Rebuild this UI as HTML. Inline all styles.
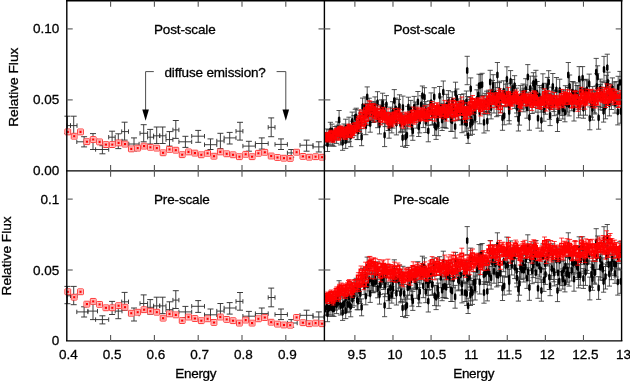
<!DOCTYPE html>
<html><head><meta charset="utf-8"><style>
html,body{margin:0;padding:0;background:#fff;width:630px;height:381px;overflow:hidden;}
svg{display:block;will-change:transform;filter:blur(0.35px);} text{-webkit-font-smoothing:antialiased;} body{-webkit-font-smoothing:antialiased;}
</style></head><body><svg width="630" height="381" viewBox="0 0 630 381"><path d="M66.9,125.6H70.5M67.4,116.2V133.5M64.4,116.2H70.4M64.4,133.5H70.4M66.9,123.4V127.8M70.5,123.4V127.8M70.5,125.6H77.0M73.7,116.2V134.5M70.7,116.2H76.7M70.7,134.5H76.7M70.5,123.4V127.8M77.0,123.4V127.8M76.8,141.8H87.9M84.1,136.7V146.9M81.1,136.7H87.1M81.1,146.9H87.1M76.8,139.6V144.0M87.9,139.6V144.0M87.9,141.0H97.5M93.0,133.6V149.5M90.0,133.6H96.0M90.0,149.5H96.0M87.9,138.8V143.2M97.5,138.8V143.2M95.6,149.5H108.7M102.4,145.7V153.8M99.4,145.7H105.4M99.4,153.8H105.4M95.6,147.3V151.7M108.7,147.3V151.7M108.7,137.2H115.2M112.1,131.2V144.4M109.1,131.2H115.1M109.1,144.4H115.1M108.7,135.0V139.4M115.2,135.0V139.4M115.2,141.0H122.0M118.3,133.8V148.6M115.3,133.8H121.3M115.3,148.6H121.3M115.2,138.8V143.2M122.0,138.8V143.2M121.7,131.6H128.5M124.6,122.2V140.1M121.6,122.2H127.6M121.6,140.1H127.6M121.7,129.4V133.8M128.5,129.4V133.8M128.8,144.0H139.1M134.0,137.9V150.9M131.0,137.9H137.0M131.0,150.9H137.0M128.8,141.8V146.2M139.1,141.8V146.2M140.0,133.3H147.6M143.7,124.7V141.8M140.7,124.7H146.7M140.7,141.8H146.7M140.0,131.1V135.5M147.6,131.1V135.5M147.6,137.2H153.6M150.2,129.4V144.0M147.2,129.4H153.2M147.2,144.0H153.2M147.6,135.0V139.4M153.6,135.0V139.4M153.6,135.8H159.7M156.7,127.0V143.5M153.7,127.0H159.7M153.7,143.5H159.7M153.6,133.6V138.0M159.7,133.6V138.0M159.7,135.8H166.0M162.7,127.0V143.5M159.7,127.0H165.7M159.7,143.5H165.7M159.7,133.6V138.0M166.0,133.6V138.0M166.0,139.6H172.9M169.5,131.6V146.1M166.5,131.6H172.5M166.5,146.1H172.5M166.0,137.4V141.8M172.9,137.4V141.8M172.9,129.9H178.9M175.8,120.5V138.4M172.8,120.5H178.8M172.8,138.4H178.8M172.9,127.7V132.1M178.9,127.7V132.1M178.9,141.8H191.7M185.4,136.3V147.4M182.4,136.3H188.4M182.4,147.4H188.4M178.9,139.6V144.0M191.7,139.6V144.0M191.7,136.2H204.5M198.2,130.4V142.3M195.2,130.4H201.2M195.2,142.3H201.2M191.7,134.0V138.4M204.5,134.0V138.4M204.5,144.7H216.8M210.5,138.9V149.5M207.5,138.9H213.5M207.5,149.5H213.5M204.5,142.5V146.9M216.8,142.5V146.9M216.8,141.0H224.1M220.4,133.3V148.6M217.4,133.3H223.4M217.4,148.6H223.4M216.8,138.8V143.2M224.1,138.8V143.2M224.1,137.9H236.0M229.7,132.4V144.0M226.7,132.4H232.7M226.7,144.0H232.7M224.1,135.7V140.1M236.0,135.7V140.1M236.0,131.2H242.9M240.0,122.3V140.1M237.0,122.3H243.0M237.0,140.1H243.0M236.0,129.0V133.4M242.9,129.0V133.4M242.9,146.1H255.4M248.9,141.3V151.2M245.9,141.3H251.9M245.9,151.2H251.9M242.9,143.9V148.3M255.4,143.9V148.3M255.4,143.5H268.2M261.8,137.9V149.1M258.8,137.9H264.8M258.8,149.1H264.8M255.4,141.3V145.7M268.2,141.3V145.7M268.2,127.3H275.0M271.2,117.9V136.7M268.2,117.9H274.2M268.2,136.7H274.2M268.2,125.1V129.5M275.0,125.1V129.5M275.0,144.4H287.4M281.0,138.9V149.5M278.0,138.9H284.0M278.0,149.5H284.0M275.0,142.2V146.6M287.4,142.2V146.6M287.4,152.9H297.2M291.2,149.5V157.2M288.2,149.5H294.2M288.2,157.2H294.2M287.4,150.7V155.1M297.2,150.7V155.1M300.0,145.2H313.0M306.6,140.1V151.2M303.6,140.1H309.6M303.6,151.2H309.6M300.0,143.0V147.4M313.0,143.0V147.4M313.0,146.9H324.0M318.8,141.8V152.0M315.8,141.8H321.8M315.8,152.0H321.8M313.0,144.7V149.1M324.0,144.7V149.1" stroke="#333" stroke-width="0.95" fill="none"/><g stroke="#ff0000" stroke-width="1" fill="none"><rect x="64.90" y="129.00" width="5.80" height="5.80" stroke-width="1.0" stroke="#ff3838" fill="#fff" rx="0.6"/><rect x="66.20" y="130.30" width="3.2" height="3.2" stroke-width="0.7" stroke-opacity="0.45"/><rect x="71.25" y="133.30" width="5.80" height="5.80" stroke-width="1.0" stroke="#ff3838" fill="#fff" rx="0.6"/><rect x="72.56" y="134.60" width="3.2" height="3.2" stroke-width="0.7" stroke-opacity="0.45"/><rect x="77.61" y="129.00" width="5.80" height="5.80" stroke-width="1.0" stroke="#ff3838" fill="#fff" rx="0.6"/><rect x="78.91" y="130.30" width="3.2" height="3.2" stroke-width="0.7" stroke-opacity="0.45"/><rect x="83.96" y="138.80" width="5.80" height="5.80" stroke-width="1.0" stroke="#ff3838" fill="#fff" rx="0.6"/><rect x="85.27" y="140.10" width="3.2" height="3.2" stroke-width="0.7" stroke-opacity="0.45"/><rect x="90.32" y="136.60" width="5.80" height="5.80" stroke-width="1.0" stroke="#ff3838" fill="#fff" rx="0.6"/><rect x="91.62" y="137.90" width="3.2" height="3.2" stroke-width="0.7" stroke-opacity="0.45"/><rect x="96.67" y="139.00" width="5.80" height="5.80" stroke-width="1.0" stroke="#ff3838" fill="#fff" rx="0.6"/><rect x="97.98" y="140.30" width="3.2" height="3.2" stroke-width="0.7" stroke-opacity="0.45"/><rect x="103.03" y="141.70" width="5.80" height="5.80" stroke-width="1.0" stroke="#ff3838" fill="#fff" rx="0.6"/><rect x="104.33" y="143.00" width="3.2" height="3.2" stroke-width="0.7" stroke-opacity="0.45"/><rect x="109.38" y="141.70" width="5.80" height="5.80" stroke-width="1.0" stroke="#ff3838" fill="#fff" rx="0.6"/><rect x="110.69" y="143.00" width="3.2" height="3.2" stroke-width="0.7" stroke-opacity="0.45"/><rect x="115.74" y="140.00" width="5.80" height="5.80" stroke-width="1.0" stroke="#ff3838" fill="#fff" rx="0.6"/><rect x="117.04" y="141.30" width="3.2" height="3.2" stroke-width="0.7" stroke-opacity="0.45"/><rect x="122.09" y="141.20" width="5.80" height="5.80" stroke-width="1.0" stroke="#ff3838" fill="#fff" rx="0.6"/><rect x="123.40" y="142.50" width="3.2" height="3.2" stroke-width="0.7" stroke-opacity="0.45"/><rect x="128.45" y="146.00" width="5.80" height="5.80" stroke-width="1.0" stroke="#ff3838" fill="#fff" rx="0.6"/><rect x="129.75" y="147.30" width="3.2" height="3.2" stroke-width="0.7" stroke-opacity="0.45"/><rect x="134.80" y="145.20" width="5.80" height="5.80" stroke-width="1.0" stroke="#ff3838" fill="#fff" rx="0.6"/><rect x="136.10" y="146.50" width="3.2" height="3.2" stroke-width="0.7" stroke-opacity="0.45"/><rect x="141.16" y="143.20" width="5.80" height="5.80" stroke-width="1.0" stroke="#ff3838" fill="#fff" rx="0.6"/><rect x="142.46" y="144.50" width="3.2" height="3.2" stroke-width="0.7" stroke-opacity="0.45"/><rect x="147.52" y="144.40" width="5.80" height="5.80" stroke-width="1.0" stroke="#ff3838" fill="#fff" rx="0.6"/><rect x="148.82" y="145.70" width="3.2" height="3.2" stroke-width="0.7" stroke-opacity="0.45"/><rect x="153.87" y="145.20" width="5.80" height="5.80" stroke-width="1.0" stroke="#ff3838" fill="#fff" rx="0.6"/><rect x="155.17" y="146.50" width="3.2" height="3.2" stroke-width="0.7" stroke-opacity="0.45"/><rect x="160.22" y="149.90" width="5.80" height="5.80" stroke-width="1.0" stroke="#ff3838" fill="#fff" rx="0.6"/><rect x="161.53" y="151.20" width="3.2" height="3.2" stroke-width="0.7" stroke-opacity="0.45"/><rect x="166.58" y="146.50" width="5.80" height="5.80" stroke-width="1.0" stroke="#ff3838" fill="#fff" rx="0.6"/><rect x="167.88" y="147.80" width="3.2" height="3.2" stroke-width="0.7" stroke-opacity="0.45"/><rect x="172.94" y="147.30" width="5.80" height="5.80" stroke-width="1.0" stroke="#ff3838" fill="#fff" rx="0.6"/><rect x="174.24" y="148.60" width="3.2" height="3.2" stroke-width="0.7" stroke-opacity="0.45"/><rect x="179.29" y="151.80" width="5.80" height="5.80" stroke-width="1.0" stroke="#ff3838" fill="#fff" rx="0.6"/><rect x="180.59" y="153.10" width="3.2" height="3.2" stroke-width="0.7" stroke-opacity="0.45"/><rect x="185.65" y="149.00" width="5.80" height="5.80" stroke-width="1.0" stroke="#ff3838" fill="#fff" rx="0.6"/><rect x="186.95" y="150.30" width="3.2" height="3.2" stroke-width="0.7" stroke-opacity="0.45"/><rect x="192.00" y="150.20" width="5.80" height="5.80" stroke-width="1.0" stroke="#ff3838" fill="#fff" rx="0.6"/><rect x="193.30" y="151.50" width="3.2" height="3.2" stroke-width="0.7" stroke-opacity="0.45"/><rect x="198.35" y="151.90" width="5.80" height="5.80" stroke-width="1.0" stroke="#ff3838" fill="#fff" rx="0.6"/><rect x="199.66" y="153.20" width="3.2" height="3.2" stroke-width="0.7" stroke-opacity="0.45"/><rect x="204.71" y="150.40" width="5.80" height="5.80" stroke-width="1.0" stroke="#ff3838" fill="#fff" rx="0.6"/><rect x="206.01" y="151.70" width="3.2" height="3.2" stroke-width="0.7" stroke-opacity="0.45"/><rect x="211.07" y="153.30" width="5.80" height="5.80" stroke-width="1.0" stroke="#ff3838" fill="#fff" rx="0.6"/><rect x="212.37" y="154.60" width="3.2" height="3.2" stroke-width="0.7" stroke-opacity="0.45"/><rect x="217.42" y="149.00" width="5.80" height="5.80" stroke-width="1.0" stroke="#ff3838" fill="#fff" rx="0.6"/><rect x="218.72" y="150.30" width="3.2" height="3.2" stroke-width="0.7" stroke-opacity="0.45"/><rect x="223.78" y="150.90" width="5.80" height="5.80" stroke-width="1.0" stroke="#ff3838" fill="#fff" rx="0.6"/><rect x="225.08" y="152.20" width="3.2" height="3.2" stroke-width="0.7" stroke-opacity="0.45"/><rect x="230.13" y="151.90" width="5.80" height="5.80" stroke-width="1.0" stroke="#ff3838" fill="#fff" rx="0.6"/><rect x="231.43" y="153.20" width="3.2" height="3.2" stroke-width="0.7" stroke-opacity="0.45"/><rect x="236.48" y="153.80" width="5.80" height="5.80" stroke-width="1.0" stroke="#ff3838" fill="#fff" rx="0.6"/><rect x="237.78" y="155.10" width="3.2" height="3.2" stroke-width="0.7" stroke-opacity="0.45"/><rect x="242.84" y="151.40" width="5.80" height="5.80" stroke-width="1.0" stroke="#ff3838" fill="#fff" rx="0.6"/><rect x="244.14" y="152.70" width="3.2" height="3.2" stroke-width="0.7" stroke-opacity="0.45"/><rect x="249.20" y="153.80" width="5.80" height="5.80" stroke-width="1.0" stroke="#ff3838" fill="#fff" rx="0.6"/><rect x="250.50" y="155.10" width="3.2" height="3.2" stroke-width="0.7" stroke-opacity="0.45"/><rect x="255.55" y="150.40" width="5.80" height="5.80" stroke-width="1.0" stroke="#ff3838" fill="#fff" rx="0.6"/><rect x="256.85" y="151.70" width="3.2" height="3.2" stroke-width="0.7" stroke-opacity="0.45"/><rect x="261.91" y="149.40" width="5.80" height="5.80" stroke-width="1.0" stroke="#ff3838" fill="#fff" rx="0.6"/><rect x="263.20" y="150.70" width="3.2" height="3.2" stroke-width="0.7" stroke-opacity="0.45"/><rect x="268.26" y="153.10" width="5.80" height="5.80" stroke-width="1.0" stroke="#ff3838" fill="#fff" rx="0.6"/><rect x="269.56" y="154.40" width="3.2" height="3.2" stroke-width="0.7" stroke-opacity="0.45"/><rect x="274.62" y="154.60" width="5.80" height="5.80" stroke-width="1.0" stroke="#ff3838" fill="#fff" rx="0.6"/><rect x="275.91" y="155.90" width="3.2" height="3.2" stroke-width="0.7" stroke-opacity="0.45"/><rect x="280.97" y="155.30" width="5.80" height="5.80" stroke-width="1.0" stroke="#ff3838" fill="#fff" rx="0.6"/><rect x="282.27" y="156.60" width="3.2" height="3.2" stroke-width="0.7" stroke-opacity="0.45"/><rect x="287.33" y="155.50" width="5.80" height="5.80" stroke-width="1.0" stroke="#ff3838" fill="#fff" rx="0.6"/><rect x="288.62" y="156.80" width="3.2" height="3.2" stroke-width="0.7" stroke-opacity="0.45"/><rect x="293.68" y="149.30" width="5.80" height="5.80" stroke-width="1.0" stroke="#ff3838" fill="#fff" rx="0.6"/><rect x="294.98" y="150.60" width="3.2" height="3.2" stroke-width="0.7" stroke-opacity="0.45"/><rect x="300.04" y="153.50" width="5.80" height="5.80" stroke-width="1.0" stroke="#ff3838" fill="#fff" rx="0.6"/><rect x="301.33" y="154.80" width="3.2" height="3.2" stroke-width="0.7" stroke-opacity="0.45"/><rect x="306.39" y="154.30" width="5.80" height="5.80" stroke-width="1.0" stroke="#ff3838" fill="#fff" rx="0.6"/><rect x="307.69" y="155.60" width="3.2" height="3.2" stroke-width="0.7" stroke-opacity="0.45"/><rect x="312.75" y="153.80" width="5.80" height="5.80" stroke-width="1.0" stroke="#ff3838" fill="#fff" rx="0.6"/><rect x="314.05" y="155.10" width="3.2" height="3.2" stroke-width="0.7" stroke-opacity="0.45"/><rect x="319.10" y="154.30" width="5.80" height="5.80" stroke-width="1.0" stroke="#ff3838" fill="#fff" rx="0.6"/><rect x="320.40" y="155.60" width="3.2" height="3.2" stroke-width="0.7" stroke-opacity="0.45"/></g><g fill="#f00"><rect x="66.7" y="130.8" width="2.2" height="2.2"/><rect x="73.1" y="135.1" width="2.2" height="2.2"/><rect x="79.4" y="130.8" width="2.2" height="2.2"/><rect x="85.8" y="140.6" width="2.2" height="2.2"/><rect x="92.1" y="138.4" width="2.2" height="2.2"/><rect x="98.5" y="140.8" width="2.2" height="2.2"/><rect x="104.8" y="143.5" width="2.2" height="2.2"/><rect x="111.2" y="143.5" width="2.2" height="2.2"/><rect x="117.5" y="141.8" width="2.2" height="2.2"/><rect x="123.9" y="143.0" width="2.2" height="2.2"/><rect x="130.2" y="147.8" width="2.2" height="2.2"/><rect x="136.6" y="147.0" width="2.2" height="2.2"/><rect x="143.0" y="145.0" width="2.2" height="2.2"/><rect x="149.3" y="146.2" width="2.2" height="2.2"/><rect x="155.7" y="147.0" width="2.2" height="2.2"/><rect x="162.0" y="151.7" width="2.2" height="2.2"/><rect x="168.4" y="148.3" width="2.2" height="2.2"/><rect x="174.7" y="149.1" width="2.2" height="2.2"/><rect x="181.1" y="153.6" width="2.2" height="2.2"/><rect x="187.4" y="150.8" width="2.2" height="2.2"/><rect x="193.8" y="152.0" width="2.2" height="2.2"/><rect x="200.2" y="153.7" width="2.2" height="2.2"/><rect x="206.5" y="152.2" width="2.2" height="2.2"/><rect x="212.9" y="155.1" width="2.2" height="2.2"/><rect x="219.2" y="150.8" width="2.2" height="2.2"/><rect x="225.6" y="152.7" width="2.2" height="2.2"/><rect x="231.9" y="153.7" width="2.2" height="2.2"/><rect x="238.3" y="155.6" width="2.2" height="2.2"/><rect x="244.6" y="153.2" width="2.2" height="2.2"/><rect x="251.0" y="155.6" width="2.2" height="2.2"/><rect x="257.3" y="152.2" width="2.2" height="2.2"/><rect x="263.7" y="151.2" width="2.2" height="2.2"/><rect x="270.1" y="154.9" width="2.2" height="2.2"/><rect x="276.4" y="156.4" width="2.2" height="2.2"/><rect x="282.8" y="157.1" width="2.2" height="2.2"/><rect x="289.1" y="157.3" width="2.2" height="2.2"/><rect x="295.5" y="151.1" width="2.2" height="2.2"/><rect x="301.8" y="155.3" width="2.2" height="2.2"/><rect x="308.2" y="156.1" width="2.2" height="2.2"/><rect x="314.5" y="155.6" width="2.2" height="2.2"/><rect x="320.9" y="156.1" width="2.2" height="2.2"/></g><path d="M66.9,295.8H70.5M67.4,286.4V303.7M64.4,286.4H70.4M64.4,303.7H70.4M66.9,293.6V298.0M70.5,293.6V298.0M70.5,295.8H77.0M73.7,286.4V304.7M70.7,286.4H76.7M70.7,304.7H76.7M70.5,293.6V298.0M77.0,293.6V298.0M76.8,311.9H87.9M84.1,306.8V317.0M81.1,306.8H87.1M81.1,317.0H87.1M76.8,309.7V314.1M87.9,309.7V314.1M87.9,311.1H97.5M93.0,303.8V319.6M90.0,303.8H96.0M90.0,319.6H96.0M87.9,308.9V313.3M97.5,308.9V313.3M95.6,319.6H108.7M102.4,315.8V323.9M99.4,315.8H105.4M99.4,323.9H105.4M95.6,317.4V321.8M108.7,317.4V321.8M108.7,307.3H115.2M112.1,301.4V314.5M109.1,301.4H115.1M109.1,314.5H115.1M108.7,305.1V309.5M115.2,305.1V309.5M115.2,311.1H122.0M118.3,304.0V318.7M115.3,304.0H121.3M115.3,318.7H121.3M115.2,308.9V313.3M122.0,308.9V313.3M121.7,301.8H128.5M124.6,292.4V310.2M121.6,292.4H127.6M121.6,310.2H127.6M121.7,299.6V304.0M128.5,299.6V304.0M128.8,314.1H139.1M134.0,308.0V321.0M131.0,308.0H137.0M131.0,321.0H137.0M128.8,311.9V316.3M139.1,311.9V316.3M140.0,303.5H147.6M143.7,294.9V311.9M140.7,294.9H146.7M140.7,311.9H146.7M140.0,301.3V305.7M147.6,301.3V305.7M147.6,307.3H153.6M150.2,299.6V314.1M147.2,299.6H153.2M147.2,314.1H153.2M147.6,305.1V309.5M153.6,305.1V309.5M153.6,305.9H159.7M156.7,297.2V313.6M153.7,297.2H159.7M153.7,313.6H159.7M153.6,303.7V308.1M159.7,303.7V308.1M159.7,305.9H166.0M162.7,297.2V313.6M159.7,297.2H165.7M159.7,313.6H165.7M159.7,303.7V308.1M166.0,303.7V308.1M166.0,309.7H172.9M169.5,301.8V316.2M166.5,301.8H172.5M166.5,316.2H172.5M166.0,307.5V311.9M172.9,307.5V311.9M172.9,300.1H178.9M175.8,290.7V308.5M172.8,290.7H178.8M172.8,308.5H178.8M172.9,297.9V302.3M178.9,297.9V302.3M178.9,311.9H191.7M185.4,306.4V317.5M182.4,306.4H188.4M182.4,317.5H188.4M178.9,309.7V314.1M191.7,309.7V314.1M191.7,306.3H204.5M198.2,300.6V312.4M195.2,300.6H201.2M195.2,312.4H201.2M191.7,304.1V308.5M204.5,304.1V308.5M204.5,314.8H216.8M210.5,309.0V319.6M207.5,309.0H213.5M207.5,319.6H213.5M204.5,312.6V317.0M216.8,312.6V317.0M216.8,311.1H224.1M220.4,303.5V318.7M217.4,303.5H223.4M217.4,318.7H223.4M216.8,308.9V313.3M224.1,308.9V313.3M224.1,308.0H236.0M229.7,302.6V314.1M226.7,302.6H232.7M226.7,314.1H232.7M224.1,305.8V310.2M236.0,305.8V310.2M236.0,301.4H242.9M240.0,292.5V310.2M237.0,292.5H243.0M237.0,310.2H243.0M236.0,299.2V303.6M242.9,299.2V303.6M242.9,316.2H255.4M248.9,311.4V321.3M245.9,311.4H251.9M245.9,321.3H251.9M242.9,314.0V318.4M255.4,314.0V318.4M255.4,313.6H268.2M261.8,308.0V319.2M258.8,308.0H264.8M258.8,319.2H264.8M255.4,311.4V315.8M268.2,311.4V315.8M268.2,297.5H275.0M271.2,288.1V306.8M268.2,288.1H274.2M268.2,306.8H274.2M268.2,295.3V299.7M275.0,295.3V299.7M275.0,314.5H287.4M281.0,309.0V319.6M278.0,309.0H284.0M278.0,319.6H284.0M275.0,312.3V316.7M287.4,312.3V316.7M287.4,323.0H297.2M291.2,319.6V327.3M288.2,319.6H294.2M288.2,327.3H294.2M287.4,320.8V325.2M297.2,320.8V325.2M300.0,315.3H313.0M306.6,310.2V321.3M303.6,310.2H309.6M303.6,321.3H309.6M300.0,313.1V317.5M313.0,313.1V317.5M313.0,317.0H324.0M318.8,311.9V322.1M315.8,311.9H321.8M315.8,322.1H321.8M313.0,314.8V319.2M324.0,314.8V319.2" stroke="#333" stroke-width="0.95" fill="none"/><g stroke="#ff0000" stroke-width="1" fill="none"><rect x="64.90" y="288.86" width="5.80" height="5.80" stroke-width="1.0" stroke="#ff3838" fill="#fff" rx="0.6"/><rect x="66.20" y="290.16" width="3.2" height="3.2" stroke-width="0.7" stroke-opacity="0.45"/><rect x="71.25" y="294.29" width="5.80" height="5.80" stroke-width="1.0" stroke="#ff3838" fill="#fff" rx="0.6"/><rect x="72.56" y="295.59" width="3.2" height="3.2" stroke-width="0.7" stroke-opacity="0.45"/><rect x="77.61" y="288.86" width="5.80" height="5.80" stroke-width="1.0" stroke="#ff3838" fill="#fff" rx="0.6"/><rect x="78.91" y="290.16" width="3.2" height="3.2" stroke-width="0.7" stroke-opacity="0.45"/><rect x="83.96" y="301.24" width="5.80" height="5.80" stroke-width="1.0" stroke="#ff3838" fill="#fff" rx="0.6"/><rect x="85.27" y="302.54" width="3.2" height="3.2" stroke-width="0.7" stroke-opacity="0.45"/><rect x="90.32" y="298.46" width="5.80" height="5.80" stroke-width="1.0" stroke="#ff3838" fill="#fff" rx="0.6"/><rect x="91.62" y="299.76" width="3.2" height="3.2" stroke-width="0.7" stroke-opacity="0.45"/><rect x="96.67" y="301.49" width="5.80" height="5.80" stroke-width="1.0" stroke="#ff3838" fill="#fff" rx="0.6"/><rect x="97.98" y="302.79" width="3.2" height="3.2" stroke-width="0.7" stroke-opacity="0.45"/><rect x="103.03" y="304.90" width="5.80" height="5.80" stroke-width="1.0" stroke="#ff3838" fill="#fff" rx="0.6"/><rect x="104.33" y="306.20" width="3.2" height="3.2" stroke-width="0.7" stroke-opacity="0.45"/><rect x="109.38" y="304.90" width="5.80" height="5.80" stroke-width="1.0" stroke="#ff3838" fill="#fff" rx="0.6"/><rect x="110.69" y="306.20" width="3.2" height="3.2" stroke-width="0.7" stroke-opacity="0.45"/><rect x="115.74" y="302.76" width="5.80" height="5.80" stroke-width="1.0" stroke="#ff3838" fill="#fff" rx="0.6"/><rect x="117.04" y="304.06" width="3.2" height="3.2" stroke-width="0.7" stroke-opacity="0.45"/><rect x="122.09" y="304.27" width="5.80" height="5.80" stroke-width="1.0" stroke="#ff3838" fill="#fff" rx="0.6"/><rect x="123.40" y="305.57" width="3.2" height="3.2" stroke-width="0.7" stroke-opacity="0.45"/><rect x="128.45" y="310.34" width="5.80" height="5.80" stroke-width="1.0" stroke="#ff3838" fill="#fff" rx="0.6"/><rect x="129.75" y="311.64" width="3.2" height="3.2" stroke-width="0.7" stroke-opacity="0.45"/><rect x="134.80" y="309.32" width="5.80" height="5.80" stroke-width="1.0" stroke="#ff3838" fill="#fff" rx="0.6"/><rect x="136.10" y="310.62" width="3.2" height="3.2" stroke-width="0.7" stroke-opacity="0.45"/><rect x="141.16" y="306.80" width="5.80" height="5.80" stroke-width="1.0" stroke="#ff3838" fill="#fff" rx="0.6"/><rect x="142.46" y="308.10" width="3.2" height="3.2" stroke-width="0.7" stroke-opacity="0.45"/><rect x="147.52" y="308.31" width="5.80" height="5.80" stroke-width="1.0" stroke="#ff3838" fill="#fff" rx="0.6"/><rect x="148.82" y="309.61" width="3.2" height="3.2" stroke-width="0.7" stroke-opacity="0.45"/><rect x="153.87" y="309.32" width="5.80" height="5.80" stroke-width="1.0" stroke="#ff3838" fill="#fff" rx="0.6"/><rect x="155.17" y="310.62" width="3.2" height="3.2" stroke-width="0.7" stroke-opacity="0.45"/><rect x="160.22" y="315.26" width="5.80" height="5.80" stroke-width="1.0" stroke="#ff3838" fill="#fff" rx="0.6"/><rect x="161.53" y="316.56" width="3.2" height="3.2" stroke-width="0.7" stroke-opacity="0.45"/><rect x="166.58" y="310.97" width="5.80" height="5.80" stroke-width="1.0" stroke="#ff3838" fill="#fff" rx="0.6"/><rect x="167.88" y="312.27" width="3.2" height="3.2" stroke-width="0.7" stroke-opacity="0.45"/><rect x="172.94" y="311.98" width="5.80" height="5.80" stroke-width="1.0" stroke="#ff3838" fill="#fff" rx="0.6"/><rect x="174.24" y="313.28" width="3.2" height="3.2" stroke-width="0.7" stroke-opacity="0.45"/><rect x="179.29" y="317.66" width="5.80" height="5.80" stroke-width="1.0" stroke="#ff3838" fill="#fff" rx="0.6"/><rect x="180.59" y="318.96" width="3.2" height="3.2" stroke-width="0.7" stroke-opacity="0.45"/><rect x="185.65" y="314.13" width="5.80" height="5.80" stroke-width="1.0" stroke="#ff3838" fill="#fff" rx="0.6"/><rect x="186.95" y="315.43" width="3.2" height="3.2" stroke-width="0.7" stroke-opacity="0.45"/><rect x="192.00" y="315.64" width="5.80" height="5.80" stroke-width="1.0" stroke="#ff3838" fill="#fff" rx="0.6"/><rect x="193.30" y="316.94" width="3.2" height="3.2" stroke-width="0.7" stroke-opacity="0.45"/><rect x="198.35" y="317.79" width="5.80" height="5.80" stroke-width="1.0" stroke="#ff3838" fill="#fff" rx="0.6"/><rect x="199.66" y="319.09" width="3.2" height="3.2" stroke-width="0.7" stroke-opacity="0.45"/><rect x="204.71" y="315.89" width="5.80" height="5.80" stroke-width="1.0" stroke="#ff3838" fill="#fff" rx="0.6"/><rect x="206.01" y="317.19" width="3.2" height="3.2" stroke-width="0.7" stroke-opacity="0.45"/><rect x="211.07" y="319.56" width="5.80" height="5.80" stroke-width="1.0" stroke="#ff3838" fill="#fff" rx="0.6"/><rect x="212.37" y="320.86" width="3.2" height="3.2" stroke-width="0.7" stroke-opacity="0.45"/><rect x="217.42" y="314.13" width="5.80" height="5.80" stroke-width="1.0" stroke="#ff3838" fill="#fff" rx="0.6"/><rect x="218.72" y="315.43" width="3.2" height="3.2" stroke-width="0.7" stroke-opacity="0.45"/><rect x="223.78" y="316.53" width="5.80" height="5.80" stroke-width="1.0" stroke="#ff3838" fill="#fff" rx="0.6"/><rect x="225.08" y="317.83" width="3.2" height="3.2" stroke-width="0.7" stroke-opacity="0.45"/><rect x="230.13" y="317.79" width="5.80" height="5.80" stroke-width="1.0" stroke="#ff3838" fill="#fff" rx="0.6"/><rect x="231.43" y="319.09" width="3.2" height="3.2" stroke-width="0.7" stroke-opacity="0.45"/><rect x="236.48" y="320.19" width="5.80" height="5.80" stroke-width="1.0" stroke="#ff3838" fill="#fff" rx="0.6"/><rect x="237.78" y="321.49" width="3.2" height="3.2" stroke-width="0.7" stroke-opacity="0.45"/><rect x="242.84" y="317.16" width="5.80" height="5.80" stroke-width="1.0" stroke="#ff3838" fill="#fff" rx="0.6"/><rect x="244.14" y="318.46" width="3.2" height="3.2" stroke-width="0.7" stroke-opacity="0.45"/><rect x="249.20" y="320.19" width="5.80" height="5.80" stroke-width="1.0" stroke="#ff3838" fill="#fff" rx="0.6"/><rect x="250.50" y="321.49" width="3.2" height="3.2" stroke-width="0.7" stroke-opacity="0.45"/><rect x="255.55" y="315.89" width="5.80" height="5.80" stroke-width="1.0" stroke="#ff3838" fill="#fff" rx="0.6"/><rect x="256.85" y="317.19" width="3.2" height="3.2" stroke-width="0.7" stroke-opacity="0.45"/><rect x="261.91" y="314.63" width="5.80" height="5.80" stroke-width="1.0" stroke="#ff3838" fill="#fff" rx="0.6"/><rect x="263.20" y="315.93" width="3.2" height="3.2" stroke-width="0.7" stroke-opacity="0.45"/><rect x="268.26" y="319.30" width="5.80" height="5.80" stroke-width="1.0" stroke="#ff3838" fill="#fff" rx="0.6"/><rect x="269.56" y="320.60" width="3.2" height="3.2" stroke-width="0.7" stroke-opacity="0.45"/><rect x="274.62" y="321.20" width="5.80" height="5.80" stroke-width="1.0" stroke="#ff3838" fill="#fff" rx="0.6"/><rect x="275.91" y="322.50" width="3.2" height="3.2" stroke-width="0.7" stroke-opacity="0.45"/><rect x="280.97" y="322.08" width="5.80" height="5.80" stroke-width="1.0" stroke="#ff3838" fill="#fff" rx="0.6"/><rect x="282.27" y="323.38" width="3.2" height="3.2" stroke-width="0.7" stroke-opacity="0.45"/><rect x="287.33" y="322.34" width="5.80" height="5.80" stroke-width="1.0" stroke="#ff3838" fill="#fff" rx="0.6"/><rect x="288.62" y="323.64" width="3.2" height="3.2" stroke-width="0.7" stroke-opacity="0.45"/><rect x="293.68" y="314.50" width="5.80" height="5.80" stroke-width="1.0" stroke="#ff3838" fill="#fff" rx="0.6"/><rect x="294.98" y="315.80" width="3.2" height="3.2" stroke-width="0.7" stroke-opacity="0.45"/><rect x="300.04" y="319.81" width="5.80" height="5.80" stroke-width="1.0" stroke="#ff3838" fill="#fff" rx="0.6"/><rect x="301.33" y="321.11" width="3.2" height="3.2" stroke-width="0.7" stroke-opacity="0.45"/><rect x="306.39" y="320.82" width="5.80" height="5.80" stroke-width="1.0" stroke="#ff3838" fill="#fff" rx="0.6"/><rect x="307.69" y="322.12" width="3.2" height="3.2" stroke-width="0.7" stroke-opacity="0.45"/><rect x="312.75" y="320.19" width="5.80" height="5.80" stroke-width="1.0" stroke="#ff3838" fill="#fff" rx="0.6"/><rect x="314.05" y="321.49" width="3.2" height="3.2" stroke-width="0.7" stroke-opacity="0.45"/><rect x="319.10" y="320.82" width="5.80" height="5.80" stroke-width="1.0" stroke="#ff3838" fill="#fff" rx="0.6"/><rect x="320.40" y="322.12" width="3.2" height="3.2" stroke-width="0.7" stroke-opacity="0.45"/></g><g fill="#f00"><rect x="66.7" y="290.7" width="2.2" height="2.2"/><rect x="73.1" y="296.1" width="2.2" height="2.2"/><rect x="79.4" y="290.7" width="2.2" height="2.2"/><rect x="85.8" y="303.0" width="2.2" height="2.2"/><rect x="92.1" y="300.3" width="2.2" height="2.2"/><rect x="98.5" y="303.3" width="2.2" height="2.2"/><rect x="104.8" y="306.7" width="2.2" height="2.2"/><rect x="111.2" y="306.7" width="2.2" height="2.2"/><rect x="117.5" y="304.6" width="2.2" height="2.2"/><rect x="123.9" y="306.1" width="2.2" height="2.2"/><rect x="130.2" y="312.1" width="2.2" height="2.2"/><rect x="136.6" y="311.1" width="2.2" height="2.2"/><rect x="143.0" y="308.6" width="2.2" height="2.2"/><rect x="149.3" y="310.1" width="2.2" height="2.2"/><rect x="155.7" y="311.1" width="2.2" height="2.2"/><rect x="162.0" y="317.1" width="2.2" height="2.2"/><rect x="168.4" y="312.8" width="2.2" height="2.2"/><rect x="174.7" y="313.8" width="2.2" height="2.2"/><rect x="181.1" y="319.5" width="2.2" height="2.2"/><rect x="187.4" y="315.9" width="2.2" height="2.2"/><rect x="193.8" y="317.4" width="2.2" height="2.2"/><rect x="200.2" y="319.6" width="2.2" height="2.2"/><rect x="206.5" y="317.7" width="2.2" height="2.2"/><rect x="212.9" y="321.4" width="2.2" height="2.2"/><rect x="219.2" y="315.9" width="2.2" height="2.2"/><rect x="225.6" y="318.3" width="2.2" height="2.2"/><rect x="231.9" y="319.6" width="2.2" height="2.2"/><rect x="238.3" y="322.0" width="2.2" height="2.2"/><rect x="244.6" y="319.0" width="2.2" height="2.2"/><rect x="251.0" y="322.0" width="2.2" height="2.2"/><rect x="257.3" y="317.7" width="2.2" height="2.2"/><rect x="263.7" y="316.4" width="2.2" height="2.2"/><rect x="270.1" y="321.1" width="2.2" height="2.2"/><rect x="276.4" y="323.0" width="2.2" height="2.2"/><rect x="282.8" y="323.9" width="2.2" height="2.2"/><rect x="289.1" y="324.1" width="2.2" height="2.2"/><rect x="295.5" y="316.3" width="2.2" height="2.2"/><rect x="301.8" y="321.6" width="2.2" height="2.2"/><rect x="308.2" y="322.6" width="2.2" height="2.2"/><rect x="314.5" y="322.0" width="2.2" height="2.2"/><rect x="320.9" y="322.6" width="2.2" height="2.2"/></g><defs><clipPath id="cT"><rect x="324.4" y="0" width="297.20000000000005" height="170.8"/></clipPath><clipPath id="cB"><rect x="324.4" y="170.8" width="297.20000000000005" height="170.09999999999997"/></clipPath></defs><g clip-path="url(#cT)"><path d="M324.9,132.5V145.5M322.3,132.5H327.5M322.3,145.5H327.5M326.8,129.0V144.8M324.2,129.0H329.4M324.2,144.8H329.4M327.5,135.4V151.5M324.9,135.4H330.1M324.9,151.5H330.1M329.0,129.8V146.2M326.4,129.8H331.6M326.4,146.2H331.6M330.4,122.3V139.7M327.8,122.3H333.0M327.8,139.7H333.0M330.9,129.7V144.8M328.3,129.7H333.5M328.3,144.8H333.5M332.0,124.1V137.8M329.4,124.1H334.6M329.4,137.8H334.6M332.6,131.3V145.7M330.0,131.3H335.2M330.0,145.7H335.2M333.9,131.0V146.3M331.3,131.0H336.5M331.3,146.3H336.5M335.3,126.5V140.0M332.7,126.5H337.9M332.7,140.0H337.9M336.6,126.1V143.4M334.0,126.1H339.2M334.0,143.4H339.2M337.8,121.9V135.8M335.2,121.9H340.4M335.2,135.8H340.4M338.4,125.1V139.0M335.8,125.1H341.0M335.8,139.0H341.0M339.1,110.5V129.4M336.5,110.5H341.7M336.5,129.4H341.7M340.5,126.5V144.9M337.9,126.5H343.1M337.9,144.9H343.1M342.4,127.6V143.0M339.8,127.6H345.0M339.8,143.0H345.0M342.6,134.3V150.3M340.0,134.3H345.2M340.0,150.3H345.2M344.0,124.0V143.0M341.4,124.0H346.6M341.4,143.0H346.6M345.7,119.2V137.2M343.1,119.2H348.3M343.1,137.2H348.3M345.7,132.6V148.4M343.1,132.6H348.3M343.1,148.4H348.3M347.5,125.4V142.6M344.9,125.4H350.1M344.9,142.6H350.1M349.0,117.2V137.0M346.4,117.2H351.6M346.4,137.0H351.6M349.2,126.9V141.6M346.6,126.9H351.8M346.6,141.6H351.8M350.7,125.8V146.7M348.1,125.8H353.3M348.1,146.7H353.3M352.2,112.1V130.5M349.6,112.1H354.8M349.6,130.5H354.8M352.4,121.2V137.3M349.8,121.2H355.0M349.8,137.3H355.0M354.0,115.6V135.7M351.4,115.6H356.6M351.4,135.7H356.6M355.3,109.3V125.1M352.7,109.3H357.9M352.7,125.1H357.9M356.3,108.2V126.1M353.7,108.2H358.9M353.7,126.1H358.9M357.2,120.5V139.5M354.6,120.5H359.8M354.6,139.5H359.8M358.0,122.5V139.6M355.4,122.5H360.6M355.4,139.6H360.6M359.4,110.1V131.5M356.8,110.1H362.0M356.8,131.5H362.0M360.4,113.2V133.4M357.8,113.2H363.0M357.8,133.4H363.0M361.6,128.7V145.7M359.0,128.7H364.2M359.0,145.7H364.2M362.6,98.1V115.0M360.0,98.1H365.2M360.0,115.0H365.2M364.2,107.9V124.4M361.6,107.9H366.8M361.6,124.4H366.8M365.2,96.9V117.0M362.6,96.9H367.8M362.6,117.0H367.8M365.8,117.1V134.7M363.2,117.1H368.4M363.2,134.7H368.4M367.2,86.9V107.0M364.6,86.9H369.8M364.6,107.0H369.8M367.9,103.5V125.6M365.3,103.5H370.5M365.3,125.6H370.5M369.2,98.2V120.8M366.6,98.2H371.8M366.6,120.8H371.8M370.2,114.9V132.2M367.6,114.9H372.8M367.6,132.2H372.8M371.7,101.7V120.6M369.1,101.7H374.3M369.1,120.6H374.3M372.4,103.0V122.4M369.8,103.0H375.0M369.8,122.4H375.0M373.6,103.3V122.5M371.0,103.3H376.2M371.0,122.5H376.2M375.0,96.9V116.3M372.4,96.9H377.6M372.4,116.3H377.6M375.8,101.8V121.6M373.2,101.8H378.4M373.2,121.6H378.4M377.5,91.7V113.5M374.9,91.7H380.1M374.9,113.5H380.1M377.7,109.0V127.7M375.1,109.0H380.3M375.1,127.7H380.3M379.5,115.0V133.9M376.9,115.0H382.1M376.9,133.9H382.1M380.2,104.9V124.2M377.6,104.9H382.8M377.6,124.2H382.8M381.3,99.9V117.6M378.7,99.9H383.9M378.7,117.6H383.9M382.6,93.2V114.1M380.0,93.2H385.2M380.0,114.1H385.2M383.6,99.9V119.3M381.0,99.9H386.2M381.0,119.3H386.2M384.6,123.6V146.6M382.0,123.6H387.2M382.0,146.6H387.2M385.2,104.2V126.6M382.6,104.2H387.8M382.6,126.6H387.8M386.4,95.6V113.9M383.8,95.6H389.0M383.8,113.9H389.0M388.2,112.1V130.5M385.6,112.1H390.8M385.6,130.5H390.8M389.1,116.1V138.2M386.5,116.1H391.7M386.5,138.2H391.7M390.4,107.2V127.8M387.8,107.2H393.0M387.8,127.8H393.0M391.8,116.1V132.9M389.2,116.1H394.4M389.2,132.9H394.4M392.6,101.7V122.8M390.0,101.7H395.2M390.0,122.8H395.2M392.9,108.6V128.1M390.3,108.6H395.5M390.3,128.1H395.5M394.3,89.6V111.8M391.7,89.6H396.9M391.7,111.8H396.9M395.7,98.1V120.0M393.1,98.1H398.3M393.1,120.0H398.3M396.4,111.7V134.9M393.8,111.7H399.0M393.8,134.9H399.0M398.4,99.4V121.1M395.8,99.4H401.0M395.8,121.1H401.0M399.5,94.8V118.0M396.9,94.8H402.1M396.9,118.0H402.1M400.4,113.9V132.7M397.8,113.9H403.0M397.8,132.7H403.0M401.1,112.2V131.4M398.5,112.2H403.7M398.5,131.4H403.7M402.6,129.1V146.3M400.0,129.1H405.2M400.0,146.3H405.2M402.9,96.1V119.0M400.3,96.1H405.5M400.3,119.0H405.5M404.2,114.2V132.2M401.6,114.2H406.8M401.6,132.2H406.8M405.5,126.7V147.4M402.9,126.7H408.1M402.9,147.4H408.1M406.9,125.0V145.5M404.3,125.0H409.5M404.3,145.5H409.5M407.7,106.3V128.9M405.1,106.3H410.3M405.1,128.9H410.3M408.4,97.2V116.8M405.8,97.2H411.0M405.8,116.8H411.0M409.7,107.1V125.1M407.1,107.1H412.3M407.1,125.1H412.3M410.8,100.4V120.1M408.2,100.4H413.4M408.2,120.1H413.4M411.9,118.6V135.9M409.3,118.6H414.5M409.3,135.9H414.5M412.8,121.2V140.3M410.2,121.2H415.4M410.2,140.3H415.4M414.2,96.4V117.8M411.6,96.4H416.8M411.6,117.8H416.8M415.3,102.0V119.5M412.7,102.0H417.9M412.7,119.5H417.9M416.8,104.2V128.1M414.2,104.2H419.4M414.2,128.1H419.4M417.9,91.5V112.3M415.3,91.5H420.5M415.3,112.3H420.5M418.7,117.3V136.5M416.1,117.3H421.3M416.1,136.5H421.3M419.7,110.0V132.9M417.1,110.0H422.3M417.1,132.9H422.3M421.2,95.8V113.8M418.6,95.8H423.8M418.6,113.8H423.8M422.4,86.0V105.3M419.8,86.0H425.0M419.8,105.3H425.0M423.3,103.9V127.6M420.7,103.9H425.9M420.7,127.6H425.9M424.5,87.7V106.4M421.9,87.7H427.1M421.9,106.4H427.1M425.8,110.3V132.6M423.2,110.3H428.4M423.2,132.6H428.4M425.8,101.6V119.3M423.2,101.6H428.4M423.2,119.3H428.4M427.9,104.4V125.3M425.3,104.4H430.5M425.3,125.3H430.5M428.3,120.0V141.8M425.7,120.0H430.9M425.7,141.8H430.9M429.6,100.8V119.5M427.0,100.8H432.2M427.0,119.5H432.2M431.1,92.9V112.4M428.5,92.9H433.7M428.5,112.4H433.7M432.1,103.7V124.8M429.5,103.7H434.7M429.5,124.8H434.7M432.5,103.7V125.0M429.9,103.7H435.1M429.9,125.0H435.1M434.2,87.7V106.0M431.6,87.7H436.8M431.6,106.0H436.8M434.6,115.3V135.4M432.0,115.3H437.2M432.0,135.4H437.2M436.1,115.1V139.4M433.5,115.1H438.7M433.5,139.4H438.7M437.7,108.7V128.3M435.1,108.7H440.3M435.1,128.3H440.3M438.3,112.9V135.7M435.7,112.9H440.9M435.7,135.7H440.9M439.6,86.5V105.2M437.0,86.5H442.2M437.0,105.2H442.2M440.9,96.9V117.5M438.3,96.9H443.5M438.3,117.5H443.5M442.1,109.6V130.5M439.5,109.6H444.7M439.5,130.5H444.7M443.1,105.8V127.4M440.5,105.8H445.7M440.5,127.4H445.7M443.3,81.0V103.4M440.7,81.0H445.9M440.7,103.4H445.9M444.9,104.6V127.5M442.3,104.6H447.5M442.3,127.5H447.5M446.1,106.0V128.3M443.5,106.0H448.7M443.5,128.3H448.7M446.7,94.3V117.3M444.1,94.3H449.3M444.1,117.3H449.3M448.4,90.6V114.2M445.8,90.6H451.0M445.8,114.2H451.0M449.5,97.4V117.1M446.9,97.4H452.1M446.9,117.1H452.1M450.9,108.1V131.4M448.3,108.1H453.5M448.3,131.4H453.5M452.1,110.3V131.4M449.5,110.3H454.7M449.5,131.4H454.7M452.3,91.8V111.0M449.7,91.8H454.9M449.7,111.0H454.9M453.5,99.0V117.6M450.9,99.0H456.1M450.9,117.6H456.1M455.1,115.2V138.1M452.5,115.2H457.7M452.5,138.1H457.7M455.5,82.2V104.2M452.9,82.2H458.1M452.9,104.2H458.1M456.8,89.0V107.0M454.2,89.0H459.4M454.2,107.0H459.4M458.3,98.9V120.6M455.7,98.9H460.9M455.7,120.6H460.9M458.9,102.0V119.7M456.3,102.0H461.5M456.3,119.7H461.5M460.7,94.5V114.8M458.1,94.5H463.3M458.1,114.8H463.3M461.9,103.3V124.9M459.3,103.3H464.5M459.3,124.9H464.5M462.0,110.6V132.7M459.4,110.6H464.6M459.4,132.7H464.6M463.7,93.9V112.6M461.1,93.9H466.3M461.1,112.6H466.3M465.1,113.5V131.3M462.5,113.5H467.7M462.5,131.3H467.7M466.4,91.0V112.7M463.8,91.0H469.0M463.8,112.7H469.0M466.7,111.8V135.2M464.1,111.8H469.3M464.1,135.2H469.3M467.7,96.6V119.9M465.1,96.6H470.3M465.1,119.9H470.3M469.6,96.8V117.0M467.0,96.8H472.2M467.0,117.0H472.2M470.7,77.9V99.6M468.1,77.9H473.3M468.1,99.6H473.3M471.0,107.9V130.7M468.4,107.9H473.6M468.4,130.7H473.6M472.4,110.4V134.3M469.8,110.4H475.0M469.8,134.3H475.0M473.8,101.6V122.8M471.2,101.6H476.4M471.2,122.8H476.4M475.1,105.9V129.9M472.5,105.9H477.7M472.5,129.9H477.7M475.3,101.7V121.7M472.7,101.7H477.9M472.7,121.7H477.9M477.0,89.8V109.0M474.4,89.8H479.6M474.4,109.0H479.6M478.3,85.1V104.9M475.7,85.1H480.9M475.7,104.9H480.9M479.1,74.2V97.2M476.5,74.2H481.7M476.5,97.2H481.7M479.7,99.7V123.8M477.1,99.7H482.3M477.1,123.8H482.3M480.7,74.6V95.7M478.1,74.6H483.3M478.1,95.7H483.3M482.1,73.3V96.0M479.5,73.3H484.7M479.5,96.0H484.7M483.8,95.3V114.0M481.2,95.3H486.4M481.2,114.0H486.4M484.0,111.6V133.0M481.4,111.6H486.6M481.4,133.0H486.6M485.0,93.3V114.2M482.4,93.3H487.6M482.4,114.2H487.6M486.6,91.2V112.1M484.0,91.2H489.2M484.0,112.1H489.2M487.3,111.6V130.8M484.7,111.6H489.9M484.7,130.8H489.9M488.5,90.2V112.5M485.9,90.2H491.1M485.9,112.5H491.1M489.4,92.2V114.9M486.8,92.2H492.0M486.8,114.9H492.0M491.1,96.4V118.9M488.5,96.4H493.7M488.5,118.9H493.7M492.4,80.4V103.7M489.8,80.4H495.0M489.8,103.7H495.0M493.2,74.7V95.9M490.6,74.7H495.8M490.6,95.9H495.8M494.0,89.0V113.0M491.4,89.0H496.6M491.4,113.0H496.6M495.3,82.6V104.6M492.7,82.6H497.9M492.7,104.6H497.9M496.7,92.4V116.7M494.1,92.4H499.3M494.1,116.7H499.3M498.2,94.7V115.5M495.6,94.7H500.8M495.6,115.5H500.8M499.4,82.6V105.6M496.8,82.6H502.0M496.8,105.6H502.0M499.6,81.2V100.6M497.0,81.2H502.2M497.0,100.6H502.2M500.4,93.8V112.3M497.8,93.8H503.0M497.8,112.3H503.0M502.5,105.6V130.3M499.9,105.6H505.1M499.9,130.3H505.1M503.7,80.8V101.5M501.1,80.8H506.3M501.1,101.5H506.3M504.2,106.6V124.8M501.6,106.6H506.8M501.6,124.8H506.8M505.7,84.2V106.7M503.1,84.2H508.3M503.1,106.7H508.3M506.9,66.8V91.7M504.3,66.8H509.5M504.3,91.7H509.5M507.7,83.2V106.9M505.1,83.2H510.3M505.1,106.9H510.3M509.1,95.4V120.7M506.5,95.4H511.7M506.5,120.7H511.7M509.2,99.1V124.0M506.6,99.1H511.8M506.6,124.0H511.8M510.6,70.6V92.0M508.0,70.6H513.2M508.0,92.0H513.2M511.7,85.0V104.8M509.1,85.0H514.3M509.1,104.8H514.3M512.6,79.5V98.0M510.0,79.5H515.2M510.0,98.0H515.2M514.6,75.7V95.7M512.0,75.7H517.2M512.0,95.7H517.2M514.7,85.7V108.4M512.1,85.7H517.3M512.1,108.4H517.3M516.6,88.1V113.0M514.0,88.1H519.2M514.0,113.0H519.2M516.9,98.7V116.7M514.3,98.7H519.5M514.3,116.7H519.5M518.4,106.8V131.0M515.8,106.8H521.0M515.8,131.0H521.0M519.5,101.3V125.1M516.9,101.3H522.1M516.9,125.1H522.1M520.4,85.6V108.8M517.8,85.6H523.0M517.8,108.8H523.0M521.9,90.1V109.2M519.3,90.1H524.5M519.3,109.2H524.5M523.0,84.0V102.5M520.4,84.0H525.6M520.4,102.5H525.6M523.8,88.2V111.8M521.2,88.2H526.4M521.2,111.8H526.4M525.4,85.0V108.0M522.8,85.0H528.0M522.8,108.0H528.0M525.8,78.7V99.6M523.2,78.7H528.4M523.2,99.6H528.4M527.0,97.5V118.2M524.4,97.5H529.6M524.4,118.2H529.6M528.2,92.2V110.6M525.6,92.2H530.8M525.6,110.6H530.8M529.4,104.6V130.2M526.8,104.6H532.0M526.8,130.2H532.0M530.3,76.1V100.5M527.7,76.1H532.9M527.7,100.5H532.9M532.2,88.0V113.5M529.6,88.0H534.8M529.6,113.5H534.8M533.2,83.1V107.4M530.6,83.1H535.8M530.6,107.4H535.8M533.4,72.7V94.3M530.8,72.7H536.0M530.8,94.3H536.0M534.8,76.2V100.8M532.2,76.2H537.4M532.2,100.8H537.4M535.8,92.5V112.2M533.2,92.5H538.4M533.2,112.2H538.4M537.1,81.5V104.8M534.5,81.5H539.7M534.5,104.8H539.7M538.0,108.1V128.2M535.4,108.1H540.6M535.4,128.2H540.6M539.4,85.5V106.8M536.8,85.5H542.0M536.8,106.8H542.0M541.0,87.3V112.1M538.4,87.3H543.6M538.4,112.1H543.6M541.4,109.6V131.1M538.8,109.6H544.0M538.8,131.1H544.0M542.9,73.8V98.9M540.3,73.8H545.5M540.3,98.9H545.5M543.9,98.4V121.2M541.3,98.4H546.5M541.3,121.2H546.5M545.2,83.3V103.9M542.6,83.3H547.8M542.6,103.9H547.8M545.5,93.9V114.2M542.9,93.9H548.1M542.9,114.2H548.1M547.4,77.4V95.8M544.8,77.4H550.0M544.8,95.8H550.0M548.7,70.7V93.5M546.1,70.7H551.3M546.1,93.5H551.3M549.4,94.5V119.3M546.8,94.5H552.0M546.8,119.3H552.0M550.1,105.5V125.6M547.5,105.5H552.7M547.5,125.6H552.7M551.7,87.2V109.3M549.1,87.2H554.3M549.1,109.3H554.3M552.8,73.5V99.4M550.2,73.5H555.4M550.2,99.4H555.4M553.8,90.2V111.6M551.2,90.2H556.4M551.2,111.6H556.4M554.3,90.2V115.7M551.7,90.2H556.9M551.7,115.7H556.9M556.4,77.5V102.3M553.8,77.5H559.0M553.8,102.3H559.0M557.5,109.2V131.5M554.9,109.2H560.1M554.9,131.5H560.1M558.0,91.0V114.3M555.4,91.0H560.6M555.4,114.3H560.6M559.3,101.5V120.5M556.7,101.5H561.9M556.7,120.5H561.9M559.7,79.2V101.6M557.1,79.2H562.3M557.1,101.6H562.3M561.9,91.1V115.4M559.3,91.1H564.5M559.3,115.4H564.5M562.8,98.7V119.0M560.2,98.7H565.4M560.2,119.0H565.4M563.7,89.9V108.9M561.1,89.9H566.3M561.1,108.9H566.3M564.9,103.0V121.8M562.3,103.0H567.5M562.3,121.8H567.5M565.4,85.7V105.5M562.8,85.7H568.0M562.8,105.5H568.0M566.6,93.7V114.1M564.0,93.7H569.2M564.0,114.1H569.2M567.6,87.3V112.1M565.0,87.3H570.2M565.0,112.1H570.2M569.1,93.8V115.9M566.5,93.8H571.7M566.5,115.9H571.7M569.6,75.0V97.7M567.0,75.0H572.2M567.0,97.7H572.2M571.7,89.8V110.8M569.1,89.8H574.3M569.1,110.8H574.3M572.3,81.6V102.5M569.7,81.6H574.9M569.7,102.5H574.9M573.3,81.8V104.7M570.7,81.8H575.9M570.7,104.7H575.9M574.0,96.7V121.0M571.4,96.7H576.6M571.4,121.0H576.6M575.8,82.9V103.0M573.2,82.9H578.4M573.2,103.0H578.4M577.1,85.5V107.6M574.5,85.5H579.7M574.5,107.6H579.7M578.0,85.7V109.3M575.4,85.7H580.6M575.4,109.3H580.6M578.6,91.7V117.8M576.0,91.7H581.2M576.0,117.8H581.2M580.3,94.4V115.2M577.7,94.4H582.9M577.7,115.2H582.9M580.7,79.3V101.0M578.1,79.3H583.3M578.1,101.0H583.3M582.6,66.6V89.7M580.0,66.6H585.2M580.0,89.7H585.2M583.4,98.4V118.2M580.8,98.4H586.0M580.8,118.2H586.0M584.1,79.5V103.0M581.5,79.5H586.7M581.5,103.0H586.7M585.5,88.9V115.2M582.9,88.9H588.1M582.9,115.2H588.1M586.7,79.3V100.2M584.1,79.3H589.3M584.1,100.2H589.3M587.4,80.7V103.2M584.8,80.7H590.0M584.8,103.2H590.0M589.2,74.1V93.8M586.6,74.1H591.8M586.6,93.8H591.8M589.8,106.9V129.8M587.2,106.9H592.4M587.2,129.8H592.4M591.4,90.8V117.2M588.8,90.8H594.0M588.8,117.2H594.0M592.5,97.1V120.1M589.9,97.1H595.1M589.9,120.1H595.1M592.7,86.6V107.1M590.1,86.6H595.3M590.1,107.1H595.3M594.4,91.7V112.9M591.8,91.7H597.0M591.8,112.9H597.0M595.1,90.3V114.0M592.5,90.3H597.7M592.5,114.0H597.7M596.8,73.7V99.2M594.2,73.7H599.4M594.2,99.2H599.4M597.6,65.8V88.2M595.0,65.8H600.2M595.0,88.2H600.2M598.6,106.5V129.2M596.0,106.5H601.2M596.0,129.2H601.2M600.2,84.6V109.8M597.6,84.6H602.8M597.6,109.8H602.8M600.3,79.1V98.8M597.7,79.1H602.9M597.7,98.8H602.9M602.0,81.2V107.6M599.4,81.2H604.6M599.4,107.6H604.6M602.8,87.7V110.3M600.2,87.7H605.4M600.2,110.3H605.4M603.6,100.5V122.1M601.0,100.5H606.2M601.0,122.1H606.2M605.5,93.8V118.8M602.9,93.8H608.1M602.9,118.8H608.1M606.4,75.3V96.3M603.8,75.3H609.0M603.8,96.3H609.0M607.9,72.2V92.3M605.3,72.2H610.5M605.3,92.3H610.5M608.6,83.8V104.8M606.0,83.8H611.2M606.0,104.8H611.2M609.4,91.6V115.9M606.8,91.6H612.0M606.8,115.9H612.0M611.3,84.0V103.8M608.7,84.0H613.9M608.7,103.8H613.9M611.4,86.9V109.5M608.8,86.9H614.0M608.8,109.5H614.0M612.4,77.9V98.8M609.8,77.9H615.0M609.8,98.8H615.0M614.3,82.1V105.4M611.7,82.1H616.9M611.7,105.4H616.9M615.0,93.0V113.1M612.4,93.0H617.6M612.4,113.1H617.6M616.0,81.6V106.8M613.4,81.6H618.6M613.4,106.8H618.6M617.8,98.6V124.9M615.2,98.6H620.4M615.2,124.9H620.4M618.2,76.3V97.9M615.6,76.3H620.8M615.6,97.9H620.8M620.0,71.4V93.3M617.4,71.4H622.6M617.4,93.3H622.6M620.8,99.3V123.2M618.2,99.3H623.4M618.2,123.2H623.4M467.2,56.3V84.7M464.6,56.3H469.8M464.6,84.7H469.8M596.2,58.4V86.0M593.6,58.4H598.8M593.6,86.0H598.8M604.0,56.4V82.6M601.4,56.4H606.6M601.4,82.6H606.6M607.3,54.2V81.0M604.7,54.2H609.9M604.7,81.0H609.9M468.1,128.0V143.4M465.5,128.0H470.7M465.5,143.4H470.7M470.4,114.0V135.4M467.8,114.0H473.0M467.8,135.4H473.0M497.4,62.5V87.5M494.8,62.5H500.0M494.8,87.5H500.0M527.8,64.6V89.4M525.2,64.6H530.4M525.2,89.4H530.4M568.3,62.5V87.5M565.7,62.5H570.9M565.7,87.5H570.9M579.2,66.6V91.4M576.6,66.6H581.8M576.6,91.4H581.8M490.2,70.3V93.7M487.6,70.3H492.8M487.6,93.7H492.8M535.9,70.3V93.7M533.3,70.3H538.5M533.3,93.7H538.5" stroke="#333" stroke-width="0.85" fill="none"/><path d="M324.9,135.3l1.25,1.3v4.8l-1.25,1.3l-1.25,-1.3v-4.8zM326.8,133.2l1.25,1.3v4.8l-1.25,1.3l-1.25,-1.3v-4.8zM327.5,139.8l1.25,1.3v4.8l-1.25,1.3l-1.25,-1.3v-4.8zM329.0,134.3l1.25,1.3v4.8l-1.25,1.3l-1.25,-1.3v-4.8zM330.4,127.3l1.25,1.3v4.8l-1.25,1.3l-1.25,-1.3v-4.8zM330.9,133.6l1.25,1.3v4.8l-1.25,1.3l-1.25,-1.3v-4.8zM332.0,127.3l1.25,1.3v4.8l-1.25,1.3l-1.25,-1.3v-4.8zM332.6,134.8l1.25,1.3v4.8l-1.25,1.3l-1.25,-1.3v-4.8zM333.9,134.9l1.25,1.3v4.8l-1.25,1.3l-1.25,-1.3v-4.8zM335.3,129.5l1.25,1.3v4.8l-1.25,1.3l-1.25,-1.3v-4.8zM336.6,131.1l1.25,1.3v4.8l-1.25,1.3l-1.25,-1.3v-4.8zM337.8,125.2l1.25,1.3v4.8l-1.25,1.3l-1.25,-1.3v-4.8zM338.4,128.3l1.25,1.3v4.8l-1.25,1.3l-1.25,-1.3v-4.8zM339.1,116.3l1.25,1.3v4.8l-1.25,1.3l-1.25,-1.3v-4.8zM340.5,132.0l1.25,1.3v4.8l-1.25,1.3l-1.25,-1.3v-4.8zM342.4,131.6l1.25,1.3v4.8l-1.25,1.3l-1.25,-1.3v-4.8zM342.6,138.6l1.25,1.3v4.8l-1.25,1.3l-1.25,-1.3v-4.8zM344.0,129.8l1.25,1.3v4.8l-1.25,1.3l-1.25,-1.3v-4.8zM345.7,124.5l1.25,1.3v4.8l-1.25,1.3l-1.25,-1.3v-4.8zM345.7,136.8l1.25,1.3v4.8l-1.25,1.3l-1.25,-1.3v-4.8zM347.5,130.3l1.25,1.3v4.8l-1.25,1.3l-1.25,-1.3v-4.8zM349.0,123.4l1.25,1.3v4.8l-1.25,1.3l-1.25,-1.3v-4.8zM349.2,130.6l1.25,1.3v4.8l-1.25,1.3l-1.25,-1.3v-4.8zM350.7,132.5l1.25,1.3v4.8l-1.25,1.3l-1.25,-1.3v-4.8zM352.2,117.6l1.25,1.3v4.8l-1.25,1.3l-1.25,-1.3v-4.8zM352.4,125.5l1.25,1.3v4.8l-1.25,1.3l-1.25,-1.3v-4.8zM354.0,122.0l1.25,1.3v4.8l-1.25,1.3l-1.25,-1.3v-4.8zM355.3,113.5l1.25,1.3v4.8l-1.25,1.3l-1.25,-1.3v-4.8zM356.3,113.4l1.25,1.3v4.8l-1.25,1.3l-1.25,-1.3v-4.8zM357.2,126.3l1.25,1.3v4.8l-1.25,1.3l-1.25,-1.3v-4.8zM358.0,127.4l1.25,1.3v4.8l-1.25,1.3l-1.25,-1.3v-4.8zM359.4,117.1l1.25,1.3v4.8l-1.25,1.3l-1.25,-1.3v-4.8zM360.4,119.6l1.25,1.3v4.8l-1.25,1.3l-1.25,-1.3v-4.8zM361.6,133.5l1.25,1.3v4.8l-1.25,1.3l-1.25,-1.3v-4.8zM362.6,102.9l1.25,1.3v4.8l-1.25,1.3l-1.25,-1.3v-4.8zM364.2,112.5l1.25,1.3v4.8l-1.25,1.3l-1.25,-1.3v-4.8zM365.2,103.2l1.25,1.3v4.8l-1.25,1.3l-1.25,-1.3v-4.8zM365.8,122.2l1.25,1.3v4.8l-1.25,1.3l-1.25,-1.3v-4.8zM367.2,93.3l1.25,1.3v4.8l-1.25,1.3l-1.25,-1.3v-4.8zM367.9,110.9l1.25,1.3v4.8l-1.25,1.3l-1.25,-1.3v-4.8zM369.2,105.8l1.25,1.3v4.8l-1.25,1.3l-1.25,-1.3v-4.8zM370.2,119.9l1.25,1.3v4.8l-1.25,1.3l-1.25,-1.3v-4.8zM371.7,107.5l1.25,1.3v4.8l-1.25,1.3l-1.25,-1.3v-4.8zM372.4,109.0l1.25,1.3v4.8l-1.25,1.3l-1.25,-1.3v-4.8zM373.6,109.2l1.25,1.3v4.8l-1.25,1.3l-1.25,-1.3v-4.8zM375.0,102.9l1.25,1.3v4.8l-1.25,1.3l-1.25,-1.3v-4.8zM375.8,108.0l1.25,1.3v4.8l-1.25,1.3l-1.25,-1.3v-4.8zM377.5,98.9l1.25,1.3v4.8l-1.25,1.3l-1.25,-1.3v-4.8zM377.7,114.6l1.25,1.3v4.8l-1.25,1.3l-1.25,-1.3v-4.8zM379.5,120.8l1.25,1.3v4.8l-1.25,1.3l-1.25,-1.3v-4.8zM380.2,110.9l1.25,1.3v4.8l-1.25,1.3l-1.25,-1.3v-4.8zM381.3,105.0l1.25,1.3v4.8l-1.25,1.3l-1.25,-1.3v-4.8zM382.6,100.0l1.25,1.3v4.8l-1.25,1.3l-1.25,-1.3v-4.8zM383.6,105.9l1.25,1.3v4.8l-1.25,1.3l-1.25,-1.3v-4.8zM384.6,131.4l1.25,1.3v4.8l-1.25,1.3l-1.25,-1.3v-4.8zM385.2,111.7l1.25,1.3v4.8l-1.25,1.3l-1.25,-1.3v-4.8zM386.4,101.1l1.25,1.3v4.8l-1.25,1.3l-1.25,-1.3v-4.8zM388.2,117.6l1.25,1.3v4.8l-1.25,1.3l-1.25,-1.3v-4.8zM389.1,123.5l1.25,1.3v4.8l-1.25,1.3l-1.25,-1.3v-4.8zM390.4,113.8l1.25,1.3v4.8l-1.25,1.3l-1.25,-1.3v-4.8zM391.8,120.8l1.25,1.3v4.8l-1.25,1.3l-1.25,-1.3v-4.8zM392.6,108.6l1.25,1.3v4.8l-1.25,1.3l-1.25,-1.3v-4.8zM392.9,114.7l1.25,1.3v4.8l-1.25,1.3l-1.25,-1.3v-4.8zM394.3,97.0l1.25,1.3v4.8l-1.25,1.3l-1.25,-1.3v-4.8zM395.7,105.3l1.25,1.3v4.8l-1.25,1.3l-1.25,-1.3v-4.8zM396.4,119.6l1.25,1.3v4.8l-1.25,1.3l-1.25,-1.3v-4.8zM398.4,106.5l1.25,1.3v4.8l-1.25,1.3l-1.25,-1.3v-4.8zM399.5,102.7l1.25,1.3v4.8l-1.25,1.3l-1.25,-1.3v-4.8zM400.4,119.6l1.25,1.3v4.8l-1.25,1.3l-1.25,-1.3v-4.8zM401.1,118.1l1.25,1.3v4.8l-1.25,1.3l-1.25,-1.3v-4.8zM402.6,134.0l1.25,1.3v4.8l-1.25,1.3l-1.25,-1.3v-4.8zM402.9,103.8l1.25,1.3v4.8l-1.25,1.3l-1.25,-1.3v-4.8zM404.2,119.5l1.25,1.3v4.8l-1.25,1.3l-1.25,-1.3v-4.8zM405.5,133.4l1.25,1.3v4.8l-1.25,1.3l-1.25,-1.3v-4.8zM406.9,131.5l1.25,1.3v4.8l-1.25,1.3l-1.25,-1.3v-4.8zM407.7,113.9l1.25,1.3v4.8l-1.25,1.3l-1.25,-1.3v-4.8zM408.4,103.3l1.25,1.3v4.8l-1.25,1.3l-1.25,-1.3v-4.8zM409.7,112.4l1.25,1.3v4.8l-1.25,1.3l-1.25,-1.3v-4.8zM410.8,106.5l1.25,1.3v4.8l-1.25,1.3l-1.25,-1.3v-4.8zM411.9,123.6l1.25,1.3v4.8l-1.25,1.3l-1.25,-1.3v-4.8zM412.8,127.1l1.25,1.3v4.8l-1.25,1.3l-1.25,-1.3v-4.8zM414.2,103.4l1.25,1.3v4.8l-1.25,1.3l-1.25,-1.3v-4.8zM415.3,107.0l1.25,1.3v4.8l-1.25,1.3l-1.25,-1.3v-4.8zM416.8,112.5l1.25,1.3v4.8l-1.25,1.3l-1.25,-1.3v-4.8zM417.9,98.2l1.25,1.3v4.8l-1.25,1.3l-1.25,-1.3v-4.8zM418.7,123.2l1.25,1.3v4.8l-1.25,1.3l-1.25,-1.3v-4.8zM419.7,117.7l1.25,1.3v4.8l-1.25,1.3l-1.25,-1.3v-4.8zM421.2,101.1l1.25,1.3v4.8l-1.25,1.3l-1.25,-1.3v-4.8zM422.4,92.0l1.25,1.3v4.8l-1.25,1.3l-1.25,-1.3v-4.8zM423.3,112.0l1.25,1.3v4.8l-1.25,1.3l-1.25,-1.3v-4.8zM424.5,93.4l1.25,1.3v4.8l-1.25,1.3l-1.25,-1.3v-4.8zM425.8,117.8l1.25,1.3v4.8l-1.25,1.3l-1.25,-1.3v-4.8zM425.8,106.8l1.25,1.3v4.8l-1.25,1.3l-1.25,-1.3v-4.8zM427.9,111.1l1.25,1.3v4.8l-1.25,1.3l-1.25,-1.3v-4.8zM428.3,127.2l1.25,1.3v4.8l-1.25,1.3l-1.25,-1.3v-4.8zM429.6,106.4l1.25,1.3v4.8l-1.25,1.3l-1.25,-1.3v-4.8zM431.1,99.0l1.25,1.3v4.8l-1.25,1.3l-1.25,-1.3v-4.8zM432.1,110.6l1.25,1.3v4.8l-1.25,1.3l-1.25,-1.3v-4.8zM432.5,110.6l1.25,1.3v4.8l-1.25,1.3l-1.25,-1.3v-4.8zM434.2,93.2l1.25,1.3v4.8l-1.25,1.3l-1.25,-1.3v-4.8zM434.6,121.7l1.25,1.3v4.8l-1.25,1.3l-1.25,-1.3v-4.8zM436.1,123.6l1.25,1.3v4.8l-1.25,1.3l-1.25,-1.3v-4.8zM437.7,114.8l1.25,1.3v4.8l-1.25,1.3l-1.25,-1.3v-4.8zM438.3,120.6l1.25,1.3v4.8l-1.25,1.3l-1.25,-1.3v-4.8zM439.6,92.2l1.25,1.3v4.8l-1.25,1.3l-1.25,-1.3v-4.8zM440.9,103.5l1.25,1.3v4.8l-1.25,1.3l-1.25,-1.3v-4.8zM442.1,116.4l1.25,1.3v4.8l-1.25,1.3l-1.25,-1.3v-4.8zM443.1,112.9l1.25,1.3v4.8l-1.25,1.3l-1.25,-1.3v-4.8zM443.3,88.5l1.25,1.3v4.8l-1.25,1.3l-1.25,-1.3v-4.8zM444.9,112.3l1.25,1.3v4.8l-1.25,1.3l-1.25,-1.3v-4.8zM446.1,113.5l1.25,1.3v4.8l-1.25,1.3l-1.25,-1.3v-4.8zM446.7,102.1l1.25,1.3v4.8l-1.25,1.3l-1.25,-1.3v-4.8zM448.4,98.7l1.25,1.3v4.8l-1.25,1.3l-1.25,-1.3v-4.8zM449.5,103.5l1.25,1.3v4.8l-1.25,1.3l-1.25,-1.3v-4.8zM450.9,116.0l1.25,1.3v4.8l-1.25,1.3l-1.25,-1.3v-4.8zM452.1,117.1l1.25,1.3v4.8l-1.25,1.3l-1.25,-1.3v-4.8zM452.3,97.7l1.25,1.3v4.8l-1.25,1.3l-1.25,-1.3v-4.8zM453.5,104.6l1.25,1.3v4.8l-1.25,1.3l-1.25,-1.3v-4.8zM455.1,122.9l1.25,1.3v4.8l-1.25,1.3l-1.25,-1.3v-4.8zM455.5,89.5l1.25,1.3v4.8l-1.25,1.3l-1.25,-1.3v-4.8zM456.8,94.3l1.25,1.3v4.8l-1.25,1.3l-1.25,-1.3v-4.8zM458.3,106.1l1.25,1.3v4.8l-1.25,1.3l-1.25,-1.3v-4.8zM458.9,107.1l1.25,1.3v4.8l-1.25,1.3l-1.25,-1.3v-4.8zM460.7,101.0l1.25,1.3v4.8l-1.25,1.3l-1.25,-1.3v-4.8zM461.9,110.4l1.25,1.3v4.8l-1.25,1.3l-1.25,-1.3v-4.8zM462.0,118.0l1.25,1.3v4.8l-1.25,1.3l-1.25,-1.3v-4.8zM463.7,99.5l1.25,1.3v4.8l-1.25,1.3l-1.25,-1.3v-4.8zM465.1,118.7l1.25,1.3v4.8l-1.25,1.3l-1.25,-1.3v-4.8zM466.4,98.2l1.25,1.3v4.8l-1.25,1.3l-1.25,-1.3v-4.8zM466.7,119.8l1.25,1.3v4.8l-1.25,1.3l-1.25,-1.3v-4.8zM467.7,104.6l1.25,1.3v4.8l-1.25,1.3l-1.25,-1.3v-4.8zM469.6,103.2l1.25,1.3v4.8l-1.25,1.3l-1.25,-1.3v-4.8zM470.7,85.1l1.25,1.3v4.8l-1.25,1.3l-1.25,-1.3v-4.8zM471.0,115.6l1.25,1.3v4.8l-1.25,1.3l-1.25,-1.3v-4.8zM472.4,118.6l1.25,1.3v4.8l-1.25,1.3l-1.25,-1.3v-4.8zM473.8,108.5l1.25,1.3v4.8l-1.25,1.3l-1.25,-1.3v-4.8zM475.1,114.2l1.25,1.3v4.8l-1.25,1.3l-1.25,-1.3v-4.8zM475.3,108.0l1.25,1.3v4.8l-1.25,1.3l-1.25,-1.3v-4.8zM477.0,95.7l1.25,1.3v4.8l-1.25,1.3l-1.25,-1.3v-4.8zM478.3,91.3l1.25,1.3v4.8l-1.25,1.3l-1.25,-1.3v-4.8zM479.1,82.0l1.25,1.3v4.8l-1.25,1.3l-1.25,-1.3v-4.8zM479.7,108.1l1.25,1.3v4.8l-1.25,1.3l-1.25,-1.3v-4.8zM480.7,81.5l1.25,1.3v4.8l-1.25,1.3l-1.25,-1.3v-4.8zM482.1,81.0l1.25,1.3v4.8l-1.25,1.3l-1.25,-1.3v-4.8zM483.8,100.9l1.25,1.3v4.8l-1.25,1.3l-1.25,-1.3v-4.8zM484.0,118.6l1.25,1.3v4.8l-1.25,1.3l-1.25,-1.3v-4.8zM485.0,100.0l1.25,1.3v4.8l-1.25,1.3l-1.25,-1.3v-4.8zM486.6,97.9l1.25,1.3v4.8l-1.25,1.3l-1.25,-1.3v-4.8zM487.3,117.5l1.25,1.3v4.8l-1.25,1.3l-1.25,-1.3v-4.8zM488.5,97.7l1.25,1.3v4.8l-1.25,1.3l-1.25,-1.3v-4.8zM489.4,99.8l1.25,1.3v4.8l-1.25,1.3l-1.25,-1.3v-4.8zM491.1,104.0l1.25,1.3v4.8l-1.25,1.3l-1.25,-1.3v-4.8zM492.4,88.3l1.25,1.3v4.8l-1.25,1.3l-1.25,-1.3v-4.8zM493.2,81.6l1.25,1.3v4.8l-1.25,1.3l-1.25,-1.3v-4.8zM494.0,97.3l1.25,1.3v4.8l-1.25,1.3l-1.25,-1.3v-4.8zM495.3,89.9l1.25,1.3v4.8l-1.25,1.3l-1.25,-1.3v-4.8zM496.7,100.9l1.25,1.3v4.8l-1.25,1.3l-1.25,-1.3v-4.8zM498.2,101.4l1.25,1.3v4.8l-1.25,1.3l-1.25,-1.3v-4.8zM499.4,90.4l1.25,1.3v4.8l-1.25,1.3l-1.25,-1.3v-4.8zM499.6,87.2l1.25,1.3v4.8l-1.25,1.3l-1.25,-1.3v-4.8zM500.4,99.3l1.25,1.3v4.8l-1.25,1.3l-1.25,-1.3v-4.8zM502.5,114.2l1.25,1.3v4.8l-1.25,1.3l-1.25,-1.3v-4.8zM503.7,87.4l1.25,1.3v4.8l-1.25,1.3l-1.25,-1.3v-4.8zM504.2,112.0l1.25,1.3v4.8l-1.25,1.3l-1.25,-1.3v-4.8zM505.7,91.7l1.25,1.3v4.8l-1.25,1.3l-1.25,-1.3v-4.8zM506.9,75.6l1.25,1.3v4.8l-1.25,1.3l-1.25,-1.3v-4.8zM507.7,91.3l1.25,1.3v4.8l-1.25,1.3l-1.25,-1.3v-4.8zM509.1,104.3l1.25,1.3v4.8l-1.25,1.3l-1.25,-1.3v-4.8zM509.2,107.9l1.25,1.3v4.8l-1.25,1.3l-1.25,-1.3v-4.8zM510.6,77.6l1.25,1.3v4.8l-1.25,1.3l-1.25,-1.3v-4.8zM511.7,91.2l1.25,1.3v4.8l-1.25,1.3l-1.25,-1.3v-4.8zM512.6,85.1l1.25,1.3v4.8l-1.25,1.3l-1.25,-1.3v-4.8zM514.6,82.0l1.25,1.3v4.8l-1.25,1.3l-1.25,-1.3v-4.8zM514.7,93.3l1.25,1.3v4.8l-1.25,1.3l-1.25,-1.3v-4.8zM516.6,96.8l1.25,1.3v4.8l-1.25,1.3l-1.25,-1.3v-4.8zM516.9,104.0l1.25,1.3v4.8l-1.25,1.3l-1.25,-1.3v-4.8zM518.4,115.2l1.25,1.3v4.8l-1.25,1.3l-1.25,-1.3v-4.8zM519.5,109.5l1.25,1.3v4.8l-1.25,1.3l-1.25,-1.3v-4.8zM520.4,93.5l1.25,1.3v4.8l-1.25,1.3l-1.25,-1.3v-4.8zM521.9,95.9l1.25,1.3v4.8l-1.25,1.3l-1.25,-1.3v-4.8zM523.0,89.5l1.25,1.3v4.8l-1.25,1.3l-1.25,-1.3v-4.8zM523.8,96.3l1.25,1.3v4.8l-1.25,1.3l-1.25,-1.3v-4.8zM525.4,92.8l1.25,1.3v4.8l-1.25,1.3l-1.25,-1.3v-4.8zM525.8,85.5l1.25,1.3v4.8l-1.25,1.3l-1.25,-1.3v-4.8zM527.0,104.2l1.25,1.3v4.8l-1.25,1.3l-1.25,-1.3v-4.8zM528.2,97.7l1.25,1.3v4.8l-1.25,1.3l-1.25,-1.3v-4.8zM529.4,113.7l1.25,1.3v4.8l-1.25,1.3l-1.25,-1.3v-4.8zM530.3,84.6l1.25,1.3v4.8l-1.25,1.3l-1.25,-1.3v-4.8zM532.2,97.1l1.25,1.3v4.8l-1.25,1.3l-1.25,-1.3v-4.8zM533.2,91.5l1.25,1.3v4.8l-1.25,1.3l-1.25,-1.3v-4.8zM533.4,79.8l1.25,1.3v4.8l-1.25,1.3l-1.25,-1.3v-4.8zM534.8,84.8l1.25,1.3v4.8l-1.25,1.3l-1.25,-1.3v-4.8zM535.8,98.7l1.25,1.3v4.8l-1.25,1.3l-1.25,-1.3v-4.8zM537.1,89.5l1.25,1.3v4.8l-1.25,1.3l-1.25,-1.3v-4.8zM538.0,114.5l1.25,1.3v4.8l-1.25,1.3l-1.25,-1.3v-4.8zM539.4,92.4l1.25,1.3v4.8l-1.25,1.3l-1.25,-1.3v-4.8zM541.0,96.0l1.25,1.3v4.8l-1.25,1.3l-1.25,-1.3v-4.8zM541.4,116.6l1.25,1.3v4.8l-1.25,1.3l-1.25,-1.3v-4.8zM542.9,82.6l1.25,1.3v4.8l-1.25,1.3l-1.25,-1.3v-4.8zM543.9,106.1l1.25,1.3v4.8l-1.25,1.3l-1.25,-1.3v-4.8zM545.2,89.9l1.25,1.3v4.8l-1.25,1.3l-1.25,-1.3v-4.8zM545.5,100.4l1.25,1.3v4.8l-1.25,1.3l-1.25,-1.3v-4.8zM547.4,82.9l1.25,1.3v4.8l-1.25,1.3l-1.25,-1.3v-4.8zM548.7,78.4l1.25,1.3v4.8l-1.25,1.3l-1.25,-1.3v-4.8zM549.4,103.2l1.25,1.3v4.8l-1.25,1.3l-1.25,-1.3v-4.8zM550.1,111.8l1.25,1.3v4.8l-1.25,1.3l-1.25,-1.3v-4.8zM551.7,94.6l1.25,1.3v4.8l-1.25,1.3l-1.25,-1.3v-4.8zM552.8,82.8l1.25,1.3v4.8l-1.25,1.3l-1.25,-1.3v-4.8zM553.8,97.2l1.25,1.3v4.8l-1.25,1.3l-1.25,-1.3v-4.8zM554.3,99.2l1.25,1.3v4.8l-1.25,1.3l-1.25,-1.3v-4.8zM556.4,86.2l1.25,1.3v4.8l-1.25,1.3l-1.25,-1.3v-4.8zM557.5,116.7l1.25,1.3v4.8l-1.25,1.3l-1.25,-1.3v-4.8zM558.0,98.9l1.25,1.3v4.8l-1.25,1.3l-1.25,-1.3v-4.8zM559.3,107.3l1.25,1.3v4.8l-1.25,1.3l-1.25,-1.3v-4.8zM559.7,86.7l1.25,1.3v4.8l-1.25,1.3l-1.25,-1.3v-4.8zM561.9,99.5l1.25,1.3v4.8l-1.25,1.3l-1.25,-1.3v-4.8zM562.8,105.1l1.25,1.3v4.8l-1.25,1.3l-1.25,-1.3v-4.8zM563.7,95.7l1.25,1.3v4.8l-1.25,1.3l-1.25,-1.3v-4.8zM564.9,108.7l1.25,1.3v4.8l-1.25,1.3l-1.25,-1.3v-4.8zM565.4,91.9l1.25,1.3v4.8l-1.25,1.3l-1.25,-1.3v-4.8zM566.6,100.2l1.25,1.3v4.8l-1.25,1.3l-1.25,-1.3v-4.8zM567.6,96.0l1.25,1.3v4.8l-1.25,1.3l-1.25,-1.3v-4.8zM569.1,101.2l1.25,1.3v4.8l-1.25,1.3l-1.25,-1.3v-4.8zM569.6,82.7l1.25,1.3v4.8l-1.25,1.3l-1.25,-1.3v-4.8zM571.7,96.6l1.25,1.3v4.8l-1.25,1.3l-1.25,-1.3v-4.8zM572.3,88.4l1.25,1.3v4.8l-1.25,1.3l-1.25,-1.3v-4.8zM573.3,89.5l1.25,1.3v4.8l-1.25,1.3l-1.25,-1.3v-4.8zM574.0,105.1l1.25,1.3v4.8l-1.25,1.3l-1.25,-1.3v-4.8zM575.8,89.3l1.25,1.3v4.8l-1.25,1.3l-1.25,-1.3v-4.8zM577.1,92.8l1.25,1.3v4.8l-1.25,1.3l-1.25,-1.3v-4.8zM578.0,93.8l1.25,1.3v4.8l-1.25,1.3l-1.25,-1.3v-4.8zM578.6,101.0l1.25,1.3v4.8l-1.25,1.3l-1.25,-1.3v-4.8zM580.3,101.1l1.25,1.3v4.8l-1.25,1.3l-1.25,-1.3v-4.8zM580.7,86.4l1.25,1.3v4.8l-1.25,1.3l-1.25,-1.3v-4.8zM582.6,74.4l1.25,1.3v4.8l-1.25,1.3l-1.25,-1.3v-4.8zM583.4,104.6l1.25,1.3v4.8l-1.25,1.3l-1.25,-1.3v-4.8zM584.1,87.6l1.25,1.3v4.8l-1.25,1.3l-1.25,-1.3v-4.8zM585.5,98.4l1.25,1.3v4.8l-1.25,1.3l-1.25,-1.3v-4.8zM586.7,86.1l1.25,1.3v4.8l-1.25,1.3l-1.25,-1.3v-4.8zM587.4,88.2l1.25,1.3v4.8l-1.25,1.3l-1.25,-1.3v-4.8zM589.2,80.3l1.25,1.3v4.8l-1.25,1.3l-1.25,-1.3v-4.8zM589.8,114.6l1.25,1.3v4.8l-1.25,1.3l-1.25,-1.3v-4.8zM591.4,100.3l1.25,1.3v4.8l-1.25,1.3l-1.25,-1.3v-4.8zM592.5,104.9l1.25,1.3v4.8l-1.25,1.3l-1.25,-1.3v-4.8zM592.7,93.1l1.25,1.3v4.8l-1.25,1.3l-1.25,-1.3v-4.8zM594.4,98.6l1.25,1.3v4.8l-1.25,1.3l-1.25,-1.3v-4.8zM595.1,98.5l1.25,1.3v4.8l-1.25,1.3l-1.25,-1.3v-4.8zM596.8,82.8l1.25,1.3v4.8l-1.25,1.3l-1.25,-1.3v-4.8zM597.6,73.3l1.25,1.3v4.8l-1.25,1.3l-1.25,-1.3v-4.8zM598.6,114.1l1.25,1.3v4.8l-1.25,1.3l-1.25,-1.3v-4.8zM600.2,93.5l1.25,1.3v4.8l-1.25,1.3l-1.25,-1.3v-4.8zM600.3,85.3l1.25,1.3v4.8l-1.25,1.3l-1.25,-1.3v-4.8zM602.0,90.7l1.25,1.3v4.8l-1.25,1.3l-1.25,-1.3v-4.8zM602.8,95.3l1.25,1.3v4.8l-1.25,1.3l-1.25,-1.3v-4.8zM603.6,107.6l1.25,1.3v4.8l-1.25,1.3l-1.25,-1.3v-4.8zM605.5,102.6l1.25,1.3v4.8l-1.25,1.3l-1.25,-1.3v-4.8zM606.4,82.1l1.25,1.3v4.8l-1.25,1.3l-1.25,-1.3v-4.8zM607.9,78.6l1.25,1.3v4.8l-1.25,1.3l-1.25,-1.3v-4.8zM608.6,90.6l1.25,1.3v4.8l-1.25,1.3l-1.25,-1.3v-4.8zM609.4,100.1l1.25,1.3v4.8l-1.25,1.3l-1.25,-1.3v-4.8zM611.3,90.2l1.25,1.3v4.8l-1.25,1.3l-1.25,-1.3v-4.8zM611.4,94.5l1.25,1.3v4.8l-1.25,1.3l-1.25,-1.3v-4.8zM612.4,84.7l1.25,1.3v4.8l-1.25,1.3l-1.25,-1.3v-4.8zM614.3,90.1l1.25,1.3v4.8l-1.25,1.3l-1.25,-1.3v-4.8zM615.0,99.4l1.25,1.3v4.8l-1.25,1.3l-1.25,-1.3v-4.8zM616.0,90.5l1.25,1.3v4.8l-1.25,1.3l-1.25,-1.3v-4.8zM617.8,108.1l1.25,1.3v4.8l-1.25,1.3l-1.25,-1.3v-4.8zM618.2,83.4l1.25,1.3v4.8l-1.25,1.3l-1.25,-1.3v-4.8zM620.0,78.7l1.25,1.3v4.8l-1.25,1.3l-1.25,-1.3v-4.8zM620.8,107.6l1.25,1.3v4.8l-1.25,1.3l-1.25,-1.3v-4.8zM467.2,66.8l1.25,1.3v4.8l-1.25,1.3l-1.25,-1.3v-4.8zM596.2,68.5l1.25,1.3v4.8l-1.25,1.3l-1.25,-1.3v-4.8zM604.0,65.8l1.25,1.3v4.8l-1.25,1.3l-1.25,-1.3v-4.8zM607.3,63.9l1.25,1.3v4.8l-1.25,1.3l-1.25,-1.3v-4.8zM468.1,132.0l1.25,1.3v4.8l-1.25,1.3l-1.25,-1.3v-4.8zM470.4,121.0l1.25,1.3v4.8l-1.25,1.3l-1.25,-1.3v-4.8zM497.4,71.3l1.25,1.3v4.8l-1.25,1.3l-1.25,-1.3v-4.8zM527.8,73.3l1.25,1.3v4.8l-1.25,1.3l-1.25,-1.3v-4.8zM568.3,71.3l1.25,1.3v4.8l-1.25,1.3l-1.25,-1.3v-4.8zM579.2,75.3l1.25,1.3v4.8l-1.25,1.3l-1.25,-1.3v-4.8zM490.2,78.3l1.25,1.3v4.8l-1.25,1.3l-1.25,-1.3v-4.8zM535.9,78.3l1.25,1.3v4.8l-1.25,1.3l-1.25,-1.3v-4.8z" fill="#000"/><path d="M325.0,135.0V141.6M322.6,135.0H327.4M322.6,141.6H327.4M325.9,133.9V140.7M323.5,133.9H328.3M323.5,140.7H328.3M326.8,132.4V138.1M324.4,132.4H329.2M324.4,138.1H329.2M327.7,135.0V142.0M325.3,135.0H330.1M325.3,142.0H330.1M328.6,132.9V138.8M326.2,132.9H331.0M326.2,138.8H331.0M329.5,134.3V141.7M327.1,134.3H331.9M327.1,141.7H331.9M330.4,131.2V136.6M328.0,131.2H332.8M328.0,136.6H332.8M331.3,130.2V135.9M328.9,130.2H333.7M328.9,135.9H333.7M332.2,134.3V140.3M329.8,134.3H334.6M329.8,140.3H334.6M333.1,136.0V142.5M330.7,136.0H335.5M330.7,142.5H335.5M334.0,131.8V139.6M331.6,131.8H336.4M331.6,139.6H336.4M334.9,133.1V138.7M332.5,133.1H337.3M332.5,138.7H337.3M335.8,129.1V136.2M333.4,129.1H338.2M333.4,136.2H338.2M336.7,128.0V133.6M334.3,128.0H339.1M334.3,133.6H339.1M337.6,130.0V136.6M335.2,130.0H340.0M335.2,136.6H340.0M338.5,134.0V140.4M336.1,134.0H340.9M336.1,140.4H340.9M339.4,126.5V132.6M337.0,126.5H341.8M337.0,132.6H341.8M340.3,129.1V136.1M337.9,129.1H342.7M337.9,136.1H342.7M341.2,125.9V132.6M338.8,125.9H343.6M338.8,132.6H343.6M342.1,130.4V136.8M339.7,130.4H344.5M339.7,136.8H344.5M343.0,131.5V139.0M340.6,131.5H345.4M340.6,139.0H345.4M343.9,127.1V133.5M341.5,127.1H346.3M341.5,133.5H346.3M344.8,127.9V136.5M342.4,127.9H347.2M342.4,136.5H347.2M345.7,132.9V139.4M343.3,132.9H348.1M343.3,139.4H348.1M346.6,128.3V137.1M344.2,128.3H349.0M344.2,137.1H349.0M347.5,126.5V133.0M345.1,126.5H349.9M345.1,133.0H349.9M348.4,124.6V133.6M346.0,124.6H350.8M346.0,133.6H350.8M349.3,124.0V130.4M346.9,124.0H351.7M346.9,130.4H351.7M350.2,131.3V137.5M347.8,131.3H352.6M347.8,137.5H352.6M351.1,126.3V132.9M348.7,126.3H353.5M348.7,132.9H353.5M352.0,129.3V137.9M349.6,129.3H354.4M349.6,137.9H354.4M352.9,128.4V135.6M350.5,128.4H355.3M350.5,135.6H355.3M353.8,123.5V130.9M351.4,123.5H356.2M351.4,130.9H356.2M354.7,122.6V131.5M352.3,122.6H357.1M352.3,131.5H357.1M355.6,126.3V133.1M353.2,126.3H358.0M353.2,133.1H358.0M356.5,122.8V131.5M354.1,122.8H358.9M354.1,131.5H358.9M357.4,122.7V131.0M355.0,122.7H359.8M355.0,131.0H359.8M358.3,116.4V123.9M355.9,116.4H360.7M355.9,123.9H360.7M359.2,121.4V131.7M356.8,121.4H361.6M356.8,131.7H361.6M360.1,115.5V124.0M357.7,115.5H362.5M357.7,124.0H362.5M361.0,109.9V118.2M358.6,109.9H363.4M358.6,118.2H363.4M361.9,113.2V123.1M359.5,113.2H364.3M359.5,123.1H364.3M362.8,115.0V125.6M360.4,115.0H365.2M360.4,125.6H365.2M363.7,120.0V128.3M361.3,120.0H366.1M361.3,128.3H366.1M364.6,110.7V118.8M362.2,110.7H367.0M362.2,118.8H367.0M365.5,104.1V115.5M363.1,104.1H367.9M363.1,115.5H367.9M366.4,114.8V124.3M364.0,114.8H368.8M364.0,124.3H368.8M367.3,106.5V116.4M364.9,106.5H369.7M364.9,116.4H369.7M368.2,104.5V114.2M365.8,104.5H370.6M365.8,114.2H370.6M369.1,100.8V112.0M366.7,100.8H371.5M366.7,112.0H371.5M370.0,101.2V110.8M367.6,101.2H372.4M367.6,110.8H372.4M370.9,109.1V120.0M368.5,109.1H373.3M368.5,120.0H373.3M371.8,103.8V113.8M369.4,103.8H374.2M369.4,113.8H374.2M372.7,104.1V112.3M370.3,104.1H375.1M370.3,112.3H375.1M373.6,103.7V113.6M371.2,103.7H376.0M371.2,113.6H376.0M374.5,110.7V122.0M372.1,110.7H376.9M372.1,122.0H376.9M375.4,104.7V114.7M373.0,104.7H377.8M373.0,114.7H377.8M376.3,109.5V119.1M373.9,109.5H378.7M373.9,119.1H378.7M377.2,109.5V117.6M374.8,109.5H379.6M374.8,117.6H379.6M378.1,108.8V119.5M375.7,108.8H380.5M375.7,119.5H380.5M379.0,106.1V115.6M376.6,106.1H381.4M376.6,115.6H381.4M379.9,112.0V121.2M377.5,112.0H382.3M377.5,121.2H382.3M380.8,115.5V124.9M378.4,115.5H383.2M378.4,124.9H383.2M381.7,110.0V119.6M379.3,110.0H384.1M379.3,119.6H384.1M382.6,107.9V117.2M380.2,107.9H385.0M380.2,117.2H385.0M383.5,107.4V116.5M381.1,107.4H385.9M381.1,116.5H385.9M384.4,112.5V122.3M382.0,112.5H386.8M382.0,122.3H386.8M385.3,112.3V120.4M382.9,112.3H387.7M382.9,120.4H387.7M386.2,113.4V122.3M383.8,113.4H388.6M383.8,122.3H388.6M387.1,114.1V123.8M384.7,114.1H389.5M384.7,123.8H389.5M388.0,108.8V120.3M385.6,108.8H390.4M385.6,120.3H390.4M388.9,118.2V127.9M386.5,118.2H391.3M386.5,127.9H391.3M389.8,115.8V126.0M387.4,115.8H392.2M387.4,126.0H392.2M390.7,113.2V124.8M388.3,113.2H393.1M388.3,124.8H393.1M391.6,113.9V125.1M389.2,113.9H394.0M389.2,125.1H394.0M392.5,115.9V126.8M390.1,115.9H394.9M390.1,126.8H394.9M393.4,112.5V122.9M391.0,112.5H395.8M391.0,122.9H395.8M394.3,108.7V119.1M391.9,108.7H396.7M391.9,119.1H396.7M395.2,116.1V124.9M392.8,116.1H397.6M392.8,124.9H397.6M396.1,111.3V119.9M393.7,111.3H398.5M393.7,119.9H398.5M397.0,110.8V119.0M394.6,110.8H399.4M394.6,119.0H399.4M397.9,108.3V116.7M395.5,108.3H400.3M395.5,116.7H400.3M398.8,113.1V123.6M396.4,113.1H401.2M396.4,123.6H401.2M399.7,109.7V120.1M397.3,109.7H402.1M397.3,120.1H402.1M400.6,113.2V121.3M398.2,113.2H403.0M398.2,121.3H403.0M401.5,115.4V126.8M399.1,115.4H403.9M399.1,126.8H403.9M402.4,115.1V124.9M400.0,115.1H404.8M400.0,124.9H404.8M403.3,118.0V128.2M400.9,118.0H405.7M400.9,128.2H405.7M404.2,116.4V124.7M401.8,116.4H406.6M401.8,124.7H406.6M405.1,112.2V123.7M402.7,112.2H407.5M402.7,123.7H407.5M406.0,113.8V122.1M403.6,113.8H408.4M403.6,122.1H408.4M406.9,113.0V121.8M404.5,113.0H409.3M404.5,121.8H409.3M407.8,116.2V126.1M405.4,116.2H410.2M405.4,126.1H410.2M408.7,113.6V123.6M406.3,113.6H411.1M406.3,123.6H411.1M409.6,111.7V121.8M407.2,111.7H412.0M407.2,121.8H412.0M410.5,115.0V126.8M408.1,115.0H412.9M408.1,126.8H412.9M411.4,113.9V122.1M409.0,113.9H413.8M409.0,122.1H413.8M412.3,110.4V121.1M409.9,110.4H414.7M409.9,121.1H414.7M413.2,107.1V116.9M410.8,107.1H415.6M410.8,116.9H415.6M414.1,112.8V124.2M411.7,112.8H416.5M411.7,124.2H416.5M415.0,112.2V122.9M412.6,112.2H417.4M412.6,122.9H417.4M415.9,110.9V122.3M413.5,110.9H418.3M413.5,122.3H418.3M416.8,108.7V120.3M414.4,108.7H419.2M414.4,120.3H419.2M417.7,107.2V118.4M415.3,107.2H420.1M415.3,118.4H420.1M418.6,110.3V118.9M416.2,110.3H421.0M416.2,118.9H421.0M419.5,111.0V121.2M417.1,111.0H421.9M417.1,121.2H421.9M420.4,108.9V120.1M418.0,108.9H422.8M418.0,120.1H422.8M421.3,108.8V120.0M418.9,108.8H423.7M418.9,120.0H423.7M422.2,107.3V119.1M419.8,107.3H424.6M419.8,119.1H424.6M423.1,110.9V120.6M420.7,110.9H425.5M420.7,120.6H425.5M424.0,110.9V119.0M421.6,110.9H426.4M421.6,119.0H426.4M424.9,105.6V116.6M422.5,105.6H427.3M422.5,116.6H427.3M425.8,111.6V120.8M423.4,111.6H428.2M423.4,120.8H428.2M426.7,111.0V121.7M424.3,111.0H429.1M424.3,121.7H429.1M427.6,112.3V120.6M425.2,112.3H430.0M425.2,120.6H430.0M428.5,108.3V117.8M426.1,108.3H430.9M426.1,117.8H430.9M429.4,107.3V117.9M427.0,107.3H431.8M427.0,117.9H431.8M430.3,104.9V113.5M427.9,104.9H432.7M427.9,113.5H432.7M431.2,111.1V120.5M428.8,111.1H433.6M428.8,120.5H433.6M432.1,101.5V110.2M429.7,101.5H434.5M429.7,110.2H434.5M433.0,105.7V117.4M430.6,105.7H435.4M430.6,117.4H435.4M433.9,106.1V117.4M431.5,106.1H436.3M431.5,117.4H436.3M434.8,110.4V121.1M432.4,110.4H437.2M432.4,121.1H437.2M435.7,107.5V117.7M433.3,107.5H438.1M433.3,117.7H438.1M436.6,103.0V115.0M434.2,103.0H439.0M434.2,115.0H439.0M437.5,102.9V112.1M435.1,102.9H439.9M435.1,112.1H439.9M438.4,104.3V115.3M436.0,104.3H440.8M436.0,115.3H440.8M439.3,108.6V117.0M436.9,108.6H441.7M436.9,117.0H441.7M440.2,107.1V117.8M437.8,107.1H442.6M437.8,117.8H442.6M441.1,106.7V115.6M438.7,106.7H443.5M438.7,115.6H443.5M442.0,104.8V113.0M439.6,104.8H444.4M439.6,113.0H444.4M442.9,104.7V116.6M440.5,104.7H445.3M440.5,116.6H445.3M443.8,109.6V118.8M441.4,109.6H446.2M441.4,118.8H446.2M444.7,100.4V112.6M442.3,100.4H447.1M442.3,112.6H447.1M445.6,104.8V115.7M443.2,104.8H448.0M443.2,115.7H448.0M446.5,110.1V121.0M444.1,110.1H448.9M444.1,121.0H448.9M447.4,106.1V117.0M445.0,106.1H449.8M445.0,117.0H449.8M448.3,101.7V113.9M445.9,101.7H450.7M445.9,113.9H450.7M449.2,106.7V115.7M446.8,106.7H451.6M446.8,115.7H451.6M450.1,100.0V112.2M447.7,100.0H452.5M447.7,112.2H452.5M451.0,104.0V113.5M448.6,104.0H453.4M448.6,113.5H453.4M451.9,109.6V118.1M449.5,109.6H454.3M449.5,118.1H454.3M452.8,108.9V120.9M450.4,108.9H455.2M450.4,120.9H455.2M453.7,98.2V106.7M451.3,98.2H456.1M451.3,106.7H456.1M454.6,105.4V115.5M452.2,105.4H457.0M452.2,115.5H457.0M455.5,109.1V120.7M453.1,109.1H457.9M453.1,120.7H457.9M456.4,101.7V111.0M454.0,101.7H458.8M454.0,111.0H458.8M457.3,103.6V114.7M454.9,103.6H459.7M454.9,114.7H459.7M458.2,108.3V119.1M455.8,108.3H460.6M455.8,119.1H460.6M459.1,101.4V112.4M456.7,101.4H461.5M456.7,112.4H461.5M460.0,106.0V114.8M457.6,106.0H462.4M457.6,114.8H462.4M460.9,103.4V114.5M458.5,103.4H463.3M458.5,114.5H463.3M461.8,97.0V108.7M459.4,97.0H464.2M459.4,108.7H464.2M462.7,106.2V115.0M460.3,106.2H465.1M460.3,115.0H465.1M463.6,103.1V115.2M461.2,103.1H466.0M461.2,115.2H466.0M464.5,107.3V119.4M462.1,107.3H466.9M462.1,119.4H466.9M465.4,112.6V122.1M463.0,112.6H467.8M463.0,122.1H467.8M466.3,106.3V118.4M463.9,106.3H468.7M463.9,118.4H468.7M467.2,102.7V114.7M464.8,102.7H469.6M464.8,114.7H469.6M468.1,106.7V115.4M465.7,106.7H470.5M465.7,115.4H470.5M469.0,104.2V115.4M466.6,104.2H471.4M466.6,115.4H471.4M469.9,106.1V118.3M467.5,106.1H472.3M467.5,118.3H472.3M470.8,97.4V109.0M468.4,97.4H473.2M468.4,109.0H473.2M471.7,99.5V108.2M469.3,99.5H474.1M469.3,108.2H474.1M472.6,95.5V105.4M470.2,95.5H475.0M470.2,105.4H475.0M473.4,103.4V113.9M471.0,103.4H475.8M471.0,113.9H475.8M474.3,101.4V111.1M471.9,101.4H476.7M471.9,111.1H476.7M475.2,98.9V108.7M472.8,98.9H477.6M472.8,108.7H477.6M476.1,99.0V107.6M473.7,99.0H478.5M473.7,107.6H478.5M477.0,99.5V107.8M474.6,99.5H479.4M474.6,107.8H479.4M477.9,97.7V107.2M475.5,97.7H480.3M475.5,107.2H480.3M478.8,99.3V109.3M476.4,99.3H481.2M476.4,109.3H481.2M479.7,98.4V109.0M477.3,98.4H482.1M477.3,109.0H482.1M480.6,103.7V115.9M478.2,103.7H483.0M478.2,115.9H483.0M481.5,101.7V110.3M479.1,101.7H483.9M479.1,110.3H483.9M482.4,96.9V106.5M480.0,96.9H484.8M480.0,106.5H484.8M483.3,96.2V108.1M480.9,96.2H485.7M480.9,108.1H485.7M484.2,101.7V113.4M481.8,101.7H486.6M481.8,113.4H486.6M485.1,100.4V109.1M482.7,100.4H487.5M482.7,109.1H487.5M486.0,98.5V109.5M483.6,98.5H488.4M483.6,109.5H488.4M486.9,100.6V109.2M484.5,100.6H489.3M484.5,109.2H489.3M487.8,101.5V113.6M485.4,101.5H490.2M485.4,113.6H490.2M488.7,93.2V102.5M486.3,93.2H491.1M486.3,102.5H491.1M489.6,93.3V104.1M487.2,93.3H492.0M487.2,104.1H492.0M490.5,90.0V100.2M488.1,90.0H492.9M488.1,100.2H492.9M491.4,97.4V107.7M489.0,97.4H493.8M489.0,107.7H493.8M492.3,95.1V104.2M489.9,95.1H494.7M489.9,104.2H494.7M493.2,93.6V103.4M490.8,93.6H495.6M490.8,103.4H495.6M494.1,93.0V102.4M491.7,93.0H496.5M491.7,102.4H496.5M495.0,96.9V107.7M492.6,96.9H497.4M492.6,107.7H497.4M495.9,94.3V104.3M493.5,94.3H498.3M493.5,104.3H498.3M496.8,92.5V103.2M494.4,92.5H499.2M494.4,103.2H499.2M497.7,98.7V109.3M495.3,98.7H500.1M495.3,109.3H500.1M498.6,90.4V101.5M496.2,90.4H501.0M496.2,101.5H501.0M499.5,88.8V101.2M497.1,88.8H501.9M497.1,101.2H501.9M500.4,102.4V112.9M498.0,102.4H502.8M498.0,112.9H502.8M501.3,92.0V102.6M498.9,92.0H503.7M498.9,102.6H503.7M502.2,90.9V101.8M499.8,90.9H504.6M499.8,101.8H504.6M503.1,90.6V101.2M500.7,90.6H505.5M500.7,101.2H505.5M504.0,92.9V102.9M501.6,92.9H506.4M501.6,102.9H506.4M504.9,96.5V105.8M502.5,96.5H507.3M502.5,105.8H507.3M505.8,95.8V106.3M503.4,95.8H508.2M503.4,106.3H508.2M506.7,95.8V105.1M504.3,95.8H509.1M504.3,105.1H509.1M507.6,92.1V103.2M505.2,92.1H510.0M505.2,103.2H510.0M508.5,87.4V99.4M506.1,87.4H510.9M506.1,99.4H510.9M509.4,93.5V105.2M507.0,93.5H511.8M507.0,105.2H511.8M510.3,97.5V109.1M507.9,97.5H512.7M507.9,109.1H512.7M511.2,97.1V106.3M508.8,97.1H513.6M508.8,106.3H513.6M512.1,93.7V102.2M509.7,93.7H514.5M509.7,102.2H514.5M513.0,96.7V105.9M510.6,96.7H515.4M510.6,105.9H515.4M513.9,92.0V102.7M511.5,92.0H516.3M511.5,102.7H516.3M514.8,94.0V102.9M512.4,94.0H517.2M512.4,102.9H517.2M515.7,90.0V98.8M513.3,90.0H518.1M513.3,98.8H518.1M516.6,91.4V103.9M514.2,91.4H519.0M514.2,103.9H519.0M517.5,94.5V104.3M515.1,94.5H519.9M515.1,104.3H519.9M518.4,94.1V102.8M516.0,94.1H520.8M516.0,102.8H520.8M519.3,96.5V107.0M516.9,96.5H521.7M516.9,107.0H521.7M520.2,99.9V111.1M517.8,99.9H522.6M517.8,111.1H522.6M521.1,98.3V108.6M518.7,98.3H523.5M518.7,108.6H523.5M522.0,93.6V102.5M519.6,93.6H524.4M519.6,102.5H524.4M522.9,91.6V102.1M520.5,91.6H525.3M520.5,102.1H525.3M523.8,93.0V101.7M521.4,93.0H526.2M521.4,101.7H526.2M524.7,90.8V102.2M522.3,90.8H527.1M522.3,102.2H527.1M525.6,93.8V106.1M523.2,93.8H528.0M523.2,106.1H528.0M526.5,96.9V105.4M524.1,96.9H528.9M524.1,105.4H528.9M527.4,94.7V105.5M525.0,94.7H529.8M525.0,105.5H529.8M528.3,94.1V105.9M525.9,94.1H530.7M525.9,105.9H530.7M529.2,94.2V105.3M526.8,94.2H531.6M526.8,105.3H531.6M530.1,94.1V103.1M527.7,94.1H532.5M527.7,103.1H532.5M531.0,92.3V100.9M528.6,92.3H533.4M528.6,100.9H533.4M531.9,100.1V110.4M529.5,100.1H534.3M529.5,110.4H534.3M532.8,98.9V107.5M530.4,98.9H535.2M530.4,107.5H535.2M533.7,90.8V102.7M531.3,90.8H536.1M531.3,102.7H536.1M534.6,91.4V102.0M532.2,91.4H537.0M532.2,102.0H537.0M535.5,92.6V102.3M533.1,92.6H537.9M533.1,102.3H537.9M536.4,93.7V105.4M534.0,93.7H538.8M534.0,105.4H538.8M537.3,99.2V108.5M534.9,99.2H539.7M534.9,108.5H539.7M538.2,97.7V108.3M535.8,97.7H540.6M535.8,108.3H540.6M539.1,98.0V108.5M536.7,98.0H541.5M536.7,108.5H541.5M540.0,99.0V107.8M537.6,99.0H542.4M537.6,107.8H542.4M540.9,97.4V109.2M538.5,97.4H543.3M538.5,109.2H543.3M541.8,96.3V107.6M539.4,96.3H544.2M539.4,107.6H544.2M542.7,96.1V105.4M540.3,96.1H545.1M540.3,105.4H545.1M543.6,94.0V104.2M541.2,94.0H546.0M541.2,104.2H546.0M544.5,88.8V98.5M542.1,88.8H546.9M542.1,98.5H546.9M545.4,92.8V105.2M543.0,92.8H547.8M543.0,105.2H547.8M546.3,99.7V111.0M543.9,99.7H548.7M543.9,111.0H548.7M547.2,90.9V103.3M544.8,90.9H549.6M544.8,103.3H549.6M548.1,90.8V102.5M545.7,90.8H550.5M545.7,102.5H550.5M549.0,96.6V108.3M546.6,96.6H551.4M546.6,108.3H551.4M549.9,94.4V104.2M547.5,94.4H552.3M547.5,104.2H552.3M550.8,91.7V103.7M548.4,91.7H553.2M548.4,103.7H553.2M551.7,99.8V109.6M549.3,99.8H554.1M549.3,109.6H554.1M552.6,95.6V107.5M550.2,95.6H555.0M550.2,107.5H555.0M553.5,96.5V107.9M551.1,96.5H555.9M551.1,107.9H555.9M554.4,92.5V103.1M552.0,92.5H556.8M552.0,103.1H556.8M555.3,96.8V106.0M552.9,96.8H557.7M552.9,106.0H557.7M556.2,95.4V106.4M553.8,95.4H558.6M553.8,106.4H558.6M557.1,96.6V107.7M554.7,96.6H559.5M554.7,107.7H559.5M558.0,97.9V109.2M555.6,97.9H560.4M555.6,109.2H560.4M558.9,99.1V107.9M556.5,99.1H561.3M556.5,107.9H561.3M559.8,95.3V104.9M557.4,95.3H562.2M557.4,104.9H562.2M560.7,96.4V107.3M558.3,96.4H563.1M558.3,107.3H563.1M561.6,89.4V101.4M559.2,89.4H564.0M559.2,101.4H564.0M562.5,96.5V106.0M560.1,96.5H564.9M560.1,106.0H564.9M563.4,95.5V107.7M561.0,95.5H565.8M561.0,107.7H565.8M564.3,91.7V104.3M561.9,91.7H566.7M561.9,104.3H566.7M565.2,92.4V101.3M562.8,92.4H567.6M562.8,101.3H567.6M566.1,93.3V104.8M563.7,93.3H568.5M563.7,104.8H568.5M567.0,89.7V99.9M564.6,89.7H569.4M564.6,99.9H569.4M567.9,95.3V104.4M565.5,95.3H570.3M565.5,104.4H570.3M568.8,94.8V104.2M566.4,94.8H571.2M566.4,104.2H571.2M569.7,90.1V100.2M567.3,90.1H572.1M567.3,100.2H572.1M570.6,94.5V103.1M568.2,94.5H573.0M568.2,103.1H573.0M571.5,96.6V108.0M569.1,96.6H573.9M569.1,108.0H573.9M572.4,97.1V107.6M570.0,97.1H574.8M570.0,107.6H574.8M573.3,96.8V106.7M570.9,96.8H575.7M570.9,106.7H575.7M574.2,91.5V103.7M571.8,91.5H576.6M571.8,103.7H576.6M575.1,90.7V103.3M572.7,90.7H577.5M572.7,103.3H577.5M576.0,91.5V101.9M573.6,91.5H578.4M573.6,101.9H578.4M576.9,94.9V104.7M574.5,94.9H579.3M574.5,104.7H579.3M577.8,100.2V111.3M575.4,100.2H580.2M575.4,111.3H580.2M578.7,97.2V107.5M576.3,97.2H581.1M576.3,107.5H581.1M579.6,96.9V109.2M577.2,96.9H582.0M577.2,109.2H582.0M580.5,97.2V106.9M578.1,97.2H582.9M578.1,106.9H582.9M581.4,87.3V96.4M579.0,87.3H583.8M579.0,96.4H583.8M582.3,92.2V100.8M579.9,92.2H584.7M579.9,100.8H584.7M583.2,91.1V100.4M580.8,91.1H585.6M580.8,100.4H585.6M584.1,97.0V106.0M581.7,97.0H586.5M581.7,106.0H586.5M585.0,96.6V109.1M582.6,96.6H587.4M582.6,109.1H587.4M585.9,89.1V100.5M583.5,89.1H588.3M583.5,100.5H588.3M586.8,91.7V102.7M584.4,91.7H589.2M584.4,102.7H589.2M587.7,92.5V105.1M585.3,92.5H590.1M585.3,105.1H590.1M588.6,89.8V101.0M586.2,89.8H591.0M586.2,101.0H591.0M589.5,89.5V101.1M587.1,89.5H591.9M587.1,101.1H591.9M590.4,90.7V99.9M588.0,90.7H592.8M588.0,99.9H592.8M591.3,95.9V105.7M588.9,95.9H593.7M588.9,105.7H593.7M592.2,89.3V100.5M589.8,89.3H594.6M589.8,100.5H594.6M593.1,95.6V107.8M590.7,95.6H595.5M590.7,107.8H595.5M594.0,93.1V102.8M591.6,93.1H596.4M591.6,102.8H596.4M594.9,94.7V105.2M592.5,94.7H597.3M592.5,105.2H597.3M595.8,98.1V107.9M593.4,98.1H598.2M593.4,107.9H598.2M596.7,90.5V100.4M594.3,90.5H599.1M594.3,100.4H599.1M597.6,89.1V100.2M595.2,89.1H600.0M595.2,100.2H600.0M598.5,92.7V105.2M596.1,92.7H600.9M596.1,105.2H600.9M599.4,87.8V100.6M597.0,87.8H601.8M597.0,100.6H601.8M600.3,89.5V100.5M597.9,89.5H602.7M597.9,100.5H602.7M601.2,92.7V101.3M598.8,92.7H603.6M598.8,101.3H603.6M602.1,92.8V102.6M599.7,92.8H604.5M599.7,102.6H604.5M603.0,87.2V98.6M600.6,87.2H605.4M600.6,98.6H605.4M603.9,89.4V101.9M601.5,89.4H606.3M601.5,101.9H606.3M604.8,94.4V103.6M602.4,94.4H607.2M602.4,103.6H607.2M605.7,95.4V107.5M603.3,95.4H608.1M603.3,107.5H608.1M606.6,83.9V96.3M604.2,83.9H609.0M604.2,96.3H609.0M607.5,96.6V105.6M605.1,96.6H609.9M605.1,105.6H609.9M608.4,93.0V105.5M606.0,93.0H610.8M606.0,105.5H610.8M609.3,86.7V97.9M606.9,86.7H611.7M606.9,97.9H611.7M610.2,84.9V97.1M607.8,84.9H612.6M607.8,97.1H612.6M611.1,91.5V103.0M608.7,91.5H613.5M608.7,103.0H613.5M612.0,88.4V99.9M609.6,88.4H614.4M609.6,99.9H614.4M612.9,89.8V102.2M610.5,89.8H615.3M610.5,102.2H615.3M613.8,92.6V104.6M611.4,92.6H616.2M611.4,104.6H616.2M614.7,89.2V99.6M612.3,89.2H617.1M612.3,99.6H617.1M615.6,91.2V101.5M613.2,91.2H618.0M613.2,101.5H618.0M616.5,91.3V104.1M614.1,91.3H618.9M614.1,104.1H618.9M617.4,94.6V104.3M615.0,94.6H619.8M615.0,104.3H619.8M618.3,97.2V107.5M615.9,97.2H620.7M615.9,107.5H620.7M619.2,97.9V107.1M616.8,97.9H621.6M616.8,107.1H621.6M620.1,92.8V102.9M617.7,92.8H622.5M617.7,102.9H622.5M621.0,90.6V101.8M618.6,90.6H623.4M618.6,101.8H623.4" stroke="#ff0000" stroke-width="0.8" fill="none"/><path d="M323.2,136.5h3.6v3.6h-3.6zM324.1,135.5h3.6v3.6h-3.6zM325.0,133.5h3.6v3.6h-3.6zM325.9,136.7h3.6v3.6h-3.6zM326.8,134.1h3.6v3.6h-3.6zM327.7,136.2h3.6v3.6h-3.6zM328.6,132.1h3.6v3.6h-3.6zM329.5,131.3h3.6v3.6h-3.6zM330.4,135.5h3.6v3.6h-3.6zM331.3,137.4h3.6v3.6h-3.6zM332.2,133.9h3.6v3.6h-3.6zM333.1,134.1h3.6v3.6h-3.6zM334.0,130.8h3.6v3.6h-3.6zM334.9,129.0h3.6v3.6h-3.6zM335.8,131.5h3.6v3.6h-3.6zM336.7,135.4h3.6v3.6h-3.6zM337.6,127.8h3.6v3.6h-3.6zM338.5,130.8h3.6v3.6h-3.6zM339.4,127.4h3.6v3.6h-3.6zM340.3,131.8h3.6v3.6h-3.6zM341.2,133.4h3.6v3.6h-3.6zM342.1,128.5h3.6v3.6h-3.6zM343.0,130.4h3.6v3.6h-3.6zM343.9,134.3h3.6v3.6h-3.6zM344.8,130.9h3.6v3.6h-3.6zM345.7,128.0h3.6v3.6h-3.6zM346.6,127.3h3.6v3.6h-3.6zM347.5,125.4h3.6v3.6h-3.6zM348.4,132.6h3.6v3.6h-3.6zM349.3,127.8h3.6v3.6h-3.6zM350.2,131.8h3.6v3.6h-3.6zM351.1,130.2h3.6v3.6h-3.6zM352.0,125.4h3.6v3.6h-3.6zM352.9,125.3h3.6v3.6h-3.6zM353.8,127.9h3.6v3.6h-3.6zM354.7,125.4h3.6v3.6h-3.6zM355.6,125.0h3.6v3.6h-3.6zM356.5,118.3h3.6v3.6h-3.6zM357.4,124.8h3.6v3.6h-3.6zM358.3,118.0h3.6v3.6h-3.6zM359.2,112.3h3.6v3.6h-3.6zM360.1,116.4h3.6v3.6h-3.6zM361.0,118.5h3.6v3.6h-3.6zM361.9,122.4h3.6v3.6h-3.6zM362.8,113.0h3.6v3.6h-3.6zM363.7,108.0h3.6v3.6h-3.6zM364.6,117.7h3.6v3.6h-3.6zM365.5,109.6h3.6v3.6h-3.6zM366.4,107.5h3.6v3.6h-3.6zM367.3,104.6h3.6v3.6h-3.6zM368.2,104.2h3.6v3.6h-3.6zM369.1,112.7h3.6v3.6h-3.6zM370.0,107.0h3.6v3.6h-3.6zM370.9,106.4h3.6v3.6h-3.6zM371.8,106.9h3.6v3.6h-3.6zM372.7,114.5h3.6v3.6h-3.6zM373.6,107.9h3.6v3.6h-3.6zM374.5,112.5h3.6v3.6h-3.6zM375.4,111.8h3.6v3.6h-3.6zM376.3,112.4h3.6v3.6h-3.6zM377.2,109.1h3.6v3.6h-3.6zM378.1,114.8h3.6v3.6h-3.6zM379.0,118.4h3.6v3.6h-3.6zM379.9,113.0h3.6v3.6h-3.6zM380.8,110.8h3.6v3.6h-3.6zM381.7,110.1h3.6v3.6h-3.6zM382.6,115.6h3.6v3.6h-3.6zM383.5,114.6h3.6v3.6h-3.6zM384.4,116.1h3.6v3.6h-3.6zM385.3,117.2h3.6v3.6h-3.6zM386.2,112.8h3.6v3.6h-3.6zM387.1,121.3h3.6v3.6h-3.6zM388.0,119.1h3.6v3.6h-3.6zM388.9,117.2h3.6v3.6h-3.6zM389.8,117.7h3.6v3.6h-3.6zM390.7,119.5h3.6v3.6h-3.6zM391.6,115.9h3.6v3.6h-3.6zM392.5,112.1h3.6v3.6h-3.6zM393.4,118.7h3.6v3.6h-3.6zM394.3,113.8h3.6v3.6h-3.6zM395.2,113.1h3.6v3.6h-3.6zM396.1,110.7h3.6v3.6h-3.6zM397.0,116.6h3.6v3.6h-3.6zM397.9,113.1h3.6v3.6h-3.6zM398.8,115.5h3.6v3.6h-3.6zM399.7,119.3h3.6v3.6h-3.6zM400.6,118.2h3.6v3.6h-3.6zM401.5,121.3h3.6v3.6h-3.6zM402.4,118.8h3.6v3.6h-3.6zM403.3,116.2h3.6v3.6h-3.6zM404.2,116.1h3.6v3.6h-3.6zM405.1,115.6h3.6v3.6h-3.6zM406.0,119.3h3.6v3.6h-3.6zM406.9,116.8h3.6v3.6h-3.6zM407.8,114.9h3.6v3.6h-3.6zM408.7,119.1h3.6v3.6h-3.6zM409.6,116.2h3.6v3.6h-3.6zM410.5,114.0h3.6v3.6h-3.6zM411.4,110.2h3.6v3.6h-3.6zM412.3,116.7h3.6v3.6h-3.6zM413.2,115.8h3.6v3.6h-3.6zM414.1,114.8h3.6v3.6h-3.6zM415.0,112.7h3.6v3.6h-3.6zM415.9,111.0h3.6v3.6h-3.6zM416.8,112.8h3.6v3.6h-3.6zM417.7,114.3h3.6v3.6h-3.6zM418.6,112.7h3.6v3.6h-3.6zM419.5,112.6h3.6v3.6h-3.6zM420.4,111.4h3.6v3.6h-3.6zM421.3,114.0h3.6v3.6h-3.6zM422.2,113.1h3.6v3.6h-3.6zM423.1,109.3h3.6v3.6h-3.6zM424.0,114.4h3.6v3.6h-3.6zM424.9,114.5h3.6v3.6h-3.6zM425.8,114.6h3.6v3.6h-3.6zM426.7,111.2h3.6v3.6h-3.6zM427.6,110.8h3.6v3.6h-3.6zM428.5,107.4h3.6v3.6h-3.6zM429.4,114.0h3.6v3.6h-3.6zM430.3,104.0h3.6v3.6h-3.6zM431.2,109.8h3.6v3.6h-3.6zM432.1,109.9h3.6v3.6h-3.6zM433.0,114.0h3.6v3.6h-3.6zM433.9,110.8h3.6v3.6h-3.6zM434.8,107.2h3.6v3.6h-3.6zM435.7,105.7h3.6v3.6h-3.6zM436.6,108.0h3.6v3.6h-3.6zM437.5,111.0h3.6v3.6h-3.6zM438.4,110.6h3.6v3.6h-3.6zM439.3,109.3h3.6v3.6h-3.6zM440.2,107.1h3.6v3.6h-3.6zM441.1,108.8h3.6v3.6h-3.6zM442.0,112.4h3.6v3.6h-3.6zM442.9,104.7h3.6v3.6h-3.6zM443.8,108.4h3.6v3.6h-3.6zM444.7,113.8h3.6v3.6h-3.6zM445.6,109.7h3.6v3.6h-3.6zM446.5,106.0h3.6v3.6h-3.6zM447.4,109.4h3.6v3.6h-3.6zM448.3,104.3h3.6v3.6h-3.6zM449.2,107.0h3.6v3.6h-3.6zM450.1,112.0h3.6v3.6h-3.6zM451.0,113.1h3.6v3.6h-3.6zM451.9,100.7h3.6v3.6h-3.6zM452.8,108.7h3.6v3.6h-3.6zM453.7,113.1h3.6v3.6h-3.6zM454.6,104.5h3.6v3.6h-3.6zM455.5,107.3h3.6v3.6h-3.6zM456.4,111.9h3.6v3.6h-3.6zM457.3,105.1h3.6v3.6h-3.6zM458.2,108.6h3.6v3.6h-3.6zM459.1,107.2h3.6v3.6h-3.6zM460.0,101.0h3.6v3.6h-3.6zM460.9,108.8h3.6v3.6h-3.6zM461.8,107.3h3.6v3.6h-3.6zM462.7,111.6h3.6v3.6h-3.6zM463.6,115.5h3.6v3.6h-3.6zM464.5,110.6h3.6v3.6h-3.6zM465.4,106.9h3.6v3.6h-3.6zM466.3,109.2h3.6v3.6h-3.6zM467.2,108.0h3.6v3.6h-3.6zM468.1,110.4h3.6v3.6h-3.6zM469.0,101.4h3.6v3.6h-3.6zM469.9,102.0h3.6v3.6h-3.6zM470.8,98.7h3.6v3.6h-3.6zM471.6,106.8h3.6v3.6h-3.6zM472.5,104.4h3.6v3.6h-3.6zM473.4,102.0h3.6v3.6h-3.6zM474.3,101.5h3.6v3.6h-3.6zM475.2,101.9h3.6v3.6h-3.6zM476.1,100.7h3.6v3.6h-3.6zM477.0,102.5h3.6v3.6h-3.6zM477.9,101.9h3.6v3.6h-3.6zM478.8,108.0h3.6v3.6h-3.6zM479.7,104.2h3.6v3.6h-3.6zM480.6,99.9h3.6v3.6h-3.6zM481.5,100.3h3.6v3.6h-3.6zM482.4,105.7h3.6v3.6h-3.6zM483.3,103.0h3.6v3.6h-3.6zM484.2,102.2h3.6v3.6h-3.6zM485.1,103.1h3.6v3.6h-3.6zM486.0,105.8h3.6v3.6h-3.6zM486.9,96.0h3.6v3.6h-3.6zM487.8,96.9h3.6v3.6h-3.6zM488.7,93.3h3.6v3.6h-3.6zM489.6,100.7h3.6v3.6h-3.6zM490.5,97.8h3.6v3.6h-3.6zM491.4,96.7h3.6v3.6h-3.6zM492.3,95.9h3.6v3.6h-3.6zM493.2,100.5h3.6v3.6h-3.6zM494.1,97.5h3.6v3.6h-3.6zM495.0,96.1h3.6v3.6h-3.6zM495.9,102.2h3.6v3.6h-3.6zM496.8,94.2h3.6v3.6h-3.6zM497.7,93.2h3.6v3.6h-3.6zM498.6,105.9h3.6v3.6h-3.6zM499.5,95.5h3.6v3.6h-3.6zM500.4,94.6h3.6v3.6h-3.6zM501.3,94.1h3.6v3.6h-3.6zM502.2,96.1h3.6v3.6h-3.6zM503.1,99.4h3.6v3.6h-3.6zM504.0,99.2h3.6v3.6h-3.6zM504.9,98.6h3.6v3.6h-3.6zM505.8,95.8h3.6v3.6h-3.6zM506.7,91.6h3.6v3.6h-3.6zM507.6,97.6h3.6v3.6h-3.6zM508.5,101.5h3.6v3.6h-3.6zM509.4,99.9h3.6v3.6h-3.6zM510.3,96.1h3.6v3.6h-3.6zM511.2,99.5h3.6v3.6h-3.6zM512.1,95.6h3.6v3.6h-3.6zM513.0,96.6h3.6v3.6h-3.6zM513.9,92.6h3.6v3.6h-3.6zM514.8,95.9h3.6v3.6h-3.6zM515.7,97.6h3.6v3.6h-3.6zM516.6,96.7h3.6v3.6h-3.6zM517.5,99.9h3.6v3.6h-3.6zM518.4,103.7h3.6v3.6h-3.6zM519.3,101.6h3.6v3.6h-3.6zM520.2,96.2h3.6v3.6h-3.6zM521.1,95.1h3.6v3.6h-3.6zM522.0,95.5h3.6v3.6h-3.6zM522.9,94.7h3.6v3.6h-3.6zM523.8,98.1h3.6v3.6h-3.6zM524.7,99.4h3.6v3.6h-3.6zM525.6,98.3h3.6v3.6h-3.6zM526.5,98.2h3.6v3.6h-3.6zM527.4,98.0h3.6v3.6h-3.6zM528.3,96.8h3.6v3.6h-3.6zM529.2,94.8h3.6v3.6h-3.6zM530.1,103.5h3.6v3.6h-3.6zM531.0,101.4h3.6v3.6h-3.6zM531.9,94.9h3.6v3.6h-3.6zM532.8,94.9h3.6v3.6h-3.6zM533.7,95.7h3.6v3.6h-3.6zM534.6,97.8h3.6v3.6h-3.6zM535.5,102.1h3.6v3.6h-3.6zM536.4,101.2h3.6v3.6h-3.6zM537.3,101.4h3.6v3.6h-3.6zM538.2,101.6h3.6v3.6h-3.6zM539.1,101.5h3.6v3.6h-3.6zM540.0,100.1h3.6v3.6h-3.6zM540.9,99.0h3.6v3.6h-3.6zM541.8,97.3h3.6v3.6h-3.6zM542.7,91.8h3.6v3.6h-3.6zM543.6,97.2h3.6v3.6h-3.6zM544.5,103.6h3.6v3.6h-3.6zM545.4,95.3h3.6v3.6h-3.6zM546.3,94.9h3.6v3.6h-3.6zM547.2,100.6h3.6v3.6h-3.6zM548.1,97.5h3.6v3.6h-3.6zM549.0,95.9h3.6v3.6h-3.6zM549.9,102.9h3.6v3.6h-3.6zM550.8,99.8h3.6v3.6h-3.6zM551.7,100.4h3.6v3.6h-3.6zM552.6,96.0h3.6v3.6h-3.6zM553.5,99.6h3.6v3.6h-3.6zM554.4,99.1h3.6v3.6h-3.6zM555.3,100.3h3.6v3.6h-3.6zM556.2,101.8h3.6v3.6h-3.6zM557.1,101.7h3.6v3.6h-3.6zM558.0,98.3h3.6v3.6h-3.6zM558.9,100.0h3.6v3.6h-3.6zM559.8,93.6h3.6v3.6h-3.6zM560.7,99.5h3.6v3.6h-3.6zM561.6,99.8h3.6v3.6h-3.6zM562.5,96.2h3.6v3.6h-3.6zM563.4,95.0h3.6v3.6h-3.6zM564.3,97.3h3.6v3.6h-3.6zM565.2,93.0h3.6v3.6h-3.6zM566.1,98.1h3.6v3.6h-3.6zM567.0,97.7h3.6v3.6h-3.6zM567.9,93.3h3.6v3.6h-3.6zM568.8,97.0h3.6v3.6h-3.6zM569.7,100.5h3.6v3.6h-3.6zM570.6,100.5h3.6v3.6h-3.6zM571.5,100.0h3.6v3.6h-3.6zM572.4,95.8h3.6v3.6h-3.6zM573.3,95.2h3.6v3.6h-3.6zM574.2,94.9h3.6v3.6h-3.6zM575.1,98.0h3.6v3.6h-3.6zM576.0,104.0h3.6v3.6h-3.6zM576.9,100.6h3.6v3.6h-3.6zM577.8,101.2h3.6v3.6h-3.6zM578.7,100.3h3.6v3.6h-3.6zM579.6,90.0h3.6v3.6h-3.6zM580.5,94.7h3.6v3.6h-3.6zM581.4,93.9h3.6v3.6h-3.6zM582.3,99.7h3.6v3.6h-3.6zM583.2,101.1h3.6v3.6h-3.6zM584.1,93.0h3.6v3.6h-3.6zM585.0,95.4h3.6v3.6h-3.6zM585.9,97.0h3.6v3.6h-3.6zM586.8,93.6h3.6v3.6h-3.6zM587.7,93.5h3.6v3.6h-3.6zM588.6,93.5h3.6v3.6h-3.6zM589.5,99.0h3.6v3.6h-3.6zM590.4,93.1h3.6v3.6h-3.6zM591.3,99.9h3.6v3.6h-3.6zM592.2,96.2h3.6v3.6h-3.6zM593.1,98.1h3.6v3.6h-3.6zM594.0,101.2h3.6v3.6h-3.6zM594.9,93.6h3.6v3.6h-3.6zM595.8,92.9h3.6v3.6h-3.6zM596.7,97.2h3.6v3.6h-3.6zM597.6,92.4h3.6v3.6h-3.6zM598.5,93.2h3.6v3.6h-3.6zM599.4,95.2h3.6v3.6h-3.6zM600.3,95.9h3.6v3.6h-3.6zM601.2,91.1h3.6v3.6h-3.6zM602.1,93.8h3.6v3.6h-3.6zM603.0,97.2h3.6v3.6h-3.6zM603.9,99.7h3.6v3.6h-3.6zM604.8,88.3h3.6v3.6h-3.6zM605.7,99.3h3.6v3.6h-3.6zM606.6,97.4h3.6v3.6h-3.6zM607.5,90.5h3.6v3.6h-3.6zM608.4,89.2h3.6v3.6h-3.6zM609.3,95.4h3.6v3.6h-3.6zM610.2,92.4h3.6v3.6h-3.6zM611.1,94.2h3.6v3.6h-3.6zM612.0,96.8h3.6v3.6h-3.6zM612.9,92.6h3.6v3.6h-3.6zM613.8,94.6h3.6v3.6h-3.6zM614.7,95.9h3.6v3.6h-3.6zM615.6,97.7h3.6v3.6h-3.6zM616.5,100.5h3.6v3.6h-3.6zM617.4,100.7h3.6v3.6h-3.6zM618.3,96.0h3.6v3.6h-3.6zM619.2,94.4h3.6v3.6h-3.6z" stroke="#ff0000" stroke-width="1.4" fill="none"/></g><g clip-path="url(#cB)"><path d="M324.9,302.6V315.7M322.3,302.6H327.5M322.3,315.7H327.5M326.8,299.2V314.9M324.2,299.2H329.4M324.2,314.9H329.4M327.5,305.6V321.7M324.9,305.6H330.1M324.9,321.7H330.1M329.0,299.9V316.4M326.4,299.9H331.6M326.4,316.4H331.6M330.4,292.5V309.9M327.8,292.5H333.0M327.8,309.9H333.0M330.9,299.9V314.9M328.3,299.9H333.5M328.3,314.9H333.5M332.0,294.3V308.0M329.4,294.3H334.6M329.4,308.0H334.6M332.6,301.5V315.9M330.0,301.5H335.2M330.0,315.9H335.2M333.9,301.2V316.4M331.3,301.2H336.5M331.3,316.4H336.5M335.3,296.6V310.2M332.7,296.6H337.9M332.7,310.2H337.9M336.6,296.3V313.6M334.0,296.3H339.2M334.0,313.6H339.2M337.8,292.1V306.0M335.2,292.1H340.4M335.2,306.0H340.4M338.4,295.2V309.1M335.8,295.2H341.0M335.8,309.1H341.0M339.1,280.7V299.6M336.5,280.7H341.7M336.5,299.6H341.7M340.5,296.6V315.0M337.9,296.6H343.1M337.9,315.0H343.1M342.4,297.8V313.2M339.8,297.8H345.0M339.8,313.2H345.0M342.6,304.5V320.4M340.0,304.5H345.2M340.0,320.4H345.2M344.0,294.2V313.1M341.4,294.2H346.6M341.4,313.1H346.6M345.7,289.4V307.3M343.1,289.4H348.3M343.1,307.3H348.3M345.7,302.7V318.6M343.1,302.7H348.3M343.1,318.6H348.3M347.5,295.6V312.7M344.9,295.6H350.1M344.9,312.7H350.1M349.0,287.4V307.2M346.4,287.4H351.6M346.4,307.2H351.6M349.2,297.1V311.7M346.6,297.1H351.8M346.6,311.7H351.8M350.7,296.0V316.8M348.1,296.0H353.3M348.1,316.8H353.3M352.2,282.2V300.6M349.6,282.2H354.8M349.6,300.6H354.8M352.4,291.4V307.4M349.8,291.4H355.0M349.8,307.4H355.0M354.0,285.8V305.9M351.4,285.8H356.6M351.4,305.9H356.6M355.3,279.5V295.2M352.7,279.5H357.9M352.7,295.2H357.9M356.3,278.3V296.3M353.7,278.3H358.9M353.7,296.3H358.9M357.2,290.6V309.7M354.6,290.6H359.8M354.6,309.7H359.8M358.0,292.7V309.8M355.4,292.7H360.6M355.4,309.8H360.6M359.4,280.3V301.7M356.8,280.3H362.0M356.8,301.7H362.0M360.4,283.3V303.6M357.8,283.3H363.0M357.8,303.6H363.0M361.6,298.9V315.8M359.0,298.9H364.2M359.0,315.8H364.2M362.6,268.3V285.2M360.0,268.3H365.2M360.0,285.2H365.2M364.2,278.1V294.6M361.6,278.1H366.8M361.6,294.6H366.8M365.2,267.1V287.1M362.6,267.1H367.8M362.6,287.1H367.8M365.8,287.3V304.8M363.2,287.3H368.4M363.2,304.8H368.4M367.2,257.1V277.2M364.6,257.1H369.8M364.6,277.2H369.8M367.9,273.7V295.8M365.3,273.7H370.5M365.3,295.8H370.5M369.2,268.5V290.9M366.6,268.5H371.8M366.6,290.9H371.8M370.2,285.1V302.4M367.6,285.1H372.8M367.6,302.4H372.8M371.7,271.9V290.7M369.1,271.9H374.3M369.1,290.7H374.3M372.4,273.2V292.6M369.8,273.2H375.0M369.8,292.6H375.0M373.6,273.5V292.7M371.0,273.5H376.2M371.0,292.7H376.2M375.0,267.1V286.5M372.4,267.1H377.6M372.4,286.5H377.6M375.8,272.0V291.7M373.2,272.0H378.4M373.2,291.7H378.4M377.5,261.9V283.6M374.9,261.9H380.1M374.9,283.6H380.1M377.7,279.2V297.8M375.1,279.2H380.3M375.1,297.8H380.3M379.5,285.1V304.1M376.9,285.1H382.1M376.9,304.1H382.1M380.2,275.1V294.4M377.6,275.1H382.8M377.6,294.4H382.8M381.3,270.1V287.7M378.7,270.1H383.9M378.7,287.7H383.9M382.6,263.4V284.3M380.0,263.4H385.2M380.0,284.3H385.2M383.6,270.1V289.5M381.0,270.1H386.2M381.0,289.5H386.2M384.6,293.8V316.7M382.0,293.8H387.2M382.0,316.7H387.2M385.2,274.4V296.7M382.6,274.4H387.8M382.6,296.7H387.8M386.4,265.8V284.1M383.8,265.8H389.0M383.8,284.1H389.0M388.2,282.3V300.7M385.6,282.3H390.8M385.6,300.7H390.8M389.1,286.3V308.4M386.5,286.3H391.7M386.5,308.4H391.7M390.4,277.4V298.0M387.8,277.4H393.0M387.8,298.0H393.0M391.8,286.3V303.1M389.2,286.3H394.4M389.2,303.1H394.4M392.6,271.9V293.0M390.0,271.9H395.2M390.0,293.0H395.2M392.9,278.8V298.3M390.3,278.8H395.5M390.3,298.3H395.5M394.3,259.8V281.9M391.7,259.8H396.9M391.7,281.9H396.9M395.7,268.3V290.2M393.1,268.3H398.3M393.1,290.2H398.3M396.4,281.8V305.0M393.8,281.8H399.0M393.8,305.0H399.0M398.4,269.6V291.2M395.8,269.6H401.0M395.8,291.2H401.0M399.5,265.0V288.2M396.9,265.0H402.1M396.9,288.2H402.1M400.4,284.0V302.8M397.8,284.0H403.0M397.8,302.8H403.0M401.1,282.3V301.5M398.5,282.3H403.7M398.5,301.5H403.7M402.6,299.2V316.5M400.0,299.2H405.2M400.0,316.5H405.2M402.9,266.3V289.1M400.3,266.3H405.5M400.3,289.1H405.5M404.2,284.4V302.3M401.6,284.4H406.8M401.6,302.3H406.8M405.5,296.9V317.6M402.9,296.9H408.1M402.9,317.6H408.1M406.9,295.2V315.6M404.3,295.2H409.5M404.3,315.6H409.5M407.7,276.5V299.1M405.1,276.5H410.3M405.1,299.1H410.3M408.4,267.4V287.0M405.8,267.4H411.0M405.8,287.0H411.0M409.7,277.3V295.2M407.1,277.3H412.3M407.1,295.2H412.3M410.8,270.6V290.2M408.2,270.6H413.4M408.2,290.2H413.4M411.9,288.8V306.1M409.3,288.8H414.5M409.3,306.1H414.5M412.8,291.4V310.4M410.2,291.4H415.4M410.2,310.4H415.4M414.2,266.6V288.0M411.6,266.6H416.8M411.6,288.0H416.8M415.3,272.2V289.6M412.7,272.2H417.9M412.7,289.6H417.9M416.8,274.4V298.3M414.2,274.4H419.4M414.2,298.3H419.4M417.9,261.7V282.4M415.3,261.7H420.5M415.3,282.4H420.5M418.7,287.5V306.6M416.1,287.5H421.3M416.1,306.6H421.3M419.7,280.2V303.0M417.1,280.2H422.3M417.1,303.0H422.3M421.2,266.0V284.0M418.6,266.0H423.8M418.6,284.0H423.8M422.4,256.2V275.5M419.8,256.2H425.0M419.8,275.5H425.0M423.3,274.1V297.7M420.7,274.1H425.9M420.7,297.7H425.9M424.5,257.9V276.6M421.9,257.9H427.1M421.9,276.6H427.1M425.8,280.5V302.7M423.2,280.5H428.4M423.2,302.7H428.4M425.8,271.8V289.5M423.2,271.8H428.4M423.2,289.5H428.4M427.9,274.6V295.4M425.3,274.6H430.5M425.3,295.4H430.5M428.3,290.2V312.0M425.7,290.2H430.9M425.7,312.0H430.9M429.6,271.0V289.6M427.0,271.0H432.2M427.0,289.6H432.2M431.1,263.1V282.6M428.5,263.1H433.7M428.5,282.6H433.7M432.1,273.9V295.0M429.5,273.9H434.7M429.5,295.0H434.7M432.5,273.9V295.2M429.9,273.9H435.1M429.9,295.2H435.1M434.2,257.9V276.2M431.6,257.9H436.8M431.6,276.2H436.8M434.6,285.5V305.6M432.0,285.5H437.2M432.0,305.6H437.2M436.1,285.3V309.6M433.5,285.3H438.7M433.5,309.6H438.7M437.7,278.9V298.4M435.1,278.9H440.3M435.1,298.4H440.3M438.3,283.1V305.9M435.7,283.1H440.9M435.7,305.9H440.9M439.6,256.7V275.4M437.0,256.7H442.2M437.0,275.4H442.2M440.9,267.1V287.7M438.3,267.1H443.5M438.3,287.7H443.5M442.1,279.8V300.7M439.5,279.8H444.7M439.5,300.7H444.7M443.1,276.0V297.5M440.5,276.0H445.7M440.5,297.5H445.7M443.3,251.2V273.6M440.7,251.2H445.9M440.7,273.6H445.9M444.9,274.7V297.7M442.3,274.7H447.5M442.3,297.7H447.5M446.1,276.2V298.5M443.5,276.2H448.7M443.5,298.5H448.7M446.7,264.5V287.5M444.1,264.5H449.3M444.1,287.5H449.3M448.4,260.8V284.4M445.8,260.8H451.0M445.8,284.4H451.0M449.5,267.6V287.3M446.9,267.6H452.1M446.9,287.3H452.1M450.9,278.3V301.5M448.3,278.3H453.5M448.3,301.5H453.5M452.1,280.5V301.5M449.5,280.5H454.7M449.5,301.5H454.7M452.3,262.0V281.2M449.7,262.0H454.9M449.7,281.2H454.9M453.5,269.2V287.8M450.9,269.2H456.1M450.9,287.8H456.1M455.1,285.4V308.2M452.5,285.4H457.7M452.5,308.2H457.7M455.5,252.4V274.4M452.9,252.4H458.1M452.9,274.4H458.1M456.8,259.2V277.2M454.2,259.2H459.4M454.2,277.2H459.4M458.3,269.1V290.8M455.7,269.1H460.9M455.7,290.8H460.9M458.9,272.1V289.9M456.3,272.1H461.5M456.3,289.9H461.5M460.7,264.7V285.0M458.1,264.7H463.3M458.1,285.0H463.3M461.9,273.5V295.1M459.3,273.5H464.5M459.3,295.1H464.5M462.0,280.8V302.9M459.4,280.8H464.6M459.4,302.9H464.6M463.7,264.1V282.7M461.1,264.1H466.3M461.1,282.7H466.3M465.1,283.7V301.5M462.5,283.7H467.7M462.5,301.5H467.7M466.4,261.2V282.9M463.8,261.2H469.0M463.8,282.9H469.0M466.7,281.9V305.4M464.1,281.9H469.3M464.1,305.4H469.3M467.7,266.8V290.1M465.1,266.8H470.3M465.1,290.1H470.3M469.6,267.0V287.1M467.0,267.0H472.2M467.0,287.1H472.2M470.7,248.1V269.8M468.1,248.1H473.3M468.1,269.8H473.3M471.0,278.1V300.9M468.4,278.1H473.6M468.4,300.9H473.6M472.4,280.5V304.4M469.8,280.5H475.0M469.8,304.4H475.0M473.8,271.8V292.9M471.2,271.8H476.4M471.2,292.9H476.4M475.1,276.1V300.0M472.5,276.1H477.7M472.5,300.0H477.7M475.3,271.9V291.8M472.7,271.9H477.9M472.7,291.8H477.9M477.0,260.0V279.2M474.4,260.0H479.6M474.4,279.2H479.6M478.3,255.3V275.0M475.7,255.3H480.9M475.7,275.0H480.9M479.1,244.5V267.4M476.5,244.5H481.7M476.5,267.4H481.7M479.7,269.9V294.0M477.1,269.9H482.3M477.1,294.0H482.3M480.7,244.8V265.9M478.1,244.8H483.3M478.1,265.9H483.3M482.1,243.5V266.2M479.5,243.5H484.7M479.5,266.2H484.7M483.8,265.5V284.2M481.2,265.5H486.4M481.2,284.2H486.4M484.0,281.8V303.2M481.4,281.8H486.6M481.4,303.2H486.6M485.0,263.5V284.4M482.4,263.5H487.6M482.4,284.4H487.6M486.6,261.4V282.2M484.0,261.4H489.2M484.0,282.2H489.2M487.3,281.8V300.9M484.7,281.8H489.9M484.7,300.9H489.9M488.5,260.4V282.7M485.9,260.4H491.1M485.9,282.7H491.1M489.4,262.4V285.1M486.8,262.4H492.0M486.8,285.1H492.0M491.1,266.6V289.1M488.5,266.6H493.7M488.5,289.1H493.7M492.4,250.7V273.9M489.8,250.7H495.0M489.8,273.9H495.0M493.2,244.9V266.1M490.6,244.9H495.8M490.6,266.1H495.8M494.0,259.2V283.2M491.4,259.2H496.6M491.4,283.2H496.6M495.3,252.8V274.8M492.7,252.8H497.9M492.7,274.8H497.9M496.7,262.6V286.9M494.1,262.6H499.3M494.1,286.9H499.3M498.2,264.9V285.7M495.6,264.9H500.8M495.6,285.7H500.8M499.4,252.8V275.8M496.8,252.8H502.0M496.8,275.8H502.0M499.6,251.5V270.8M497.0,251.5H502.2M497.0,270.8H502.2M500.4,264.0V282.5M497.8,264.0H503.0M497.8,282.5H503.0M502.5,275.8V300.5M499.9,275.8H505.1M499.9,300.5H505.1M503.7,251.0V271.7M501.1,251.0H506.3M501.1,271.7H506.3M504.2,276.8V295.0M501.6,276.8H506.8M501.6,295.0H506.8M505.7,254.4V276.9M503.1,254.4H508.3M503.1,276.9H508.3M506.9,237.1V261.9M504.3,237.1H509.5M504.3,261.9H509.5M507.7,253.4V277.0M505.1,253.4H510.3M505.1,277.0H510.3M509.1,265.6V290.9M506.5,265.6H511.7M506.5,290.9H511.7M509.2,269.3V294.2M506.6,269.3H511.8M506.6,294.2H511.8M510.6,240.9V262.2M508.0,240.9H513.2M508.0,262.2H513.2M511.7,255.3V275.0M509.1,255.3H514.3M509.1,275.0H514.3M512.6,249.8V268.2M510.0,249.8H515.2M510.0,268.2H515.2M514.6,245.9V265.9M512.0,245.9H517.2M512.0,265.9H517.2M514.7,255.9V278.6M512.1,255.9H517.3M512.1,278.6H517.3M516.6,258.4V283.1M514.0,258.4H519.2M514.0,283.1H519.2M516.9,268.9V286.9M514.3,268.9H519.5M514.3,286.9H519.5M518.4,277.0V301.1M515.8,277.0H521.0M515.8,301.1H521.0M519.5,271.5V295.2M516.9,271.5H522.1M516.9,295.2H522.1M520.4,255.8V279.0M517.8,255.8H523.0M517.8,279.0H523.0M521.9,260.3V279.3M519.3,260.3H524.5M519.3,279.3H524.5M523.0,254.2V272.7M520.4,254.2H525.6M520.4,272.7H525.6M523.8,258.4V282.0M521.2,258.4H526.4M521.2,282.0H526.4M525.4,255.3V278.2M522.8,255.3H528.0M522.8,278.2H528.0M525.8,249.0V269.8M523.2,249.0H528.4M523.2,269.8H528.4M527.0,267.7V288.4M524.4,267.7H529.6M524.4,288.4H529.6M528.2,262.4V280.8M525.6,262.4H530.8M525.6,280.8H530.8M529.4,274.7V300.3M526.8,274.7H532.0M526.8,300.3H532.0M530.3,246.3V270.7M527.7,246.3H532.9M527.7,270.7H532.9M532.2,258.2V283.7M529.6,258.2H534.8M529.6,283.7H534.8M533.2,253.3V277.6M530.6,253.3H535.8M530.6,277.6H535.8M533.4,242.9V264.5M530.8,242.9H536.0M530.8,264.5H536.0M534.8,246.4V271.0M532.2,246.4H537.4M532.2,271.0H537.4M535.8,262.7V282.4M533.2,262.7H538.4M533.2,282.4H538.4M537.1,251.8V275.0M534.5,251.8H539.7M534.5,275.0H539.7M538.0,278.3V298.3M535.4,278.3H540.6M535.4,298.3H540.6M539.4,255.7V276.9M536.8,255.7H542.0M536.8,276.9H542.0M541.0,257.5V282.3M538.4,257.5H543.6M538.4,282.3H543.6M541.4,279.8V301.2M538.8,279.8H544.0M538.8,301.2H544.0M542.9,244.0V269.1M540.3,244.0H545.5M540.3,269.1H545.5M543.9,268.6V291.4M541.3,268.6H546.5M541.3,291.4H546.5M545.2,253.5V274.1M542.6,253.5H547.8M542.6,274.1H547.8M545.5,264.1V284.4M542.9,264.1H548.1M542.9,284.4H548.1M547.4,247.6V266.0M544.8,247.6H550.0M544.8,266.0H550.0M548.7,241.0V263.7M546.1,241.0H551.3M546.1,263.7H551.3M549.4,264.8V289.5M546.8,264.8H552.0M546.8,289.5H552.0M550.1,275.7V295.7M547.5,275.7H552.7M547.5,295.7H552.7M551.7,257.4V279.5M549.1,257.4H554.3M549.1,279.5H554.3M552.8,243.8V269.6M550.2,243.8H555.4M550.2,269.6H555.4M553.8,260.4V281.8M551.2,260.4H556.4M551.2,281.8H556.4M554.3,260.4V285.9M551.7,260.4H556.9M551.7,285.9H556.9M556.4,247.8V272.5M553.8,247.8H559.0M553.8,272.5H559.0M557.5,279.4V301.6M554.9,279.4H560.1M554.9,301.6H560.1M558.0,261.2V284.5M555.4,261.2H560.6M555.4,284.5H560.6M559.3,271.7V290.7M556.7,271.7H561.9M556.7,290.7H561.9M559.7,249.4V271.8M557.1,249.4H562.3M557.1,271.8H562.3M561.9,261.3V285.6M559.3,261.3H564.5M559.3,285.6H564.5M562.8,268.9V289.1M560.2,268.9H565.4M560.2,289.1H565.4M563.7,260.2V279.1M561.1,260.2H566.3M561.1,279.1H566.3M564.9,273.2V291.9M562.3,273.2H567.5M562.3,291.9H567.5M565.4,255.9V275.6M562.8,255.9H568.0M562.8,275.6H568.0M566.6,263.9V284.3M564.0,263.9H569.2M564.0,284.3H569.2M567.6,257.5V282.2M565.0,257.5H570.2M565.0,282.2H570.2M569.1,264.0V286.1M566.5,264.0H571.7M566.5,286.1H571.7M569.6,245.2V267.9M567.0,245.2H572.2M567.0,267.9H572.2M571.7,260.0V281.0M569.1,260.0H574.3M569.1,281.0H574.3M572.3,251.8V272.7M569.7,251.8H574.9M569.7,272.7H574.9M573.3,252.0V274.8M570.7,252.0H575.9M570.7,274.8H575.9M574.0,266.9V291.2M571.4,266.9H576.6M571.4,291.2H576.6M575.8,253.2V273.2M573.2,253.2H578.4M573.2,273.2H578.4M577.1,255.8V277.7M574.5,255.8H579.7M574.5,277.7H579.7M578.0,255.9V279.5M575.4,255.9H580.6M575.4,279.5H580.6M578.6,261.9V287.9M576.0,261.9H581.2M576.0,287.9H581.2M580.3,264.6V285.3M577.7,264.6H582.9M577.7,285.3H582.9M580.7,249.5V271.2M578.1,249.5H583.3M578.1,271.2H583.3M582.6,236.8V259.9M580.0,236.8H585.2M580.0,259.9H585.2M583.4,268.6V288.4M580.8,268.6H586.0M580.8,288.4H586.0M584.1,249.8V273.2M581.5,249.8H586.7M581.5,273.2H586.7M585.5,259.1V285.4M582.9,259.1H588.1M582.9,285.4H588.1M586.7,249.5V270.4M584.1,249.5H589.3M584.1,270.4H589.3M587.4,250.9V273.4M584.8,250.9H590.0M584.8,273.4H590.0M589.2,244.4V264.0M586.6,244.4H591.8M586.6,264.0H591.8M589.8,277.1V299.9M587.2,277.1H592.4M587.2,299.9H592.4M591.4,261.0V287.3M588.8,261.0H594.0M588.8,287.3H594.0M592.5,267.3V290.3M589.9,267.3H595.1M589.9,290.3H595.1M592.7,256.8V277.2M590.1,256.8H595.3M590.1,277.2H595.3M594.4,261.9V283.1M591.8,261.9H597.0M591.8,283.1H597.0M595.1,260.5V284.2M592.5,260.5H597.7M592.5,284.2H597.7M596.8,243.9V269.4M594.2,243.9H599.4M594.2,269.4H599.4M597.6,236.0V258.4M595.0,236.0H600.2M595.0,258.4H600.2M598.6,276.7V299.4M596.0,276.7H601.2M596.0,299.4H601.2M600.2,254.8V280.0M597.6,254.8H602.8M597.6,280.0H602.8M600.3,249.3V269.0M597.7,249.3H602.9M597.7,269.0H602.9M602.0,251.5V277.8M599.4,251.5H604.6M599.4,277.8H604.6M602.8,257.9V280.4M600.2,257.9H605.4M600.2,280.4H605.4M603.6,270.7V292.2M601.0,270.7H606.2M601.0,292.2H606.2M605.5,264.0V289.0M602.9,264.0H608.1M602.9,289.0H608.1M606.4,245.6V266.5M603.8,245.6H609.0M603.8,266.5H609.0M607.9,242.4V262.5M605.3,242.4H610.5M605.3,262.5H610.5M608.6,254.0V275.0M606.0,254.0H611.2M606.0,275.0H611.2M609.4,261.9V286.1M606.8,261.9H612.0M606.8,286.1H612.0M611.3,254.3V274.0M608.7,254.3H613.9M608.7,274.0H613.9M611.4,257.1V279.7M608.8,257.1H614.0M608.8,279.7H614.0M612.4,248.2V269.0M609.8,248.2H615.0M609.8,269.0H615.0M614.3,252.3V275.6M611.7,252.3H616.9M611.7,275.6H616.9M615.0,263.2V283.3M612.4,263.2H617.6M612.4,283.3H617.6M616.0,251.8V277.0M613.4,251.8H618.6M613.4,277.0H618.6M617.8,268.8V295.1M615.2,268.8H620.4M615.2,295.1H620.4M618.2,246.5V268.1M615.6,246.5H620.8M615.6,268.1H620.8M620.0,241.7V263.6M617.4,241.7H622.6M617.4,263.6H622.6M620.8,269.5V293.3M618.2,269.5H623.4M618.2,293.3H623.4M467.2,226.6V254.9M464.6,226.6H469.8M464.6,254.9H469.8M596.2,228.7V256.2M593.6,228.7H598.8M593.6,256.2H598.8M604.0,226.7V252.8M601.4,226.7H606.6M601.4,252.8H606.6M607.3,224.5V251.2M604.7,224.5H609.9M604.7,251.2H609.9M468.1,298.2V313.5M465.5,298.2H470.7M465.5,313.5H470.7M470.4,284.2V305.5M467.8,284.2H473.0M467.8,305.5H473.0M497.4,232.8V257.7M494.8,232.8H500.0M494.8,257.7H500.0M527.8,234.8V259.6M525.2,234.8H530.4M525.2,259.6H530.4M568.3,232.8V257.7M565.7,232.8H570.9M565.7,257.7H570.9M579.2,236.8V261.6M576.6,236.8H581.8M576.6,261.6H581.8M490.2,240.5V263.9M487.6,240.5H492.8M487.6,263.9H492.8M535.9,240.5V263.9M533.3,240.5H538.5M533.3,263.9H538.5" stroke="#333" stroke-width="0.85" fill="none"/><path d="M324.9,305.5l1.25,1.3v4.8l-1.25,1.3l-1.25,-1.3v-4.8zM326.8,303.3l1.25,1.3v4.8l-1.25,1.3l-1.25,-1.3v-4.8zM327.5,309.9l1.25,1.3v4.8l-1.25,1.3l-1.25,-1.3v-4.8zM329.0,304.5l1.25,1.3v4.8l-1.25,1.3l-1.25,-1.3v-4.8zM330.4,297.5l1.25,1.3v4.8l-1.25,1.3l-1.25,-1.3v-4.8zM330.9,303.7l1.25,1.3v4.8l-1.25,1.3l-1.25,-1.3v-4.8zM332.0,297.4l1.25,1.3v4.8l-1.25,1.3l-1.25,-1.3v-4.8zM332.6,305.0l1.25,1.3v4.8l-1.25,1.3l-1.25,-1.3v-4.8zM333.9,305.1l1.25,1.3v4.8l-1.25,1.3l-1.25,-1.3v-4.8zM335.3,299.7l1.25,1.3v4.8l-1.25,1.3l-1.25,-1.3v-4.8zM336.6,301.2l1.25,1.3v4.8l-1.25,1.3l-1.25,-1.3v-4.8zM337.8,295.3l1.25,1.3v4.8l-1.25,1.3l-1.25,-1.3v-4.8zM338.4,298.5l1.25,1.3v4.8l-1.25,1.3l-1.25,-1.3v-4.8zM339.1,286.4l1.25,1.3v4.8l-1.25,1.3l-1.25,-1.3v-4.8zM340.5,302.1l1.25,1.3v4.8l-1.25,1.3l-1.25,-1.3v-4.8zM342.4,301.8l1.25,1.3v4.8l-1.25,1.3l-1.25,-1.3v-4.8zM342.6,308.7l1.25,1.3v4.8l-1.25,1.3l-1.25,-1.3v-4.8zM344.0,300.0l1.25,1.3v4.8l-1.25,1.3l-1.25,-1.3v-4.8zM345.7,294.7l1.25,1.3v4.8l-1.25,1.3l-1.25,-1.3v-4.8zM345.7,306.9l1.25,1.3v4.8l-1.25,1.3l-1.25,-1.3v-4.8zM347.5,300.5l1.25,1.3v4.8l-1.25,1.3l-1.25,-1.3v-4.8zM349.0,293.6l1.25,1.3v4.8l-1.25,1.3l-1.25,-1.3v-4.8zM349.2,300.7l1.25,1.3v4.8l-1.25,1.3l-1.25,-1.3v-4.8zM350.7,302.7l1.25,1.3v4.8l-1.25,1.3l-1.25,-1.3v-4.8zM352.2,287.7l1.25,1.3v4.8l-1.25,1.3l-1.25,-1.3v-4.8zM352.4,295.7l1.25,1.3v4.8l-1.25,1.3l-1.25,-1.3v-4.8zM354.0,292.1l1.25,1.3v4.8l-1.25,1.3l-1.25,-1.3v-4.8zM355.3,283.7l1.25,1.3v4.8l-1.25,1.3l-1.25,-1.3v-4.8zM356.3,283.6l1.25,1.3v4.8l-1.25,1.3l-1.25,-1.3v-4.8zM357.2,296.5l1.25,1.3v4.8l-1.25,1.3l-1.25,-1.3v-4.8zM358.0,297.5l1.25,1.3v4.8l-1.25,1.3l-1.25,-1.3v-4.8zM359.4,287.3l1.25,1.3v4.8l-1.25,1.3l-1.25,-1.3v-4.8zM360.4,289.8l1.25,1.3v4.8l-1.25,1.3l-1.25,-1.3v-4.8zM361.6,303.6l1.25,1.3v4.8l-1.25,1.3l-1.25,-1.3v-4.8zM362.6,273.0l1.25,1.3v4.8l-1.25,1.3l-1.25,-1.3v-4.8zM364.2,282.6l1.25,1.3v4.8l-1.25,1.3l-1.25,-1.3v-4.8zM365.2,273.4l1.25,1.3v4.8l-1.25,1.3l-1.25,-1.3v-4.8zM365.8,292.4l1.25,1.3v4.8l-1.25,1.3l-1.25,-1.3v-4.8zM367.2,263.5l1.25,1.3v4.8l-1.25,1.3l-1.25,-1.3v-4.8zM367.9,281.1l1.25,1.3v4.8l-1.25,1.3l-1.25,-1.3v-4.8zM369.2,276.0l1.25,1.3v4.8l-1.25,1.3l-1.25,-1.3v-4.8zM370.2,290.0l1.25,1.3v4.8l-1.25,1.3l-1.25,-1.3v-4.8zM371.7,277.6l1.25,1.3v4.8l-1.25,1.3l-1.25,-1.3v-4.8zM372.4,279.2l1.25,1.3v4.8l-1.25,1.3l-1.25,-1.3v-4.8zM373.6,279.4l1.25,1.3v4.8l-1.25,1.3l-1.25,-1.3v-4.8zM375.0,273.1l1.25,1.3v4.8l-1.25,1.3l-1.25,-1.3v-4.8zM375.8,278.2l1.25,1.3v4.8l-1.25,1.3l-1.25,-1.3v-4.8zM377.5,269.1l1.25,1.3v4.8l-1.25,1.3l-1.25,-1.3v-4.8zM377.7,284.8l1.25,1.3v4.8l-1.25,1.3l-1.25,-1.3v-4.8zM379.5,290.9l1.25,1.3v4.8l-1.25,1.3l-1.25,-1.3v-4.8zM380.2,281.0l1.25,1.3v4.8l-1.25,1.3l-1.25,-1.3v-4.8zM381.3,275.2l1.25,1.3v4.8l-1.25,1.3l-1.25,-1.3v-4.8zM382.6,270.1l1.25,1.3v4.8l-1.25,1.3l-1.25,-1.3v-4.8zM383.6,276.1l1.25,1.3v4.8l-1.25,1.3l-1.25,-1.3v-4.8zM384.6,301.6l1.25,1.3v4.8l-1.25,1.3l-1.25,-1.3v-4.8zM385.2,281.9l1.25,1.3v4.8l-1.25,1.3l-1.25,-1.3v-4.8zM386.4,271.3l1.25,1.3v4.8l-1.25,1.3l-1.25,-1.3v-4.8zM388.2,287.8l1.25,1.3v4.8l-1.25,1.3l-1.25,-1.3v-4.8zM389.1,293.6l1.25,1.3v4.8l-1.25,1.3l-1.25,-1.3v-4.8zM390.4,284.0l1.25,1.3v4.8l-1.25,1.3l-1.25,-1.3v-4.8zM391.8,291.0l1.25,1.3v4.8l-1.25,1.3l-1.25,-1.3v-4.8zM392.6,278.8l1.25,1.3v4.8l-1.25,1.3l-1.25,-1.3v-4.8zM392.9,284.9l1.25,1.3v4.8l-1.25,1.3l-1.25,-1.3v-4.8zM394.3,267.2l1.25,1.3v4.8l-1.25,1.3l-1.25,-1.3v-4.8zM395.7,275.5l1.25,1.3v4.8l-1.25,1.3l-1.25,-1.3v-4.8zM396.4,289.7l1.25,1.3v4.8l-1.25,1.3l-1.25,-1.3v-4.8zM398.4,276.7l1.25,1.3v4.8l-1.25,1.3l-1.25,-1.3v-4.8zM399.5,272.9l1.25,1.3v4.8l-1.25,1.3l-1.25,-1.3v-4.8zM400.4,289.7l1.25,1.3v4.8l-1.25,1.3l-1.25,-1.3v-4.8zM401.1,288.2l1.25,1.3v4.8l-1.25,1.3l-1.25,-1.3v-4.8zM402.6,304.2l1.25,1.3v4.8l-1.25,1.3l-1.25,-1.3v-4.8zM402.9,274.0l1.25,1.3v4.8l-1.25,1.3l-1.25,-1.3v-4.8zM404.2,289.6l1.25,1.3v4.8l-1.25,1.3l-1.25,-1.3v-4.8zM405.5,303.5l1.25,1.3v4.8l-1.25,1.3l-1.25,-1.3v-4.8zM406.9,301.7l1.25,1.3v4.8l-1.25,1.3l-1.25,-1.3v-4.8zM407.7,284.1l1.25,1.3v4.8l-1.25,1.3l-1.25,-1.3v-4.8zM408.4,273.5l1.25,1.3v4.8l-1.25,1.3l-1.25,-1.3v-4.8zM409.7,282.6l1.25,1.3v4.8l-1.25,1.3l-1.25,-1.3v-4.8zM410.8,276.7l1.25,1.3v4.8l-1.25,1.3l-1.25,-1.3v-4.8zM411.9,293.8l1.25,1.3v4.8l-1.25,1.3l-1.25,-1.3v-4.8zM412.8,297.2l1.25,1.3v4.8l-1.25,1.3l-1.25,-1.3v-4.8zM414.2,273.6l1.25,1.3v4.8l-1.25,1.3l-1.25,-1.3v-4.8zM415.3,277.2l1.25,1.3v4.8l-1.25,1.3l-1.25,-1.3v-4.8zM416.8,282.6l1.25,1.3v4.8l-1.25,1.3l-1.25,-1.3v-4.8zM417.9,268.4l1.25,1.3v4.8l-1.25,1.3l-1.25,-1.3v-4.8zM418.7,293.4l1.25,1.3v4.8l-1.25,1.3l-1.25,-1.3v-4.8zM419.7,287.9l1.25,1.3v4.8l-1.25,1.3l-1.25,-1.3v-4.8zM421.2,271.3l1.25,1.3v4.8l-1.25,1.3l-1.25,-1.3v-4.8zM422.4,262.2l1.25,1.3v4.8l-1.25,1.3l-1.25,-1.3v-4.8zM423.3,282.2l1.25,1.3v4.8l-1.25,1.3l-1.25,-1.3v-4.8zM424.5,263.6l1.25,1.3v4.8l-1.25,1.3l-1.25,-1.3v-4.8zM425.8,287.9l1.25,1.3v4.8l-1.25,1.3l-1.25,-1.3v-4.8zM425.8,277.0l1.25,1.3v4.8l-1.25,1.3l-1.25,-1.3v-4.8zM427.9,281.3l1.25,1.3v4.8l-1.25,1.3l-1.25,-1.3v-4.8zM428.3,297.4l1.25,1.3v4.8l-1.25,1.3l-1.25,-1.3v-4.8zM429.6,276.6l1.25,1.3v4.8l-1.25,1.3l-1.25,-1.3v-4.8zM431.1,269.2l1.25,1.3v4.8l-1.25,1.3l-1.25,-1.3v-4.8zM432.1,280.8l1.25,1.3v4.8l-1.25,1.3l-1.25,-1.3v-4.8zM432.5,280.8l1.25,1.3v4.8l-1.25,1.3l-1.25,-1.3v-4.8zM434.2,263.4l1.25,1.3v4.8l-1.25,1.3l-1.25,-1.3v-4.8zM434.6,291.9l1.25,1.3v4.8l-1.25,1.3l-1.25,-1.3v-4.8zM436.1,293.7l1.25,1.3v4.8l-1.25,1.3l-1.25,-1.3v-4.8zM437.7,285.0l1.25,1.3v4.8l-1.25,1.3l-1.25,-1.3v-4.8zM438.3,290.8l1.25,1.3v4.8l-1.25,1.3l-1.25,-1.3v-4.8zM439.6,262.4l1.25,1.3v4.8l-1.25,1.3l-1.25,-1.3v-4.8zM440.9,273.7l1.25,1.3v4.8l-1.25,1.3l-1.25,-1.3v-4.8zM442.1,286.5l1.25,1.3v4.8l-1.25,1.3l-1.25,-1.3v-4.8zM443.1,283.1l1.25,1.3v4.8l-1.25,1.3l-1.25,-1.3v-4.8zM443.3,258.7l1.25,1.3v4.8l-1.25,1.3l-1.25,-1.3v-4.8zM444.9,282.5l1.25,1.3v4.8l-1.25,1.3l-1.25,-1.3v-4.8zM446.1,283.6l1.25,1.3v4.8l-1.25,1.3l-1.25,-1.3v-4.8zM446.7,272.3l1.25,1.3v4.8l-1.25,1.3l-1.25,-1.3v-4.8zM448.4,268.9l1.25,1.3v4.8l-1.25,1.3l-1.25,-1.3v-4.8zM449.5,273.7l1.25,1.3v4.8l-1.25,1.3l-1.25,-1.3v-4.8zM450.9,286.2l1.25,1.3v4.8l-1.25,1.3l-1.25,-1.3v-4.8zM452.1,287.3l1.25,1.3v4.8l-1.25,1.3l-1.25,-1.3v-4.8zM452.3,267.9l1.25,1.3v4.8l-1.25,1.3l-1.25,-1.3v-4.8zM453.5,274.8l1.25,1.3v4.8l-1.25,1.3l-1.25,-1.3v-4.8zM455.1,293.1l1.25,1.3v4.8l-1.25,1.3l-1.25,-1.3v-4.8zM455.5,259.7l1.25,1.3v4.8l-1.25,1.3l-1.25,-1.3v-4.8zM456.8,264.5l1.25,1.3v4.8l-1.25,1.3l-1.25,-1.3v-4.8zM458.3,276.3l1.25,1.3v4.8l-1.25,1.3l-1.25,-1.3v-4.8zM458.9,277.3l1.25,1.3v4.8l-1.25,1.3l-1.25,-1.3v-4.8zM460.7,271.2l1.25,1.3v4.8l-1.25,1.3l-1.25,-1.3v-4.8zM461.9,280.6l1.25,1.3v4.8l-1.25,1.3l-1.25,-1.3v-4.8zM462.0,288.1l1.25,1.3v4.8l-1.25,1.3l-1.25,-1.3v-4.8zM463.7,269.7l1.25,1.3v4.8l-1.25,1.3l-1.25,-1.3v-4.8zM465.1,288.9l1.25,1.3v4.8l-1.25,1.3l-1.25,-1.3v-4.8zM466.4,268.4l1.25,1.3v4.8l-1.25,1.3l-1.25,-1.3v-4.8zM466.7,290.0l1.25,1.3v4.8l-1.25,1.3l-1.25,-1.3v-4.8zM467.7,274.8l1.25,1.3v4.8l-1.25,1.3l-1.25,-1.3v-4.8zM469.6,273.4l1.25,1.3v4.8l-1.25,1.3l-1.25,-1.3v-4.8zM470.7,255.3l1.25,1.3v4.8l-1.25,1.3l-1.25,-1.3v-4.8zM471.0,285.8l1.25,1.3v4.8l-1.25,1.3l-1.25,-1.3v-4.8zM472.4,288.8l1.25,1.3v4.8l-1.25,1.3l-1.25,-1.3v-4.8zM473.8,278.7l1.25,1.3v4.8l-1.25,1.3l-1.25,-1.3v-4.8zM475.1,284.4l1.25,1.3v4.8l-1.25,1.3l-1.25,-1.3v-4.8zM475.3,278.2l1.25,1.3v4.8l-1.25,1.3l-1.25,-1.3v-4.8zM477.0,265.9l1.25,1.3v4.8l-1.25,1.3l-1.25,-1.3v-4.8zM478.3,261.5l1.25,1.3v4.8l-1.25,1.3l-1.25,-1.3v-4.8zM479.1,252.2l1.25,1.3v4.8l-1.25,1.3l-1.25,-1.3v-4.8zM479.7,278.3l1.25,1.3v4.8l-1.25,1.3l-1.25,-1.3v-4.8zM480.7,251.7l1.25,1.3v4.8l-1.25,1.3l-1.25,-1.3v-4.8zM482.1,251.2l1.25,1.3v4.8l-1.25,1.3l-1.25,-1.3v-4.8zM483.8,271.1l1.25,1.3v4.8l-1.25,1.3l-1.25,-1.3v-4.8zM484.0,288.8l1.25,1.3v4.8l-1.25,1.3l-1.25,-1.3v-4.8zM485.0,270.2l1.25,1.3v4.8l-1.25,1.3l-1.25,-1.3v-4.8zM486.6,268.1l1.25,1.3v4.8l-1.25,1.3l-1.25,-1.3v-4.8zM487.3,287.7l1.25,1.3v4.8l-1.25,1.3l-1.25,-1.3v-4.8zM488.5,267.9l1.25,1.3v4.8l-1.25,1.3l-1.25,-1.3v-4.8zM489.4,270.0l1.25,1.3v4.8l-1.25,1.3l-1.25,-1.3v-4.8zM491.1,274.2l1.25,1.3v4.8l-1.25,1.3l-1.25,-1.3v-4.8zM492.4,258.6l1.25,1.3v4.8l-1.25,1.3l-1.25,-1.3v-4.8zM493.2,251.8l1.25,1.3v4.8l-1.25,1.3l-1.25,-1.3v-4.8zM494.0,267.5l1.25,1.3v4.8l-1.25,1.3l-1.25,-1.3v-4.8zM495.3,260.1l1.25,1.3v4.8l-1.25,1.3l-1.25,-1.3v-4.8zM496.7,271.1l1.25,1.3v4.8l-1.25,1.3l-1.25,-1.3v-4.8zM498.2,271.6l1.25,1.3v4.8l-1.25,1.3l-1.25,-1.3v-4.8zM499.4,260.6l1.25,1.3v4.8l-1.25,1.3l-1.25,-1.3v-4.8zM499.6,257.4l1.25,1.3v4.8l-1.25,1.3l-1.25,-1.3v-4.8zM500.4,269.5l1.25,1.3v4.8l-1.25,1.3l-1.25,-1.3v-4.8zM502.5,284.4l1.25,1.3v4.8l-1.25,1.3l-1.25,-1.3v-4.8zM503.7,257.7l1.25,1.3v4.8l-1.25,1.3l-1.25,-1.3v-4.8zM504.2,282.2l1.25,1.3v4.8l-1.25,1.3l-1.25,-1.3v-4.8zM505.7,261.9l1.25,1.3v4.8l-1.25,1.3l-1.25,-1.3v-4.8zM506.9,245.8l1.25,1.3v4.8l-1.25,1.3l-1.25,-1.3v-4.8zM507.7,261.5l1.25,1.3v4.8l-1.25,1.3l-1.25,-1.3v-4.8zM509.1,274.5l1.25,1.3v4.8l-1.25,1.3l-1.25,-1.3v-4.8zM509.2,278.0l1.25,1.3v4.8l-1.25,1.3l-1.25,-1.3v-4.8zM510.6,247.8l1.25,1.3v4.8l-1.25,1.3l-1.25,-1.3v-4.8zM511.7,261.4l1.25,1.3v4.8l-1.25,1.3l-1.25,-1.3v-4.8zM512.6,255.3l1.25,1.3v4.8l-1.25,1.3l-1.25,-1.3v-4.8zM514.6,252.2l1.25,1.3v4.8l-1.25,1.3l-1.25,-1.3v-4.8zM514.7,263.5l1.25,1.3v4.8l-1.25,1.3l-1.25,-1.3v-4.8zM516.6,267.0l1.25,1.3v4.8l-1.25,1.3l-1.25,-1.3v-4.8zM516.9,274.2l1.25,1.3v4.8l-1.25,1.3l-1.25,-1.3v-4.8zM518.4,285.3l1.25,1.3v4.8l-1.25,1.3l-1.25,-1.3v-4.8zM519.5,279.7l1.25,1.3v4.8l-1.25,1.3l-1.25,-1.3v-4.8zM520.4,263.7l1.25,1.3v4.8l-1.25,1.3l-1.25,-1.3v-4.8zM521.9,266.1l1.25,1.3v4.8l-1.25,1.3l-1.25,-1.3v-4.8zM523.0,259.7l1.25,1.3v4.8l-1.25,1.3l-1.25,-1.3v-4.8zM523.8,266.5l1.25,1.3v4.8l-1.25,1.3l-1.25,-1.3v-4.8zM525.4,263.0l1.25,1.3v4.8l-1.25,1.3l-1.25,-1.3v-4.8zM525.8,255.7l1.25,1.3v4.8l-1.25,1.3l-1.25,-1.3v-4.8zM527.0,274.4l1.25,1.3v4.8l-1.25,1.3l-1.25,-1.3v-4.8zM528.2,267.9l1.25,1.3v4.8l-1.25,1.3l-1.25,-1.3v-4.8zM529.4,283.8l1.25,1.3v4.8l-1.25,1.3l-1.25,-1.3v-4.8zM530.3,254.8l1.25,1.3v4.8l-1.25,1.3l-1.25,-1.3v-4.8zM532.2,267.3l1.25,1.3v4.8l-1.25,1.3l-1.25,-1.3v-4.8zM533.2,261.7l1.25,1.3v4.8l-1.25,1.3l-1.25,-1.3v-4.8zM533.4,250.0l1.25,1.3v4.8l-1.25,1.3l-1.25,-1.3v-4.8zM534.8,255.0l1.25,1.3v4.8l-1.25,1.3l-1.25,-1.3v-4.8zM535.8,268.9l1.25,1.3v4.8l-1.25,1.3l-1.25,-1.3v-4.8zM537.1,259.7l1.25,1.3v4.8l-1.25,1.3l-1.25,-1.3v-4.8zM538.0,284.6l1.25,1.3v4.8l-1.25,1.3l-1.25,-1.3v-4.8zM539.4,262.6l1.25,1.3v4.8l-1.25,1.3l-1.25,-1.3v-4.8zM541.0,266.2l1.25,1.3v4.8l-1.25,1.3l-1.25,-1.3v-4.8zM541.4,286.8l1.25,1.3v4.8l-1.25,1.3l-1.25,-1.3v-4.8zM542.9,252.8l1.25,1.3v4.8l-1.25,1.3l-1.25,-1.3v-4.8zM543.9,276.3l1.25,1.3v4.8l-1.25,1.3l-1.25,-1.3v-4.8zM545.2,260.1l1.25,1.3v4.8l-1.25,1.3l-1.25,-1.3v-4.8zM545.5,270.6l1.25,1.3v4.8l-1.25,1.3l-1.25,-1.3v-4.8zM547.4,253.1l1.25,1.3v4.8l-1.25,1.3l-1.25,-1.3v-4.8zM548.7,248.6l1.25,1.3v4.8l-1.25,1.3l-1.25,-1.3v-4.8zM549.4,273.4l1.25,1.3v4.8l-1.25,1.3l-1.25,-1.3v-4.8zM550.1,282.0l1.25,1.3v4.8l-1.25,1.3l-1.25,-1.3v-4.8zM551.7,264.8l1.25,1.3v4.8l-1.25,1.3l-1.25,-1.3v-4.8zM552.8,253.0l1.25,1.3v4.8l-1.25,1.3l-1.25,-1.3v-4.8zM553.8,267.4l1.25,1.3v4.8l-1.25,1.3l-1.25,-1.3v-4.8zM554.3,269.4l1.25,1.3v4.8l-1.25,1.3l-1.25,-1.3v-4.8zM556.4,256.4l1.25,1.3v4.8l-1.25,1.3l-1.25,-1.3v-4.8zM557.5,286.8l1.25,1.3v4.8l-1.25,1.3l-1.25,-1.3v-4.8zM558.0,269.1l1.25,1.3v4.8l-1.25,1.3l-1.25,-1.3v-4.8zM559.3,277.5l1.25,1.3v4.8l-1.25,1.3l-1.25,-1.3v-4.8zM559.7,256.9l1.25,1.3v4.8l-1.25,1.3l-1.25,-1.3v-4.8zM561.9,269.7l1.25,1.3v4.8l-1.25,1.3l-1.25,-1.3v-4.8zM562.8,275.3l1.25,1.3v4.8l-1.25,1.3l-1.25,-1.3v-4.8zM563.7,265.9l1.25,1.3v4.8l-1.25,1.3l-1.25,-1.3v-4.8zM564.9,278.9l1.25,1.3v4.8l-1.25,1.3l-1.25,-1.3v-4.8zM565.4,262.1l1.25,1.3v4.8l-1.25,1.3l-1.25,-1.3v-4.8zM566.6,270.4l1.25,1.3v4.8l-1.25,1.3l-1.25,-1.3v-4.8zM567.6,266.2l1.25,1.3v4.8l-1.25,1.3l-1.25,-1.3v-4.8zM569.1,271.4l1.25,1.3v4.8l-1.25,1.3l-1.25,-1.3v-4.8zM569.6,252.9l1.25,1.3v4.8l-1.25,1.3l-1.25,-1.3v-4.8zM571.7,266.8l1.25,1.3v4.8l-1.25,1.3l-1.25,-1.3v-4.8zM572.3,258.6l1.25,1.3v4.8l-1.25,1.3l-1.25,-1.3v-4.8zM573.3,259.7l1.25,1.3v4.8l-1.25,1.3l-1.25,-1.3v-4.8zM574.0,275.3l1.25,1.3v4.8l-1.25,1.3l-1.25,-1.3v-4.8zM575.8,259.5l1.25,1.3v4.8l-1.25,1.3l-1.25,-1.3v-4.8zM577.1,263.1l1.25,1.3v4.8l-1.25,1.3l-1.25,-1.3v-4.8zM578.0,264.0l1.25,1.3v4.8l-1.25,1.3l-1.25,-1.3v-4.8zM578.6,271.2l1.25,1.3v4.8l-1.25,1.3l-1.25,-1.3v-4.8zM580.3,271.3l1.25,1.3v4.8l-1.25,1.3l-1.25,-1.3v-4.8zM580.7,256.6l1.25,1.3v4.8l-1.25,1.3l-1.25,-1.3v-4.8zM582.6,244.7l1.25,1.3v4.8l-1.25,1.3l-1.25,-1.3v-4.8zM583.4,274.8l1.25,1.3v4.8l-1.25,1.3l-1.25,-1.3v-4.8zM584.1,257.8l1.25,1.3v4.8l-1.25,1.3l-1.25,-1.3v-4.8zM585.5,268.6l1.25,1.3v4.8l-1.25,1.3l-1.25,-1.3v-4.8zM586.7,256.3l1.25,1.3v4.8l-1.25,1.3l-1.25,-1.3v-4.8zM587.4,258.4l1.25,1.3v4.8l-1.25,1.3l-1.25,-1.3v-4.8zM589.2,250.5l1.25,1.3v4.8l-1.25,1.3l-1.25,-1.3v-4.8zM589.8,284.8l1.25,1.3v4.8l-1.25,1.3l-1.25,-1.3v-4.8zM591.4,270.5l1.25,1.3v4.8l-1.25,1.3l-1.25,-1.3v-4.8zM592.5,275.1l1.25,1.3v4.8l-1.25,1.3l-1.25,-1.3v-4.8zM592.7,263.3l1.25,1.3v4.8l-1.25,1.3l-1.25,-1.3v-4.8zM594.4,268.8l1.25,1.3v4.8l-1.25,1.3l-1.25,-1.3v-4.8zM595.1,268.7l1.25,1.3v4.8l-1.25,1.3l-1.25,-1.3v-4.8zM596.8,253.0l1.25,1.3v4.8l-1.25,1.3l-1.25,-1.3v-4.8zM597.6,243.5l1.25,1.3v4.8l-1.25,1.3l-1.25,-1.3v-4.8zM598.6,284.3l1.25,1.3v4.8l-1.25,1.3l-1.25,-1.3v-4.8zM600.2,263.7l1.25,1.3v4.8l-1.25,1.3l-1.25,-1.3v-4.8zM600.3,255.5l1.25,1.3v4.8l-1.25,1.3l-1.25,-1.3v-4.8zM602.0,260.9l1.25,1.3v4.8l-1.25,1.3l-1.25,-1.3v-4.8zM602.8,265.5l1.25,1.3v4.8l-1.25,1.3l-1.25,-1.3v-4.8zM603.6,277.8l1.25,1.3v4.8l-1.25,1.3l-1.25,-1.3v-4.8zM605.5,272.8l1.25,1.3v4.8l-1.25,1.3l-1.25,-1.3v-4.8zM606.4,252.3l1.25,1.3v4.8l-1.25,1.3l-1.25,-1.3v-4.8zM607.9,248.8l1.25,1.3v4.8l-1.25,1.3l-1.25,-1.3v-4.8zM608.6,260.8l1.25,1.3v4.8l-1.25,1.3l-1.25,-1.3v-4.8zM609.4,270.3l1.25,1.3v4.8l-1.25,1.3l-1.25,-1.3v-4.8zM611.3,260.4l1.25,1.3v4.8l-1.25,1.3l-1.25,-1.3v-4.8zM611.4,264.7l1.25,1.3v4.8l-1.25,1.3l-1.25,-1.3v-4.8zM612.4,254.9l1.25,1.3v4.8l-1.25,1.3l-1.25,-1.3v-4.8zM614.3,260.3l1.25,1.3v4.8l-1.25,1.3l-1.25,-1.3v-4.8zM615.0,269.6l1.25,1.3v4.8l-1.25,1.3l-1.25,-1.3v-4.8zM616.0,260.7l1.25,1.3v4.8l-1.25,1.3l-1.25,-1.3v-4.8zM617.8,278.2l1.25,1.3v4.8l-1.25,1.3l-1.25,-1.3v-4.8zM618.2,253.6l1.25,1.3v4.8l-1.25,1.3l-1.25,-1.3v-4.8zM620.0,248.9l1.25,1.3v4.8l-1.25,1.3l-1.25,-1.3v-4.8zM620.8,277.7l1.25,1.3v4.8l-1.25,1.3l-1.25,-1.3v-4.8zM467.2,237.0l1.25,1.3v4.8l-1.25,1.3l-1.25,-1.3v-4.8zM596.2,238.7l1.25,1.3v4.8l-1.25,1.3l-1.25,-1.3v-4.8zM604.0,236.0l1.25,1.3v4.8l-1.25,1.3l-1.25,-1.3v-4.8zM607.3,234.1l1.25,1.3v4.8l-1.25,1.3l-1.25,-1.3v-4.8zM468.1,302.1l1.25,1.3v4.8l-1.25,1.3l-1.25,-1.3v-4.8zM470.4,291.2l1.25,1.3v4.8l-1.25,1.3l-1.25,-1.3v-4.8zM497.4,241.5l1.25,1.3v4.8l-1.25,1.3l-1.25,-1.3v-4.8zM527.8,243.5l1.25,1.3v4.8l-1.25,1.3l-1.25,-1.3v-4.8zM568.3,241.5l1.25,1.3v4.8l-1.25,1.3l-1.25,-1.3v-4.8zM579.2,245.5l1.25,1.3v4.8l-1.25,1.3l-1.25,-1.3v-4.8zM490.2,248.5l1.25,1.3v4.8l-1.25,1.3l-1.25,-1.3v-4.8zM535.9,248.5l1.25,1.3v4.8l-1.25,1.3l-1.25,-1.3v-4.8z" fill="#000"/><path d="M325.0,295.1V302.8M322.6,295.1H327.4M322.6,302.8H327.4M325.9,293.8V301.8M323.5,293.8H328.3M323.5,301.8H328.3M326.8,292.1V298.8M324.4,292.1H329.2M324.4,298.8H329.2M327.7,295.5V303.6M325.3,295.5H330.1M325.3,303.6H330.1M328.6,292.9V299.9M326.2,292.9H331.0M326.2,299.9H331.0M329.5,294.9V303.5M327.1,294.9H331.9M327.1,303.5H331.9M330.4,291.1V297.4M328.0,291.1H332.8M328.0,297.4H332.8M331.3,290.0V296.7M328.9,290.0H333.7M328.9,296.7H333.7M332.2,295.2V302.2M329.8,295.2H334.6M329.8,302.2H334.6M333.1,297.4V305.0M330.7,297.4H335.5M330.7,305.0H335.5M334.0,292.2V301.3M331.6,292.2H336.4M331.6,301.3H336.4M334.9,293.7V300.1M332.5,293.7H337.3M332.5,300.1H337.3M335.8,288.7V296.9M333.4,288.7H338.2M333.4,296.9H338.2M336.7,286.9V293.5M334.3,286.9H339.1M334.3,293.5H339.1M337.6,289.1V296.8M335.2,289.1H340.0M335.2,296.8H340.0M338.5,293.7V301.2M336.1,293.7H340.9M336.1,301.2H340.9M339.4,284.3V291.4M337.0,284.3H341.8M337.0,291.4H341.8M340.3,287.2V295.3M337.9,287.2H342.7M337.9,295.3H342.7M341.2,283.0V290.7M338.8,283.0H343.6M338.8,290.7H343.6M342.1,288.2V295.7M339.7,288.2H344.5M339.7,295.7H344.5M343.0,289.3V298.0M340.6,289.3H345.4M340.6,298.0H345.4M343.9,283.8V291.3M341.5,283.8H346.3M341.5,291.3H346.3M344.8,284.8V294.7M342.4,284.8H347.2M342.4,294.7H347.2M345.7,290.7V298.3M343.3,290.7H348.1M343.3,298.3H348.1M346.6,285.0V295.3M344.2,285.0H349.0M344.2,295.3H349.0M347.5,282.8V290.4M345.1,282.8H349.9M345.1,290.4H349.9M348.4,280.5V290.9M346.0,280.5H350.8M346.0,290.9H350.8M349.3,279.6V287.0M346.9,279.6H351.7M346.9,287.0H351.7M350.2,288.5V295.8M347.8,288.5H352.6M347.8,295.8H352.6M351.1,283.0V290.7M348.7,283.0H353.5M348.7,290.7H353.5M352.0,287.2V297.3M349.6,287.2H354.4M349.6,297.3H354.4M352.9,286.3V294.8M350.5,286.3H355.3M350.5,294.8H355.3M353.8,280.4V289.1M351.4,280.4H356.2M351.4,289.1H356.2M354.7,279.5V289.9M352.3,279.5H357.1M352.3,289.9H357.1M355.6,283.9V291.9M353.2,283.9H358.0M353.2,291.9H358.0M356.5,279.8V289.9M354.1,279.8H358.9M354.1,289.9H358.9M357.4,279.8V289.5M355.0,279.8H359.8M355.0,289.5H359.8M358.3,272.7V281.5M355.9,272.7H360.7M355.9,281.5H360.7M359.2,279.4V291.4M356.8,279.4H361.6M356.8,291.4H361.6M360.1,272.5V282.4M357.7,272.5H362.5M357.7,282.4H362.5M361.0,266.0V275.7M358.6,266.0H363.4M358.6,275.7H363.4M361.9,270.5V282.0M359.5,270.5H364.3M359.5,282.0H364.3M362.8,273.1V285.4M360.4,273.1H365.2M360.4,285.4H365.2M363.7,279.9V289.7M361.3,279.9H366.1M361.3,289.7H366.1M364.6,269.6V279.0M362.2,269.6H367.0M362.2,279.0H367.0M365.5,262.2V275.4M363.1,262.2H367.9M363.1,275.4H367.9M366.4,275.6V286.6M364.0,275.6H368.8M364.0,286.6H368.8M367.3,265.8V277.4M364.9,265.8H369.7M364.9,277.4H369.7M368.2,262.8V274.1M365.8,262.8H370.6M365.8,274.1H370.6M369.1,256.8V269.9M366.7,256.8H371.5M366.7,269.9H371.5M370.0,256.4V267.6M367.6,256.4H372.4M367.6,267.6H372.4M370.9,266.1V278.8M368.5,266.1H373.3M368.5,278.8H373.3M371.8,259.2V270.9M369.4,259.2H374.2M369.4,270.9H374.2M372.7,258.9V268.5M370.3,258.9H375.1M370.3,268.5H375.1M373.6,257.8V269.4M371.2,257.8H376.0M371.2,269.4H376.0M374.5,265.7V278.9M372.1,265.7H376.9M372.1,278.9H376.9M375.4,258.3V270.0M373.0,258.3H377.8M373.0,270.0H377.8M376.3,264.2V275.2M373.9,264.2H378.7M373.9,275.2H378.7M377.2,264.0V273.4M374.8,264.0H379.6M374.8,273.4H379.6M378.1,263.1V275.6M375.7,263.1H380.5M375.7,275.6H380.5M379.0,259.6V270.7M376.6,259.6H381.4M376.6,270.7H381.4M379.9,266.6V277.4M377.5,266.6H382.3M377.5,277.4H382.3M380.8,270.8V281.8M378.4,270.8H383.2M378.4,281.8H383.2M381.7,263.7V275.0M379.3,263.7H384.1M379.3,275.0H384.1M382.6,260.9V271.8M380.2,260.9H385.0M380.2,271.8H385.0M383.5,259.9V270.6M381.1,259.9H385.9M381.1,270.6H385.9M384.4,265.8V277.2M382.0,265.8H386.8M382.0,277.2H386.8M385.3,265.2V274.7M382.9,265.2H387.7M382.9,274.7H387.7M386.2,266.2V276.5M383.8,266.2H388.6M383.8,276.5H388.6M387.1,266.6V278.0M384.7,266.6H389.5M384.7,278.0H389.5M388.0,259.2V272.7M385.6,259.2H390.4M385.6,272.7H390.4M388.9,269.7V281.0M386.5,269.7H391.3M386.5,281.0H391.3M389.8,267.0V278.9M387.4,267.0H392.2M387.4,278.9H392.2M390.7,264.5V278.0M388.3,264.5H393.1M388.3,278.0H393.1M391.6,265.9V279.0M389.2,265.9H394.0M389.2,279.0H394.0M392.5,268.9V281.5M390.1,268.9H394.9M390.1,281.5H394.9M393.4,265.2V277.4M391.0,265.2H395.8M391.0,277.4H395.8M394.3,262.1V274.2M391.9,262.1H396.7M391.9,274.2H396.7M395.2,272.1V282.3M392.8,272.1H397.6M392.8,282.3H397.6M396.1,266.3V276.3M393.7,266.3H398.5M393.7,276.3H398.5M397.0,265.9V275.5M394.6,265.9H399.4M394.6,275.5H399.4M397.9,263.0V272.8M395.5,263.0H400.3M395.5,272.8H400.3M398.8,269.1V281.3M396.4,269.1H401.2M396.4,281.3H401.2M399.7,265.0V277.2M397.3,265.0H402.1M397.3,277.2H402.1M400.6,269.4V278.9M398.2,269.4H403.0M398.2,278.9H403.0M401.5,272.1V285.4M399.1,272.1H403.9M399.1,285.4H403.9M402.4,271.3V282.7M400.0,271.3H404.8M400.0,282.7H404.8M403.3,274.9V286.8M400.9,274.9H405.7M400.9,286.8H405.7M404.2,272.9V282.6M401.8,272.9H406.6M401.8,282.6H406.6M405.1,267.9V281.3M402.7,267.9H407.5M402.7,281.3H407.5M406.0,269.7V279.5M403.6,269.7H408.4M403.6,279.5H408.4M406.9,268.8V279.2M404.5,268.8H409.3M404.5,279.2H409.3M407.8,272.8V284.3M405.4,272.8H410.2M405.4,284.3H410.2M408.7,269.7V281.4M406.3,269.7H411.1M406.3,281.4H411.1M409.6,267.3V279.2M407.2,267.3H412.0M407.2,279.2H412.0M410.5,271.4V285.2M408.1,271.4H412.9M408.1,285.2H412.9M411.4,270.1V279.6M409.0,270.1H413.8M409.0,279.6H413.8M412.3,265.8V278.4M409.9,265.8H414.7M409.9,278.4H414.7M413.2,261.8V273.3M410.8,261.8H415.6M410.8,273.3H415.6M414.1,269.0V282.2M411.7,269.0H416.5M411.7,282.2H416.5M415.0,268.3V280.9M412.6,268.3H417.4M412.6,280.9H417.4M415.9,266.9V280.1M413.5,266.9H418.3M413.5,280.1H418.3M416.8,264.4V277.8M414.4,264.4H419.2M414.4,277.8H419.2M417.7,262.7V275.7M415.3,262.7H420.1M415.3,275.7H420.1M418.6,266.5V276.5M416.2,266.5H421.0M416.2,276.5H421.0M419.5,267.6V279.5M417.1,267.6H421.9M417.1,279.5H421.9M420.4,265.2V278.3M418.0,265.2H422.8M418.0,278.3H422.8M421.3,265.2V278.3M418.9,265.2H423.7M418.9,278.3H423.7M422.2,263.5V277.3M419.8,263.5H424.6M419.8,277.3H424.6M423.1,268.0V279.4M420.7,268.0H425.5M420.7,279.4H425.5M424.0,268.1V277.6M421.6,268.1H426.4M421.6,277.6H426.4M424.9,261.9V274.7M422.5,261.9H427.3M422.5,274.7H427.3M425.8,269.3V280.1M423.4,269.3H428.2M423.4,280.1H428.2M426.7,268.6V281.2M424.3,268.6H429.1M424.3,281.2H429.1M427.6,270.1V279.8M425.2,270.1H430.0M425.2,279.8H430.0M428.5,265.2V276.3M426.1,265.2H430.9M426.1,276.3H430.9M429.4,263.9V276.3M427.0,263.9H431.8M427.0,276.3H431.8M430.3,260.9V270.9M427.9,260.9H432.7M427.9,270.9H432.7M431.2,268.4V279.4M428.8,268.4H433.6M428.8,279.4H433.6M432.1,256.6V266.7M429.7,256.6H434.5M429.7,266.7H434.5M433.0,261.7V275.4M430.6,261.7H435.4M430.6,275.4H435.4M433.9,262.1V275.3M431.5,262.1H436.3M431.5,275.3H436.3M434.8,267.3V279.8M432.4,267.3H437.2M432.4,279.8H437.2M435.7,263.6V275.5M433.3,263.6H438.1M433.3,275.5H438.1M436.6,258.1V272.2M434.2,258.1H439.0M434.2,272.2H439.0M437.5,257.9V268.6M435.1,257.9H439.9M435.1,268.6H439.9M438.4,259.6V272.4M436.0,259.6H440.8M436.0,272.4H440.8M439.3,264.6V274.5M436.9,264.6H441.7M436.9,274.5H441.7M440.2,263.0V275.4M437.8,263.0H442.6M437.8,275.4H442.6M441.1,262.4V272.9M438.7,262.4H443.5M438.7,272.9H443.5M442.0,260.2V269.7M439.6,260.2H444.4M439.6,269.7H444.4M442.9,260.2V274.0M440.5,260.2H445.3M440.5,274.0H445.3M443.8,266.1V276.9M441.4,266.1H446.2M441.4,276.9H446.2M444.7,255.1V269.3M442.3,255.1H447.1M442.3,269.3H447.1M445.6,260.4V273.2M443.2,260.4H448.0M443.2,273.2H448.0M446.5,267.0V279.7M444.1,267.0H448.9M444.1,279.7H448.9M447.4,262.1V274.8M445.0,262.1H449.8M445.0,274.8H449.8M448.3,256.9V271.1M445.9,256.9H450.7M445.9,271.1H450.7M449.2,262.9V273.4M446.8,262.9H451.6M446.8,273.4H451.6M450.1,254.8V269.1M447.7,254.8H452.5M447.7,269.1H452.5M451.0,259.8V270.8M448.6,259.8H453.4M448.6,270.8H453.4M451.9,266.5V276.5M449.5,266.5H454.3M449.5,276.5H454.3M452.8,265.8V279.7M450.4,265.8H455.2M450.4,279.7H455.2M453.7,252.2V262.2M451.3,252.2H456.1M451.3,262.2H456.1M454.6,260.8V272.6M452.2,260.8H457.0M452.2,272.6H457.0M455.5,265.1V278.6M453.1,265.1H457.9M453.1,278.6H457.9M456.4,255.7V266.5M454.0,255.7H458.8M454.0,266.5H458.8M457.3,257.7V270.7M454.9,257.7H459.7M454.9,270.7H459.7M458.2,263.2V275.8M455.8,263.2H460.6M455.8,275.8H460.6M459.1,254.4V267.3M456.7,254.4H461.5M456.7,267.3H461.5M460.0,259.7V269.9M457.6,259.7H462.4M457.6,269.9H462.4M460.9,256.3V269.2M458.5,256.3H463.3M458.5,269.2H463.3M461.8,248.2V261.8M459.4,248.2H464.2M459.4,261.8H464.2M462.7,259.1V269.3M460.3,259.1H465.1M460.3,269.3H465.1M463.6,255.1V269.2M461.2,255.1H466.0M461.2,269.2H466.0M464.5,260.1V274.2M462.1,260.1H466.9M462.1,274.2H466.9M465.4,266.2V277.3M463.0,266.2H467.8M463.0,277.3H467.8M466.3,258.9V273.1M463.9,258.9H468.7M463.9,273.1H468.7M467.2,255.0V269.0M464.8,255.0H469.6M464.8,269.0H469.6M468.1,260.2V270.4M465.7,260.2H470.5M465.7,270.4H470.5M469.0,257.7V270.9M466.6,257.7H471.4M466.6,270.9H471.4M469.9,260.6V274.8M467.5,260.6H472.3M467.5,274.8H472.3M470.8,250.4V263.9M468.4,250.4H473.2M468.4,263.9H473.2M471.7,253.3V263.5M469.3,253.3H474.1M469.3,263.5H474.1M472.6,249.0V260.5M470.2,249.0H475.0M470.2,260.5H475.0M473.4,259.1V271.4M471.0,259.1H475.8M471.0,271.4H475.8M474.3,256.8V268.2M471.9,256.8H476.7M471.9,268.2H476.7M475.2,254.0V265.5M472.8,254.0H477.6M472.8,265.5H477.6M476.1,254.3V264.4M473.7,254.3H478.5M473.7,264.4H478.5M477.0,255.1V264.8M474.6,255.1H479.4M474.6,264.8H479.4M477.9,253.2V264.2M475.5,253.2H480.3M475.5,264.2H480.3M478.8,255.3V267.0M476.4,255.3H481.2M476.4,267.0H481.2M479.7,254.0V266.4M477.3,254.0H482.1M477.3,266.4H482.1M480.6,260.3V274.5M478.2,260.3H483.0M478.2,274.5H483.0M481.5,257.6V267.6M479.1,257.6H483.9M479.1,267.6H483.9M482.4,251.5V262.8M480.0,251.5H484.8M480.0,262.8H484.8M483.3,250.5V264.3M480.9,250.5H485.7M480.9,264.3H485.7M484.2,257.0V270.6M481.8,257.0H486.6M481.8,270.6H486.6M485.1,255.2V265.3M482.7,255.2H487.5M482.7,265.3H487.5M486.0,252.6V265.5M483.6,252.6H488.4M483.6,265.5H488.4M486.9,254.9V265.0M484.5,254.9H489.3M484.5,265.0H489.3M487.8,255.9V270.1M485.4,255.9H490.2M485.4,270.1H490.2M488.7,245.4V256.3M486.3,245.4H491.1M486.3,256.3H491.1M489.6,245.3V257.9M487.2,245.3H492.0M487.2,257.9H492.0M490.5,240.9V252.8M488.1,240.9H492.9M488.1,252.8H492.9M491.4,249.9V262.1M489.0,249.9H493.8M489.0,262.1H493.8M492.3,247.2V257.9M489.9,247.2H494.7M489.9,257.9H494.7M493.2,245.5V256.9M490.8,245.5H495.6M490.8,256.9H495.6M494.1,244.9V255.9M491.7,244.9H496.5M491.7,255.9H496.5M495.0,249.7V262.4M492.6,249.7H497.4M492.6,262.4H497.4M495.9,246.6V258.3M493.5,246.6H498.3M493.5,258.3H498.3M496.8,244.6V257.1M494.4,244.6H499.2M494.4,257.1H499.2M497.7,252.3V264.5M495.3,252.3H500.1M495.3,264.5H500.1M498.6,242.2V255.1M496.2,242.2H501.0M496.2,255.1H501.0M499.5,240.4V254.8M497.1,240.4H501.9M497.1,254.8H501.9M500.4,257.0V269.3M498.0,257.0H502.8M498.0,269.3H502.8M501.3,244.4V256.7M498.9,244.4H503.7M498.9,256.7H503.7M502.2,242.9V255.5M499.8,242.9H504.6M499.8,255.5H504.6M503.1,242.2V254.6M500.7,242.2H505.5M500.7,254.6H505.5M504.0,244.8V256.5M501.6,244.8H506.4M501.6,256.5H506.4M504.9,248.9V259.8M502.5,248.9H507.3M502.5,259.8H507.3M505.8,247.9V260.2M503.4,247.9H508.2M503.4,260.2H508.2M506.7,247.6V258.5M504.3,247.6H509.1M504.3,258.5H509.1M507.6,243.2V256.1M505.2,243.2H510.0M505.2,256.1H510.0M508.5,237.4V251.4M506.1,237.4H510.9M506.1,251.4H510.9M509.4,244.9V258.5M507.0,244.9H511.8M507.0,258.5H511.8M510.3,249.7V263.2M507.9,249.7H512.7M507.9,263.2H512.7M511.2,249.0V259.8M508.8,249.0H513.6M508.8,259.8H513.6M512.1,244.9V254.7M509.7,244.9H514.5M509.7,254.7H514.5M513.0,248.6V259.3M510.6,248.6H515.4M510.6,259.3H515.4M513.9,242.8V255.3M511.5,242.8H516.3M511.5,255.3H516.3M514.8,245.1V255.4M512.4,245.1H517.2M512.4,255.4H517.2M515.7,240.1V250.4M513.3,240.1H518.1M513.3,250.4H518.1M516.6,241.9V256.5M514.2,241.9H519.0M514.2,256.5H519.0M517.5,245.5V256.9M515.1,245.5H519.9M515.1,256.9H519.9M518.4,244.9V255.0M516.0,244.9H520.8M516.0,255.0H520.8M519.3,247.7V260.0M516.9,247.7H521.7M516.9,260.0H521.7M520.2,251.8V265.0M517.8,251.8H522.6M517.8,265.0H522.6M521.1,249.8V261.8M518.7,249.8H523.5M518.7,261.8H523.5M522.0,243.9V254.3M519.6,243.9H524.4M519.6,254.3H524.4M522.9,241.5V253.8M520.5,241.5H525.3M520.5,253.8H525.3M523.8,243.0V253.1M521.4,243.0H526.2M521.4,253.1H526.2M524.7,240.3V253.6M522.3,240.3H527.1M522.3,253.6H527.1M525.6,243.9V258.3M523.2,243.9H528.0M523.2,258.3H528.0M526.5,247.5V257.5M524.1,247.5H528.9M524.1,257.5H528.9M527.4,244.9V257.4M525.0,244.9H529.8M525.0,257.4H529.8M528.3,244.0V257.9M525.9,244.0H530.7M525.9,257.9H530.7M529.2,244.2V257.1M526.8,244.2H531.6M526.8,257.1H531.6M530.1,244.0V254.5M527.7,244.0H532.5M527.7,254.5H532.5M531.0,241.6V251.7M528.6,241.6H533.4M528.6,251.7H533.4M531.9,251.2V263.2M529.5,251.2H534.3M529.5,263.2H534.3M532.8,249.6V259.6M530.4,249.6H535.2M530.4,259.6H535.2M533.7,239.8V253.6M531.3,239.8H536.1M531.3,253.6H536.1M534.6,240.4V252.8M532.2,240.4H537.0M532.2,252.8H537.0M535.5,241.9V253.2M533.1,241.9H537.9M533.1,253.2H537.9M536.4,243.3V256.8M534.0,243.3H538.8M534.0,256.8H538.8M537.3,249.9V260.7M534.9,249.9H539.7M534.9,260.7H539.7M538.2,248.0V260.3M535.8,248.0H540.6M535.8,260.3H540.6M539.1,248.3V260.5M536.7,248.3H541.5M536.7,260.5H541.5M540.0,249.4V259.8M537.6,249.4H542.4M537.6,259.8H542.4M540.9,247.6V261.3M538.5,247.6H543.3M538.5,261.3H543.3M541.8,246.1V259.4M539.4,246.1H544.2M539.4,259.4H544.2M542.7,245.9V256.7M540.3,245.9H545.1M540.3,256.7H545.1M543.6,243.4V255.3M541.2,243.4H546.0M541.2,255.3H546.0M544.5,237.0V248.3M542.1,237.0H546.9M542.1,248.3H546.9M545.4,241.9V256.4M543.0,241.9H547.8M543.0,256.4H547.8M546.3,250.4V263.5M543.9,250.4H548.7M543.9,263.5H548.7M547.2,239.6V254.1M544.8,239.6H549.6M544.8,254.1H549.6M548.1,239.5V253.1M545.7,239.5H550.5M545.7,253.1H550.5M549.0,246.5V260.2M546.6,246.5H551.4M546.6,260.2H551.4M549.9,243.8V255.2M547.5,243.8H552.3M547.5,255.2H552.3M550.8,240.5V254.6M548.4,240.5H553.2M548.4,254.6H553.2M551.7,250.4V261.9M549.3,250.4H554.1M549.3,261.9H554.1M552.6,245.3V259.3M550.2,245.3H555.0M550.2,259.3H555.0M553.5,246.4V259.7M551.1,246.4H555.9M551.1,259.7H555.9M554.4,241.5V253.9M552.0,241.5H556.8M552.0,253.9H556.8M555.3,246.8V257.5M552.9,246.8H557.7M552.9,257.5H557.7M556.2,245.1V258.0M553.8,245.1H558.6M553.8,258.0H558.6M557.1,246.7V259.6M554.7,246.7H559.5M554.7,259.6H559.5M558.0,248.3V261.6M555.6,248.3H560.4M555.6,261.6H560.4M558.9,249.8V260.0M556.5,249.8H561.3M556.5,260.0H561.3M559.8,245.3V256.4M557.4,245.3H562.2M557.4,256.4H562.2M560.7,246.7V259.3M558.3,246.7H563.1M558.3,259.3H563.1M561.6,238.1V252.2M559.2,238.1H564.0M559.2,252.2H564.0M562.5,246.9V257.9M560.1,246.9H564.9M560.1,257.9H564.9M563.4,245.7V260.0M561.0,245.7H565.8M561.0,260.0H565.8M564.3,241.2V255.9M561.9,241.2H566.7M561.9,255.9H566.7M565.2,241.9V252.3M562.8,241.9H567.6M562.8,252.3H567.6M566.1,243.1V256.6M563.7,243.1H568.5M563.7,256.6H568.5M567.0,238.7V250.6M564.6,238.7H569.4M564.6,250.6H569.4M567.9,245.7V256.2M565.5,245.7H570.3M565.5,256.2H570.3M568.8,245.1V256.1M566.4,245.1H571.2M566.4,256.1H571.2M569.7,239.4V251.1M567.3,239.4H572.1M567.3,251.1H572.1M570.6,244.8V254.8M568.2,244.8H573.0M568.2,254.8H573.0M571.5,247.4V260.8M569.1,247.4H573.9M569.1,260.8H573.9M572.4,248.1V260.3M570.0,248.1H574.8M570.0,260.3H574.8M573.3,247.7V259.4M570.9,247.7H575.7M570.9,259.4H575.7M574.2,241.3V255.6M571.8,241.3H576.6M571.8,255.6H576.6M575.1,240.5V255.2M572.7,240.5H577.5M572.7,255.2H577.5M576.0,241.4V253.6M573.6,241.4H578.4M573.6,253.6H578.4M576.9,245.6V257.1M574.5,245.6H579.3M574.5,257.1H579.3M577.8,252.2V265.2M575.4,252.2H580.2M575.4,265.2H580.2M578.7,248.6V260.6M576.3,248.6H581.1M576.3,260.6H581.1M579.6,248.3V262.6M577.2,248.3H582.0M577.2,262.6H582.0M580.5,248.6V260.0M578.1,248.6H582.9M578.1,260.0H582.9M581.4,236.6V247.2M579.0,236.6H583.8M579.0,247.2H583.8M582.3,242.5V252.5M579.9,242.5H584.7M579.9,252.5H584.7M583.2,241.3V252.1M580.8,241.3H585.6M580.8,252.1H585.6M584.1,248.5V258.9M581.7,248.5H586.5M581.7,258.9H586.5M585.0,248.1V262.6M582.6,248.1H587.4M582.6,262.6H587.4M585.9,238.9V252.2M583.5,238.9H588.3M583.5,252.2H588.3M586.8,242.1V255.0M584.4,242.1H589.2M584.4,255.0H589.2M587.7,243.2V257.8M585.3,243.2H590.1M585.3,257.8H590.1M588.6,239.8V252.9M586.2,239.8H591.0M586.2,252.9H591.0M589.5,239.5V253.0M587.1,239.5H591.9M587.1,253.0H591.9M590.4,240.8V251.6M588.0,240.8H592.8M588.0,251.6H592.8M591.3,247.2V258.6M588.9,247.2H593.7M588.9,258.6H593.7M592.2,239.3V252.3M589.8,239.3H594.6M589.8,252.3H594.6M593.1,247.0V261.2M590.7,247.0H595.5M590.7,261.2H595.5M594.0,243.8V255.2M591.6,243.8H596.4M591.6,255.2H596.4M594.9,245.8V258.1M592.5,245.8H597.3M592.5,258.1H597.3M595.8,250.0V261.4M593.4,250.0H598.2M593.4,261.4H598.2M596.7,240.8V252.2M594.3,240.8H599.1M594.3,252.2H599.1M597.6,239.0V251.9M595.2,239.0H600.0M595.2,251.9H600.0M598.5,243.2V257.9M596.1,243.2H600.9M596.1,257.9H600.9M599.4,237.1V252.0M597.0,237.1H601.8M597.0,252.0H601.8M600.3,238.9V251.8M597.9,238.9H602.7M597.9,251.8H602.7M601.2,242.5V252.7M598.8,242.5H603.6M598.8,252.7H603.6M602.1,242.6V254.0M599.7,242.6H604.5M599.7,254.0H604.5M603.0,235.5V248.8M600.6,235.5H605.4M600.6,248.8H605.4M603.9,238.1V252.7M601.5,238.1H606.3M601.5,252.7H606.3M604.8,243.9V254.7M602.4,243.9H607.2M602.4,254.7H607.2M605.7,245.0V259.2M603.3,245.0H608.1M603.3,259.2H608.1M606.6,230.8V245.3M604.2,230.8H609.0M604.2,245.3H609.0M607.5,246.6V257.1M605.1,246.6H609.9M605.1,257.1H609.9M608.4,242.7V257.3M606.0,242.7H610.8M606.0,257.3H610.8M609.3,235.4V248.4M606.9,235.4H611.7M606.9,248.4H611.7M610.2,233.5V247.8M607.8,233.5H612.6M607.8,247.8H612.6M611.1,241.9V255.4M608.7,241.9H613.5M608.7,255.4H613.5M612.0,238.6V252.1M609.6,238.6H614.4M609.6,252.1H614.4M612.9,240.7V255.2M610.5,240.7H615.3M610.5,255.2H615.3M613.8,244.3V258.2M611.4,244.3H616.2M611.4,258.2H616.2M614.7,240.1V252.3M612.3,240.1H617.1M612.3,252.3H617.1M615.6,242.7V254.6M613.2,242.7H618.0M613.2,254.6H618.0M616.5,242.7V257.7M614.1,242.7H618.9M614.1,257.7H618.9M617.4,246.5V257.9M615.0,246.5H619.8M615.0,257.9H619.8M618.3,249.5V261.4M615.9,249.5H620.7M615.9,261.4H620.7M619.2,250.0V260.8M616.8,250.0H621.6M616.8,260.8H621.6M620.1,243.6V255.4M617.7,243.6H622.5M617.7,255.4H622.5M621.0,240.8V253.8M618.6,240.8H623.4M618.6,253.8H623.4" stroke="#ff0000" stroke-width="0.8" fill="none"/><path d="M323.2,297.1h3.6v3.6h-3.6zM324.1,296.0h3.6v3.6h-3.6zM325.0,293.6h3.6v3.6h-3.6zM325.9,297.7h3.6v3.6h-3.6zM326.8,294.6h3.6v3.6h-3.6zM327.7,297.4h3.6v3.6h-3.6zM328.6,292.5h3.6v3.6h-3.6zM329.5,291.6h3.6v3.6h-3.6zM330.4,296.9h3.6v3.6h-3.6zM331.3,299.4h3.6v3.6h-3.6zM332.2,295.0h3.6v3.6h-3.6zM333.1,295.1h3.6v3.6h-3.6zM334.0,291.0h3.6v3.6h-3.6zM334.9,288.4h3.6v3.6h-3.6zM335.8,291.2h3.6v3.6h-3.6zM336.7,295.7h3.6v3.6h-3.6zM337.6,286.0h3.6v3.6h-3.6zM338.5,289.5h3.6v3.6h-3.6zM339.4,285.1h3.6v3.6h-3.6zM340.3,290.1h3.6v3.6h-3.6zM341.2,291.8h3.6v3.6h-3.6zM342.1,285.7h3.6v3.6h-3.6zM343.0,287.9h3.6v3.6h-3.6zM343.9,292.7h3.6v3.6h-3.6zM344.8,288.4h3.6v3.6h-3.6zM345.7,284.8h3.6v3.6h-3.6zM346.6,283.9h3.6v3.6h-3.6zM347.5,281.5h3.6v3.6h-3.6zM348.4,290.4h3.6v3.6h-3.6zM349.3,285.1h3.6v3.6h-3.6zM350.2,290.5h3.6v3.6h-3.6zM351.1,288.8h3.6v3.6h-3.6zM352.0,282.9h3.6v3.6h-3.6zM352.9,282.9h3.6v3.6h-3.6zM353.8,286.1h3.6v3.6h-3.6zM354.7,283.0h3.6v3.6h-3.6zM355.6,282.9h3.6v3.6h-3.6zM356.5,275.3h3.6v3.6h-3.6zM357.4,283.6h3.6v3.6h-3.6zM358.3,275.6h3.6v3.6h-3.6zM359.2,269.1h3.6v3.6h-3.6zM360.1,274.5h3.6v3.6h-3.6zM361.0,277.4h3.6v3.6h-3.6zM361.9,283.0h3.6v3.6h-3.6zM362.8,272.5h3.6v3.6h-3.6zM363.7,267.0h3.6v3.6h-3.6zM364.6,279.3h3.6v3.6h-3.6zM365.5,269.8h3.6v3.6h-3.6zM366.4,266.6h3.6v3.6h-3.6zM367.3,261.6h3.6v3.6h-3.6zM368.2,260.2h3.6v3.6h-3.6zM369.1,270.7h3.6v3.6h-3.6zM370.0,263.3h3.6v3.6h-3.6zM370.9,261.9h3.6v3.6h-3.6zM371.8,261.8h3.6v3.6h-3.6zM372.7,270.5h3.6v3.6h-3.6zM373.6,262.4h3.6v3.6h-3.6zM374.5,267.9h3.6v3.6h-3.6zM375.4,266.9h3.6v3.6h-3.6zM376.3,267.5h3.6v3.6h-3.6zM377.2,263.3h3.6v3.6h-3.6zM378.1,270.2h3.6v3.6h-3.6zM379.0,274.5h3.6v3.6h-3.6zM379.9,267.6h3.6v3.6h-3.6zM380.8,264.5h3.6v3.6h-3.6zM381.7,263.4h3.6v3.6h-3.6zM382.6,269.7h3.6v3.6h-3.6zM383.5,268.1h3.6v3.6h-3.6zM384.4,269.5h3.6v3.6h-3.6zM385.3,270.5h3.6v3.6h-3.6zM386.2,264.2h3.6v3.6h-3.6zM387.1,273.6h3.6v3.6h-3.6zM388.0,271.2h3.6v3.6h-3.6zM388.9,269.5h3.6v3.6h-3.6zM389.8,270.6h3.6v3.6h-3.6zM390.7,273.4h3.6v3.6h-3.6zM391.6,269.5h3.6v3.6h-3.6zM392.5,266.4h3.6v3.6h-3.6zM393.4,275.4h3.6v3.6h-3.6zM394.3,269.5h3.6v3.6h-3.6zM395.2,268.9h3.6v3.6h-3.6zM396.1,266.1h3.6v3.6h-3.6zM397.0,273.4h3.6v3.6h-3.6zM397.9,269.3h3.6v3.6h-3.6zM398.8,272.4h3.6v3.6h-3.6zM399.7,277.0h3.6v3.6h-3.6zM400.6,275.2h3.6v3.6h-3.6zM401.5,279.1h3.6v3.6h-3.6zM402.4,276.0h3.6v3.6h-3.6zM403.3,272.8h3.6v3.6h-3.6zM404.2,272.8h3.6v3.6h-3.6zM405.1,272.2h3.6v3.6h-3.6zM406.0,276.7h3.6v3.6h-3.6zM406.9,273.7h3.6v3.6h-3.6zM407.8,271.5h3.6v3.6h-3.6zM408.7,276.5h3.6v3.6h-3.6zM409.6,273.0h3.6v3.6h-3.6zM410.5,270.3h3.6v3.6h-3.6zM411.4,265.8h3.6v3.6h-3.6zM412.3,273.8h3.6v3.6h-3.6zM413.2,272.8h3.6v3.6h-3.6zM414.1,271.7h3.6v3.6h-3.6zM415.0,269.3h3.6v3.6h-3.6zM415.9,267.4h3.6v3.6h-3.6zM416.8,269.7h3.6v3.6h-3.6zM417.7,271.7h3.6v3.6h-3.6zM418.6,269.9h3.6v3.6h-3.6zM419.5,270.0h3.6v3.6h-3.6zM420.4,268.6h3.6v3.6h-3.6zM421.3,271.9h3.6v3.6h-3.6zM422.2,271.1h3.6v3.6h-3.6zM423.1,266.5h3.6v3.6h-3.6zM424.0,272.9h3.6v3.6h-3.6zM424.9,273.1h3.6v3.6h-3.6zM425.8,273.1h3.6v3.6h-3.6zM426.7,268.9h3.6v3.6h-3.6zM427.6,268.3h3.6v3.6h-3.6zM428.5,264.1h3.6v3.6h-3.6zM429.4,272.1h3.6v3.6h-3.6zM430.3,259.8h3.6v3.6h-3.6zM431.2,266.8h3.6v3.6h-3.6zM432.1,266.9h3.6v3.6h-3.6zM433.0,271.8h3.6v3.6h-3.6zM433.9,267.8h3.6v3.6h-3.6zM434.8,263.4h3.6v3.6h-3.6zM435.7,261.5h3.6v3.6h-3.6zM436.6,264.2h3.6v3.6h-3.6zM437.5,267.8h3.6v3.6h-3.6zM438.4,267.4h3.6v3.6h-3.6zM439.3,265.8h3.6v3.6h-3.6zM440.2,263.1h3.6v3.6h-3.6zM441.1,265.3h3.6v3.6h-3.6zM442.0,269.7h3.6v3.6h-3.6zM442.9,260.4h3.6v3.6h-3.6zM443.8,265.0h3.6v3.6h-3.6zM444.7,271.5h3.6v3.6h-3.6zM445.6,266.7h3.6v3.6h-3.6zM446.5,262.2h3.6v3.6h-3.6zM447.4,266.4h3.6v3.6h-3.6zM448.3,260.2h3.6v3.6h-3.6zM449.2,263.5h3.6v3.6h-3.6zM450.1,269.7h3.6v3.6h-3.6zM451.0,271.0h3.6v3.6h-3.6zM451.9,255.4h3.6v3.6h-3.6zM452.8,264.9h3.6v3.6h-3.6zM453.7,270.0h3.6v3.6h-3.6zM454.6,259.3h3.6v3.6h-3.6zM455.5,262.4h3.6v3.6h-3.6zM456.4,267.7h3.6v3.6h-3.6zM457.3,259.1h3.6v3.6h-3.6zM458.2,263.0h3.6v3.6h-3.6zM459.1,261.0h3.6v3.6h-3.6zM460.0,253.2h3.6v3.6h-3.6zM460.9,262.4h3.6v3.6h-3.6zM461.8,260.4h3.6v3.6h-3.6zM462.7,265.3h3.6v3.6h-3.6zM463.6,270.0h3.6v3.6h-3.6zM464.5,264.2h3.6v3.6h-3.6zM465.4,260.2h3.6v3.6h-3.6zM466.3,263.5h3.6v3.6h-3.6zM467.2,262.5h3.6v3.6h-3.6zM468.1,265.9h3.6v3.6h-3.6zM469.0,255.3h3.6v3.6h-3.6zM469.9,256.6h3.6v3.6h-3.6zM470.8,252.9h3.6v3.6h-3.6zM471.6,263.4h3.6v3.6h-3.6zM472.5,260.7h3.6v3.6h-3.6zM473.4,257.9h3.6v3.6h-3.6zM474.3,257.5h3.6v3.6h-3.6zM475.2,258.2h3.6v3.6h-3.6zM476.1,256.9h3.6v3.6h-3.6zM477.0,259.3h3.6v3.6h-3.6zM477.9,258.4h3.6v3.6h-3.6zM478.8,265.6h3.6v3.6h-3.6zM479.7,260.8h3.6v3.6h-3.6zM480.6,255.3h3.6v3.6h-3.6zM481.5,255.6h3.6v3.6h-3.6zM482.4,262.0h3.6v3.6h-3.6zM483.3,258.5h3.6v3.6h-3.6zM484.2,257.3h3.6v3.6h-3.6zM485.1,258.2h3.6v3.6h-3.6zM486.0,261.2h3.6v3.6h-3.6zM486.9,249.0h3.6v3.6h-3.6zM487.8,249.8h3.6v3.6h-3.6zM488.7,245.1h3.6v3.6h-3.6zM489.6,254.2h3.6v3.6h-3.6zM490.5,250.7h3.6v3.6h-3.6zM491.4,249.4h3.6v3.6h-3.6zM492.3,248.6h3.6v3.6h-3.6zM493.2,254.2h3.6v3.6h-3.6zM494.1,250.7h3.6v3.6h-3.6zM495.0,249.0h3.6v3.6h-3.6zM495.9,256.6h3.6v3.6h-3.6zM496.8,246.9h3.6v3.6h-3.6zM497.7,245.8h3.6v3.6h-3.6zM498.6,261.4h3.6v3.6h-3.6zM499.5,248.7h3.6v3.6h-3.6zM500.4,247.4h3.6v3.6h-3.6zM501.3,246.6h3.6v3.6h-3.6zM502.2,248.8h3.6v3.6h-3.6zM503.1,252.6h3.6v3.6h-3.6zM504.0,252.2h3.6v3.6h-3.6zM504.9,251.3h3.6v3.6h-3.6zM505.8,247.9h3.6v3.6h-3.6zM506.7,242.6h3.6v3.6h-3.6zM507.6,249.9h3.6v3.6h-3.6zM508.5,254.7h3.6v3.6h-3.6zM509.4,252.6h3.6v3.6h-3.6zM510.3,248.0h3.6v3.6h-3.6zM511.2,252.1h3.6v3.6h-3.6zM512.1,247.2h3.6v3.6h-3.6zM513.0,248.5h3.6v3.6h-3.6zM513.9,243.4h3.6v3.6h-3.6zM514.8,247.4h3.6v3.6h-3.6zM515.7,249.4h3.6v3.6h-3.6zM516.6,248.2h3.6v3.6h-3.6zM517.5,252.1h3.6v3.6h-3.6zM518.4,256.6h3.6v3.6h-3.6zM519.3,254.0h3.6v3.6h-3.6zM520.2,247.3h3.6v3.6h-3.6zM521.1,245.8h3.6v3.6h-3.6zM522.0,246.3h3.6v3.6h-3.6zM522.9,245.1h3.6v3.6h-3.6zM523.8,249.3h3.6v3.6h-3.6zM524.7,250.7h3.6v3.6h-3.6zM525.6,249.3h3.6v3.6h-3.6zM526.5,249.1h3.6v3.6h-3.6zM527.4,248.8h3.6v3.6h-3.6zM528.3,247.4h3.6v3.6h-3.6zM529.2,244.9h3.6v3.6h-3.6zM530.1,255.4h3.6v3.6h-3.6zM531.0,252.8h3.6v3.6h-3.6zM531.9,244.9h3.6v3.6h-3.6zM532.8,244.8h3.6v3.6h-3.6zM533.7,245.7h3.6v3.6h-3.6zM534.6,248.2h3.6v3.6h-3.6zM535.5,253.5h3.6v3.6h-3.6zM536.4,252.4h3.6v3.6h-3.6zM537.3,252.6h3.6v3.6h-3.6zM538.2,252.8h3.6v3.6h-3.6zM539.1,252.6h3.6v3.6h-3.6zM540.0,251.0h3.6v3.6h-3.6zM540.9,249.5h3.6v3.6h-3.6zM541.8,247.5h3.6v3.6h-3.6zM542.7,240.8h3.6v3.6h-3.6zM543.6,247.4h3.6v3.6h-3.6zM544.5,255.2h3.6v3.6h-3.6zM545.4,245.1h3.6v3.6h-3.6zM546.3,244.5h3.6v3.6h-3.6zM547.2,251.6h3.6v3.6h-3.6zM548.1,247.7h3.6v3.6h-3.6zM549.0,245.7h3.6v3.6h-3.6zM549.9,254.3h3.6v3.6h-3.6zM550.8,250.5h3.6v3.6h-3.6zM551.7,251.3h3.6v3.6h-3.6zM552.6,245.9h3.6v3.6h-3.6zM553.5,250.4h3.6v3.6h-3.6zM554.4,249.8h3.6v3.6h-3.6zM555.3,251.4h3.6v3.6h-3.6zM556.2,253.2h3.6v3.6h-3.6zM557.1,253.1h3.6v3.6h-3.6zM558.0,249.0h3.6v3.6h-3.6zM558.9,251.2h3.6v3.6h-3.6zM559.8,243.4h3.6v3.6h-3.6zM560.7,250.6h3.6v3.6h-3.6zM561.6,251.0h3.6v3.6h-3.6zM562.5,246.7h3.6v3.6h-3.6zM563.4,245.3h3.6v3.6h-3.6zM564.3,248.1h3.6v3.6h-3.6zM565.2,242.9h3.6v3.6h-3.6zM566.1,249.1h3.6v3.6h-3.6zM567.0,248.8h3.6v3.6h-3.6zM567.9,243.5h3.6v3.6h-3.6zM568.8,248.0h3.6v3.6h-3.6zM569.7,252.3h3.6v3.6h-3.6zM570.6,252.4h3.6v3.6h-3.6zM571.5,251.7h3.6v3.6h-3.6zM572.4,246.7h3.6v3.6h-3.6zM573.3,246.0h3.6v3.6h-3.6zM574.2,245.7h3.6v3.6h-3.6zM575.1,249.5h3.6v3.6h-3.6zM576.0,256.9h3.6v3.6h-3.6zM576.9,252.8h3.6v3.6h-3.6zM577.8,253.6h3.6v3.6h-3.6zM578.7,252.5h3.6v3.6h-3.6zM579.6,240.1h3.6v3.6h-3.6zM580.5,245.7h3.6v3.6h-3.6zM581.4,244.9h3.6v3.6h-3.6zM582.3,251.9h3.6v3.6h-3.6zM583.2,253.6h3.6v3.6h-3.6zM584.1,243.8h3.6v3.6h-3.6zM585.0,246.7h3.6v3.6h-3.6zM585.9,248.7h3.6v3.6h-3.6zM586.8,244.5h3.6v3.6h-3.6zM587.7,244.4h3.6v3.6h-3.6zM588.6,244.4h3.6v3.6h-3.6zM589.5,251.1h3.6v3.6h-3.6zM590.4,244.0h3.6v3.6h-3.6zM591.3,252.3h3.6v3.6h-3.6zM592.2,247.7h3.6v3.6h-3.6zM593.1,250.1h3.6v3.6h-3.6zM594.0,253.9h3.6v3.6h-3.6zM594.9,244.7h3.6v3.6h-3.6zM595.8,243.7h3.6v3.6h-3.6zM596.7,248.8h3.6v3.6h-3.6zM597.6,242.7h3.6v3.6h-3.6zM598.5,243.5h3.6v3.6h-3.6zM599.4,245.8h3.6v3.6h-3.6zM600.3,246.5h3.6v3.6h-3.6zM601.2,240.4h3.6v3.6h-3.6zM602.1,243.6h3.6v3.6h-3.6zM603.0,247.5h3.6v3.6h-3.6zM603.9,250.3h3.6v3.6h-3.6zM604.8,236.2h3.6v3.6h-3.6zM605.7,250.1h3.6v3.6h-3.6zM606.6,248.2h3.6v3.6h-3.6zM607.5,240.1h3.6v3.6h-3.6zM608.4,238.9h3.6v3.6h-3.6zM609.3,246.9h3.6v3.6h-3.6zM610.2,243.5h3.6v3.6h-3.6zM611.1,246.1h3.6v3.6h-3.6zM612.0,249.5h3.6v3.6h-3.6zM612.9,244.4h3.6v3.6h-3.6zM613.8,246.8h3.6v3.6h-3.6zM614.7,248.4h3.6v3.6h-3.6zM615.6,250.4h3.6v3.6h-3.6zM616.5,253.7h3.6v3.6h-3.6zM617.4,253.6h3.6v3.6h-3.6zM618.3,247.7h3.6v3.6h-3.6zM619.2,245.5h3.6v3.6h-3.6z" stroke="#ff0000" stroke-width="1.4" fill="none"/></g><g stroke="#000" stroke-width="1.4" fill="none"><line x1="66.8" y1="0" x2="66.8" y2="340.9"/><line x1="324.4" y1="0" x2="324.4" y2="340.9"/><line x1="621.6" y1="0" x2="621.6" y2="340.9"/><line x1="66.0" y1="0.8" x2="622.4" y2="0.8"/><line x1="66.0" y1="170.9" x2="622.4" y2="170.9"/><line x1="66.0" y1="340.9" x2="622.4" y2="340.9"/></g><g stroke="#555" stroke-width="1.1" fill="none"><line x1="110.60" y1="0.8" x2="110.60" y2="6.7"/><line x1="110.60" y1="165.0" x2="110.60" y2="176.8"/><line x1="110.60" y1="335.0" x2="110.60" y2="340.9"/><line x1="154.40" y1="0.8" x2="154.40" y2="6.7"/><line x1="154.40" y1="165.0" x2="154.40" y2="176.8"/><line x1="154.40" y1="335.0" x2="154.40" y2="340.9"/><line x1="198.20" y1="0.8" x2="198.20" y2="6.7"/><line x1="198.20" y1="165.0" x2="198.20" y2="176.8"/><line x1="198.20" y1="335.0" x2="198.20" y2="340.9"/><line x1="242.00" y1="0.8" x2="242.00" y2="6.7"/><line x1="242.00" y1="165.0" x2="242.00" y2="176.8"/><line x1="242.00" y1="335.0" x2="242.00" y2="340.9"/><line x1="285.80" y1="0.8" x2="285.80" y2="6.7"/><line x1="285.80" y1="165.0" x2="285.80" y2="176.8"/><line x1="285.80" y1="335.0" x2="285.80" y2="340.9"/><line x1="354.88" y1="0.8" x2="354.88" y2="6.7"/><line x1="354.88" y1="165.0" x2="354.88" y2="176.8"/><line x1="354.88" y1="335.0" x2="354.88" y2="340.9"/><line x1="392.98" y1="0.8" x2="392.98" y2="6.7"/><line x1="392.98" y1="165.0" x2="392.98" y2="176.8"/><line x1="392.98" y1="335.0" x2="392.98" y2="340.9"/><line x1="431.08" y1="0.8" x2="431.08" y2="6.7"/><line x1="431.08" y1="165.0" x2="431.08" y2="176.8"/><line x1="431.08" y1="335.0" x2="431.08" y2="340.9"/><line x1="469.18" y1="0.8" x2="469.18" y2="6.7"/><line x1="469.18" y1="165.0" x2="469.18" y2="176.8"/><line x1="469.18" y1="335.0" x2="469.18" y2="340.9"/><line x1="507.28" y1="0.8" x2="507.28" y2="6.7"/><line x1="507.28" y1="165.0" x2="507.28" y2="176.8"/><line x1="507.28" y1="335.0" x2="507.28" y2="340.9"/><line x1="545.38" y1="0.8" x2="545.38" y2="6.7"/><line x1="545.38" y1="165.0" x2="545.38" y2="176.8"/><line x1="545.38" y1="335.0" x2="545.38" y2="340.9"/><line x1="583.48" y1="0.8" x2="583.48" y2="6.7"/><line x1="583.48" y1="165.0" x2="583.48" y2="176.8"/><line x1="583.48" y1="335.0" x2="583.48" y2="340.9"/><line x1="66.8" y1="99.90" x2="72.7" y2="99.90"/><line x1="318.5" y1="99.90" x2="330.29999999999995" y2="99.90"/><line x1="615.7" y1="99.90" x2="621.6" y2="99.90"/><line x1="66.8" y1="28.90" x2="72.7" y2="28.90"/><line x1="318.5" y1="28.90" x2="330.29999999999995" y2="28.90"/><line x1="615.7" y1="28.90" x2="621.6" y2="28.90"/><line x1="66.8" y1="270.00" x2="72.7" y2="270.00"/><line x1="318.5" y1="270.00" x2="330.29999999999995" y2="270.00"/><line x1="615.7" y1="270.00" x2="621.6" y2="270.00"/><line x1="66.8" y1="199.10" x2="72.7" y2="199.10"/><line x1="318.5" y1="199.10" x2="330.29999999999995" y2="199.10"/><line x1="615.7" y1="199.10" x2="621.6" y2="199.10"/></g><g font-family="Liberation Sans, sans-serif" font-size="13.5" fill="#000" stroke="#000" stroke-width="0.3"><text x="59.3" y="33.40" text-anchor="end">0.10</text><text x="59.3" y="104.40" text-anchor="end">0.05</text><text x="59.3" y="175.40" text-anchor="end">0.00</text><text x="59.3" y="203.60" text-anchor="end">0.1</text><text x="59.3" y="274.50" text-anchor="end">0.05</text><text x="59.3" y="345.40" text-anchor="end">0</text><text x="68.30" y="358.6" text-anchor="middle">0.4</text><text x="112.10" y="358.6" text-anchor="middle">0.5</text><text x="155.90" y="358.6" text-anchor="middle">0.6</text><text x="199.70" y="358.6" text-anchor="middle">0.7</text><text x="243.50" y="358.6" text-anchor="middle">0.8</text><text x="287.30" y="358.6" text-anchor="middle">0.9</text><text x="356.88" y="358.6" text-anchor="middle">9.5</text><text x="394.98" y="358.6" text-anchor="middle">10</text><text x="433.08" y="358.6" text-anchor="middle">10.5</text><text x="471.18" y="358.6" text-anchor="middle">11</text><text x="509.28" y="358.6" text-anchor="middle">11.5</text><text x="547.38" y="358.6" text-anchor="middle">12</text><text x="585.48" y="358.6" text-anchor="middle">12.5</text><text x="623.58" y="358.6" text-anchor="middle">13</text><text x="195.8" y="378" text-anchor="middle" letter-spacing="-0.3">Energy</text><text x="473.7" y="378" text-anchor="middle" letter-spacing="-0.3">Energy</text><text transform="translate(18.2,87.2) rotate(-90)" text-anchor="middle" font-size="13.7">Relative Flux</text><text transform="translate(11.2,255.9) rotate(-90)" text-anchor="middle" font-size="13.7">Relative Flux</text><text x="154" y="33.7" letter-spacing="-0.15">Post-scale</text><text x="154" y="203.9" letter-spacing="-0.15">Pre-scale</text><text x="393.5" y="33.7" letter-spacing="-0.15">Post-scale</text><text x="393.5" y="203.9" letter-spacing="-0.15">Pre-scale</text><text x="164.5" y="76.6" letter-spacing="-0.17">diffuse emission?</text></g><g stroke="#444" stroke-width="0.95" fill="none"><polyline points="153.8,71.6 145.6,71.6 145.6,110"/><polyline points="276.6,71.6 285.8,71.6 285.8,110"/></g><path d="M142.3,109.5 L148.9,109.5 L145.6,120.7 Z" fill="#000"/><path d="M282.5,109.5 L289.1,109.5 L285.8,120.7 Z" fill="#000"/></svg></body></html>
